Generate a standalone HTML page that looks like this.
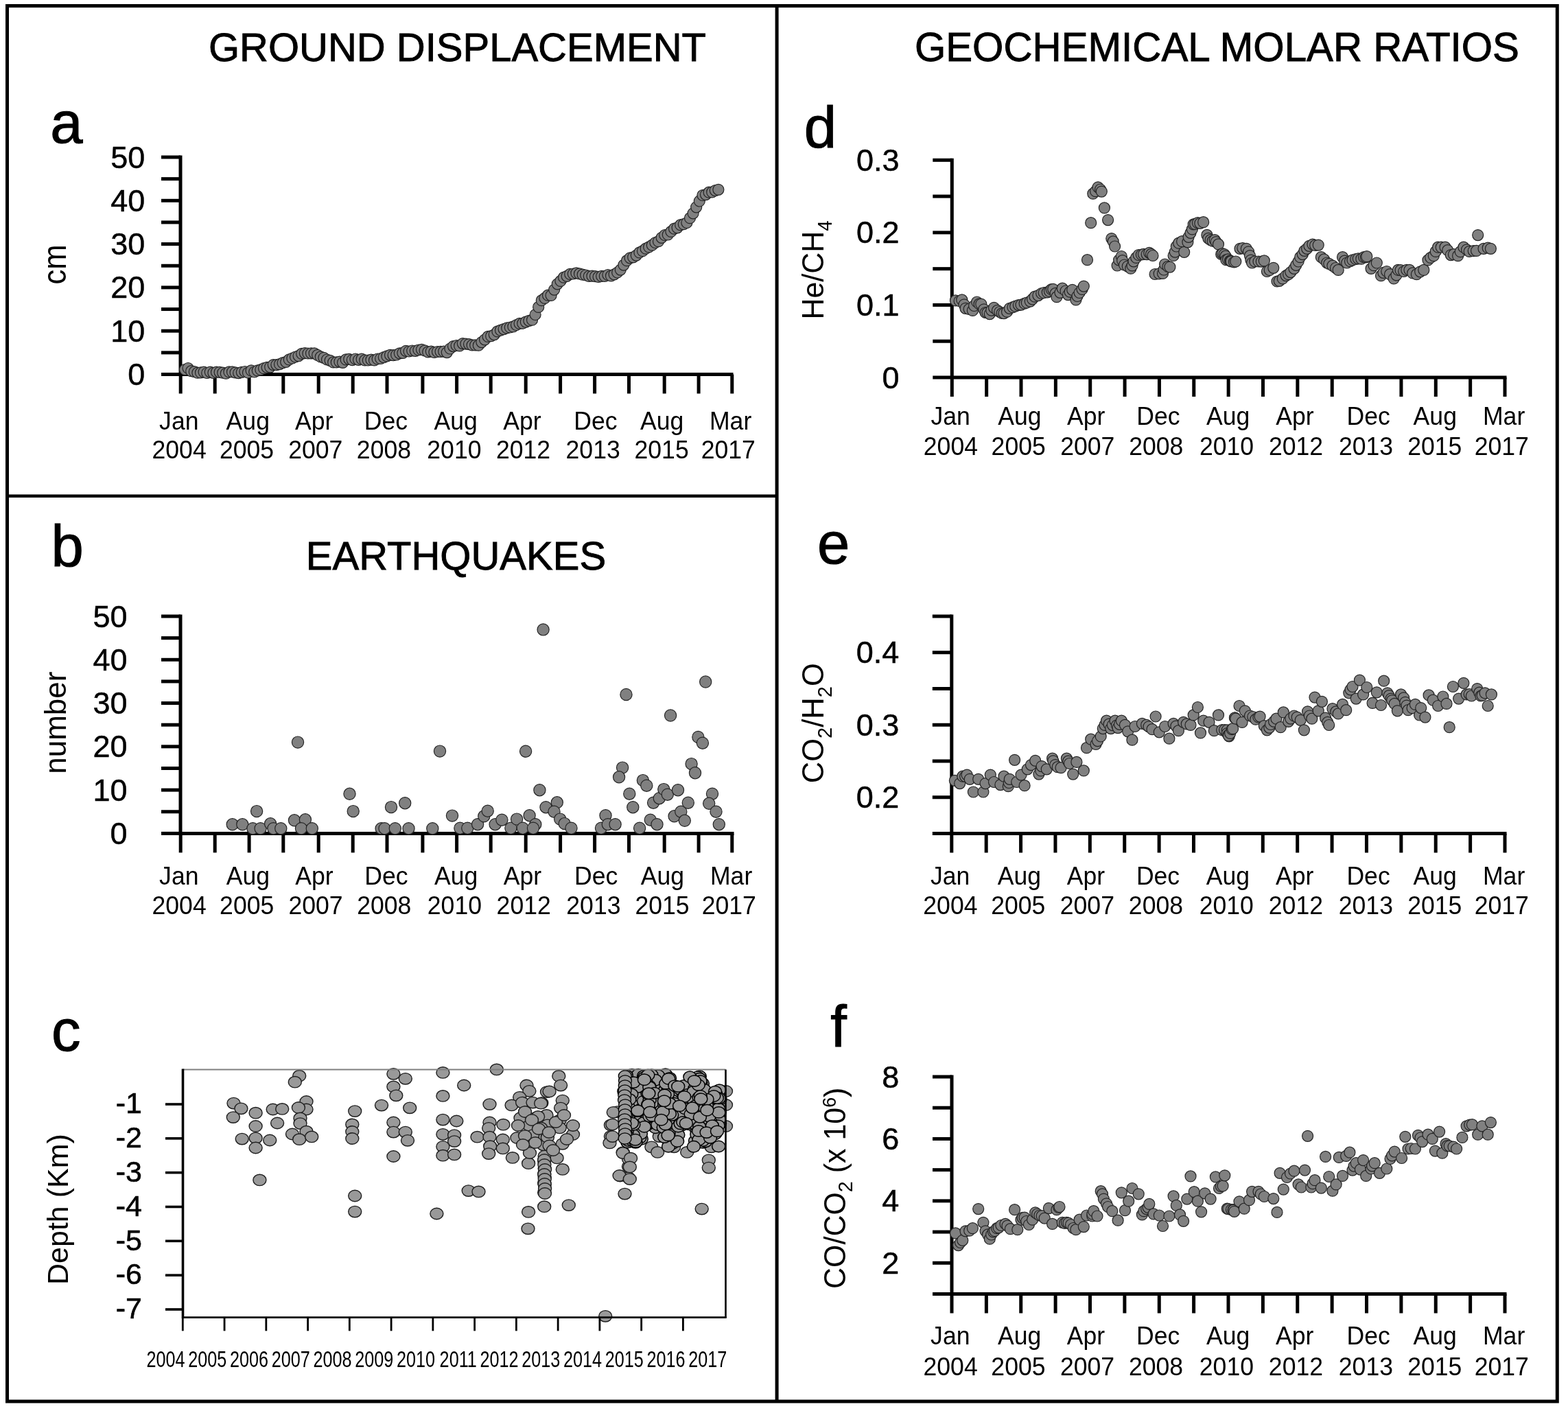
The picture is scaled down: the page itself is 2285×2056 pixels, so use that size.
<!DOCTYPE html>
<html><head><meta charset="utf-8"><title>Figure</title>
<style>html,body{margin:0;padding:0;background:#fff;}svg{display:block;}</style></head>
<body><svg width="2285" height="2056" viewBox="0 0 2285 2056" font-family="'Liberation Sans', sans-serif" fill="#000"><rect x="10.5" y="8.5" width="2258.8" height="2033.5" fill="none" stroke="#000" stroke-width="5"/>
<line x1="1132.10" y1="8.50" x2="1132.10" y2="2042.00" stroke="#000" stroke-width="5"/>
<line x1="10.50" y1="722.80" x2="1132.10" y2="722.80" stroke="#000" stroke-width="4.5"/>
<text x="303.90" y="89.00" font-size="58" text-anchor="start" stroke="#000" stroke-width="0.9">GROUND DISPLACEMENT</text>
<text x="1332.90" y="89.00" font-size="58.3" text-anchor="start" stroke="#000" stroke-width="0.9">GEOCHEMICAL MOLAR RATIOS</text>
<text x="445.80" y="830.00" font-size="58" text-anchor="start" stroke="#000" stroke-width="0.9">EARTHQUAKES</text>
<text x="73.20" y="207.80" font-size="85" text-anchor="start" stroke="#000" stroke-width="1.1">a</text>
<text x="74.60" y="825.00" font-size="85" text-anchor="start" stroke="#000" stroke-width="1.1">b</text>
<text x="74.90" y="1530.80" font-size="85" text-anchor="start" stroke="#000" stroke-width="1.1">c</text>
<text x="1171.80" y="215.30" font-size="85" text-anchor="start" stroke="#000" stroke-width="1.1">d</text>
<text x="1191.00" y="821.20" font-size="85" text-anchor="start" stroke="#000" stroke-width="1.1">e</text>
<text x="1210.20" y="1525.00" font-size="85" text-anchor="start" stroke="#000" stroke-width="1.1">f</text>
<line x1="263.00" y1="226.50" x2="263.00" y2="545.50" stroke="#000" stroke-width="5"/>
<line x1="235.00" y1="229.00" x2="263.00" y2="229.00" stroke="#000" stroke-width="5"/>
<line x1="235.00" y1="260.65" x2="263.00" y2="260.65" stroke="#000" stroke-width="5"/>
<line x1="235.00" y1="292.30" x2="263.00" y2="292.30" stroke="#000" stroke-width="5"/>
<line x1="235.00" y1="323.95" x2="263.00" y2="323.95" stroke="#000" stroke-width="5"/>
<line x1="235.00" y1="355.60" x2="263.00" y2="355.60" stroke="#000" stroke-width="5"/>
<line x1="235.00" y1="387.25" x2="263.00" y2="387.25" stroke="#000" stroke-width="5"/>
<line x1="235.00" y1="418.90" x2="263.00" y2="418.90" stroke="#000" stroke-width="5"/>
<line x1="235.00" y1="450.55" x2="263.00" y2="450.55" stroke="#000" stroke-width="5"/>
<line x1="235.00" y1="482.20" x2="263.00" y2="482.20" stroke="#000" stroke-width="5"/>
<line x1="235.00" y1="513.85" x2="263.00" y2="513.85" stroke="#000" stroke-width="5"/>
<line x1="235.00" y1="545.50" x2="263.00" y2="545.50" stroke="#000" stroke-width="5"/>
<line x1="263.00" y1="545.50" x2="1068.50" y2="545.50" stroke="#000" stroke-width="5"/>
<line x1="263.20" y1="545.50" x2="263.20" y2="573.50" stroke="#000" stroke-width="5"/>
<line x1="313.20" y1="545.50" x2="313.20" y2="573.50" stroke="#000" stroke-width="5"/>
<line x1="363.10" y1="545.50" x2="363.10" y2="573.50" stroke="#000" stroke-width="5"/>
<line x1="412.80" y1="545.50" x2="412.80" y2="573.50" stroke="#000" stroke-width="5"/>
<line x1="464.20" y1="545.50" x2="464.20" y2="573.50" stroke="#000" stroke-width="5"/>
<line x1="514.20" y1="545.50" x2="514.20" y2="573.50" stroke="#000" stroke-width="5"/>
<line x1="564.00" y1="545.50" x2="564.00" y2="573.50" stroke="#000" stroke-width="5"/>
<line x1="615.90" y1="545.50" x2="615.90" y2="573.50" stroke="#000" stroke-width="5"/>
<line x1="665.60" y1="545.50" x2="665.60" y2="573.50" stroke="#000" stroke-width="5"/>
<line x1="715.20" y1="545.50" x2="715.20" y2="573.50" stroke="#000" stroke-width="5"/>
<line x1="766.20" y1="545.50" x2="766.20" y2="573.50" stroke="#000" stroke-width="5"/>
<line x1="816.60" y1="545.50" x2="816.60" y2="573.50" stroke="#000" stroke-width="5"/>
<line x1="866.60" y1="545.50" x2="866.60" y2="573.50" stroke="#000" stroke-width="5"/>
<line x1="916.50" y1="545.50" x2="916.50" y2="573.50" stroke="#000" stroke-width="5"/>
<line x1="968.20" y1="545.50" x2="968.20" y2="573.50" stroke="#000" stroke-width="5"/>
<line x1="1018.10" y1="545.50" x2="1018.10" y2="573.50" stroke="#000" stroke-width="5"/>
<line x1="1066.80" y1="545.50" x2="1066.80" y2="573.50" stroke="#000" stroke-width="5"/>
<text x="211.20" y="244.50" font-size="45" text-anchor="end" stroke="#000" stroke-width="0.5">50</text>
<text x="211.20" y="307.80" font-size="45" text-anchor="end" stroke="#000" stroke-width="0.5">40</text>
<text x="211.20" y="371.10" font-size="45" text-anchor="end" stroke="#000" stroke-width="0.5">30</text>
<text x="211.20" y="434.40" font-size="45" text-anchor="end" stroke="#000" stroke-width="0.5">20</text>
<text x="211.20" y="497.70" font-size="45" text-anchor="end" stroke="#000" stroke-width="0.5">10</text>
<text x="211.20" y="561.00" font-size="45" text-anchor="end" stroke="#000" stroke-width="0.5">0</text>
<text transform="translate(260.80,625.70) scale(0.962,1)" font-size="37" text-anchor="middle">Jan</text>
<text transform="translate(261.10,668.00) scale(0.962,1)" font-size="37" text-anchor="middle">2004</text>
<text transform="translate(361.27,625.70) scale(0.962,1)" font-size="37" text-anchor="middle">Aug</text>
<text transform="translate(359.57,668.00) scale(0.962,1)" font-size="37" text-anchor="middle">2005</text>
<text transform="translate(457.75,625.70) scale(0.962,1)" font-size="37" text-anchor="middle">Apr</text>
<text transform="translate(459.75,668.00) scale(0.962,1)" font-size="37" text-anchor="middle">2007</text>
<text transform="translate(562.52,625.70) scale(0.962,1)" font-size="37" text-anchor="middle">Dec</text>
<text transform="translate(559.42,668.00) scale(0.962,1)" font-size="37" text-anchor="middle">2008</text>
<text transform="translate(664.10,625.70) scale(0.962,1)" font-size="37" text-anchor="middle">Aug</text>
<text transform="translate(661.90,668.00) scale(0.962,1)" font-size="37" text-anchor="middle">2010</text>
<text transform="translate(760.88,625.70) scale(0.962,1)" font-size="37" text-anchor="middle">Apr</text>
<text transform="translate(762.58,668.00) scale(0.962,1)" font-size="37" text-anchor="middle">2012</text>
<text transform="translate(867.85,625.70) scale(0.962,1)" font-size="37" text-anchor="middle">Dec</text>
<text transform="translate(864.15,668.00) scale(0.962,1)" font-size="37" text-anchor="middle">2013</text>
<text transform="translate(964.62,625.70) scale(0.962,1)" font-size="37" text-anchor="middle">Aug</text>
<text transform="translate(964.12,668.00) scale(0.962,1)" font-size="37" text-anchor="middle">2015</text>
<text transform="translate(1064.60,625.70) scale(0.962,1)" font-size="37" text-anchor="middle">Mar</text>
<text transform="translate(1061.30,668.00) scale(0.962,1)" font-size="37" text-anchor="middle">2017</text>
<line x1="263.00" y1="895.50" x2="263.00" y2="1214.40" stroke="#000" stroke-width="5"/>
<line x1="235.00" y1="898.00" x2="263.00" y2="898.00" stroke="#000" stroke-width="5"/>
<line x1="235.00" y1="929.64" x2="263.00" y2="929.64" stroke="#000" stroke-width="5"/>
<line x1="235.00" y1="961.28" x2="263.00" y2="961.28" stroke="#000" stroke-width="5"/>
<line x1="235.00" y1="992.92" x2="263.00" y2="992.92" stroke="#000" stroke-width="5"/>
<line x1="235.00" y1="1024.56" x2="263.00" y2="1024.56" stroke="#000" stroke-width="5"/>
<line x1="235.00" y1="1056.20" x2="263.00" y2="1056.20" stroke="#000" stroke-width="5"/>
<line x1="235.00" y1="1087.84" x2="263.00" y2="1087.84" stroke="#000" stroke-width="5"/>
<line x1="235.00" y1="1119.48" x2="263.00" y2="1119.48" stroke="#000" stroke-width="5"/>
<line x1="235.00" y1="1151.12" x2="263.00" y2="1151.12" stroke="#000" stroke-width="5"/>
<line x1="235.00" y1="1182.76" x2="263.00" y2="1182.76" stroke="#000" stroke-width="5"/>
<line x1="235.00" y1="1214.40" x2="263.00" y2="1214.40" stroke="#000" stroke-width="5"/>
<line x1="263.00" y1="1214.40" x2="1069.50" y2="1214.40" stroke="#000" stroke-width="5"/>
<line x1="263.20" y1="1214.40" x2="263.20" y2="1242.40" stroke="#000" stroke-width="5"/>
<line x1="313.20" y1="1214.40" x2="313.20" y2="1242.40" stroke="#000" stroke-width="5"/>
<line x1="363.10" y1="1214.40" x2="363.10" y2="1242.40" stroke="#000" stroke-width="5"/>
<line x1="412.80" y1="1214.40" x2="412.80" y2="1242.40" stroke="#000" stroke-width="5"/>
<line x1="464.20" y1="1214.40" x2="464.20" y2="1242.40" stroke="#000" stroke-width="5"/>
<line x1="514.20" y1="1214.40" x2="514.20" y2="1242.40" stroke="#000" stroke-width="5"/>
<line x1="564.00" y1="1214.40" x2="564.00" y2="1242.40" stroke="#000" stroke-width="5"/>
<line x1="615.90" y1="1214.40" x2="615.90" y2="1242.40" stroke="#000" stroke-width="5"/>
<line x1="665.60" y1="1214.40" x2="665.60" y2="1242.40" stroke="#000" stroke-width="5"/>
<line x1="715.20" y1="1214.40" x2="715.20" y2="1242.40" stroke="#000" stroke-width="5"/>
<line x1="766.20" y1="1214.40" x2="766.20" y2="1242.40" stroke="#000" stroke-width="5"/>
<line x1="816.60" y1="1214.40" x2="816.60" y2="1242.40" stroke="#000" stroke-width="5"/>
<line x1="866.60" y1="1214.40" x2="866.60" y2="1242.40" stroke="#000" stroke-width="5"/>
<line x1="916.50" y1="1214.40" x2="916.50" y2="1242.40" stroke="#000" stroke-width="5"/>
<line x1="968.20" y1="1214.40" x2="968.20" y2="1242.40" stroke="#000" stroke-width="5"/>
<line x1="1018.10" y1="1214.40" x2="1018.10" y2="1242.40" stroke="#000" stroke-width="5"/>
<line x1="1066.80" y1="1214.40" x2="1066.80" y2="1242.40" stroke="#000" stroke-width="5"/>
<text x="185.60" y="913.50" font-size="45" text-anchor="end" stroke="#000" stroke-width="0.5">50</text>
<text x="185.60" y="976.78" font-size="45" text-anchor="end" stroke="#000" stroke-width="0.5">40</text>
<text x="185.60" y="1040.06" font-size="45" text-anchor="end" stroke="#000" stroke-width="0.5">30</text>
<text x="185.60" y="1103.34" font-size="45" text-anchor="end" stroke="#000" stroke-width="0.5">20</text>
<text x="185.60" y="1166.62" font-size="45" text-anchor="end" stroke="#000" stroke-width="0.5">10</text>
<text x="185.60" y="1229.90" font-size="45" text-anchor="end" stroke="#000" stroke-width="0.5">0</text>
<text transform="translate(260.80,1289.30) scale(0.962,1)" font-size="37" text-anchor="middle">Jan</text>
<text transform="translate(261.10,1331.80) scale(0.962,1)" font-size="37" text-anchor="middle">2004</text>
<text transform="translate(361.40,1289.30) scale(0.962,1)" font-size="37" text-anchor="middle">Aug</text>
<text transform="translate(359.70,1331.80) scale(0.962,1)" font-size="37" text-anchor="middle">2005</text>
<text transform="translate(458.00,1289.30) scale(0.962,1)" font-size="37" text-anchor="middle">Apr</text>
<text transform="translate(460.00,1331.80) scale(0.962,1)" font-size="37" text-anchor="middle">2007</text>
<text transform="translate(562.90,1289.30) scale(0.962,1)" font-size="37" text-anchor="middle">Dec</text>
<text transform="translate(559.80,1331.80) scale(0.962,1)" font-size="37" text-anchor="middle">2008</text>
<text transform="translate(664.60,1289.30) scale(0.962,1)" font-size="37" text-anchor="middle">Aug</text>
<text transform="translate(662.40,1331.80) scale(0.962,1)" font-size="37" text-anchor="middle">2010</text>
<text transform="translate(761.50,1289.30) scale(0.962,1)" font-size="37" text-anchor="middle">Apr</text>
<text transform="translate(763.20,1331.80) scale(0.962,1)" font-size="37" text-anchor="middle">2012</text>
<text transform="translate(868.60,1289.30) scale(0.962,1)" font-size="37" text-anchor="middle">Dec</text>
<text transform="translate(864.90,1331.80) scale(0.962,1)" font-size="37" text-anchor="middle">2013</text>
<text transform="translate(965.50,1289.30) scale(0.962,1)" font-size="37" text-anchor="middle">Aug</text>
<text transform="translate(965.00,1331.80) scale(0.962,1)" font-size="37" text-anchor="middle">2015</text>
<text transform="translate(1065.60,1289.30) scale(0.962,1)" font-size="37" text-anchor="middle">Mar</text>
<text transform="translate(1062.30,1331.80) scale(0.962,1)" font-size="37" text-anchor="middle">2017</text>
<line x1="1387.30" y1="230.80" x2="1387.30" y2="550.00" stroke="#000" stroke-width="5"/>
<line x1="1359.30" y1="233.30" x2="1387.30" y2="233.30" stroke="#000" stroke-width="5"/>
<line x1="1359.30" y1="286.08" x2="1387.30" y2="286.08" stroke="#000" stroke-width="5"/>
<line x1="1359.30" y1="338.87" x2="1387.30" y2="338.87" stroke="#000" stroke-width="5"/>
<line x1="1359.30" y1="391.65" x2="1387.30" y2="391.65" stroke="#000" stroke-width="5"/>
<line x1="1359.30" y1="444.43" x2="1387.30" y2="444.43" stroke="#000" stroke-width="5"/>
<line x1="1359.30" y1="497.22" x2="1387.30" y2="497.22" stroke="#000" stroke-width="5"/>
<line x1="1359.30" y1="550.00" x2="1387.30" y2="550.00" stroke="#000" stroke-width="5"/>
<line x1="1387.30" y1="550.00" x2="2195.50" y2="550.00" stroke="#000" stroke-width="5"/>
<line x1="1387.30" y1="550.00" x2="1387.30" y2="578.00" stroke="#000" stroke-width="5"/>
<line x1="1437.66" y1="550.00" x2="1437.66" y2="578.00" stroke="#000" stroke-width="5"/>
<line x1="1488.01" y1="550.00" x2="1488.01" y2="578.00" stroke="#000" stroke-width="5"/>
<line x1="1538.37" y1="550.00" x2="1538.37" y2="578.00" stroke="#000" stroke-width="5"/>
<line x1="1588.72" y1="550.00" x2="1588.72" y2="578.00" stroke="#000" stroke-width="5"/>
<line x1="1639.08" y1="550.00" x2="1639.08" y2="578.00" stroke="#000" stroke-width="5"/>
<line x1="1689.44" y1="550.00" x2="1689.44" y2="578.00" stroke="#000" stroke-width="5"/>
<line x1="1739.79" y1="550.00" x2="1739.79" y2="578.00" stroke="#000" stroke-width="5"/>
<line x1="1790.15" y1="550.00" x2="1790.15" y2="578.00" stroke="#000" stroke-width="5"/>
<line x1="1840.51" y1="550.00" x2="1840.51" y2="578.00" stroke="#000" stroke-width="5"/>
<line x1="1890.86" y1="550.00" x2="1890.86" y2="578.00" stroke="#000" stroke-width="5"/>
<line x1="1941.22" y1="550.00" x2="1941.22" y2="578.00" stroke="#000" stroke-width="5"/>
<line x1="1991.58" y1="550.00" x2="1991.58" y2="578.00" stroke="#000" stroke-width="5"/>
<line x1="2041.93" y1="550.00" x2="2041.93" y2="578.00" stroke="#000" stroke-width="5"/>
<line x1="2092.29" y1="550.00" x2="2092.29" y2="578.00" stroke="#000" stroke-width="5"/>
<line x1="2142.64" y1="550.00" x2="2142.64" y2="578.00" stroke="#000" stroke-width="5"/>
<line x1="2193.00" y1="550.00" x2="2193.00" y2="578.00" stroke="#000" stroke-width="5"/>
<text x="1310.50" y="248.80" font-size="45" text-anchor="end" stroke="#000" stroke-width="0.5">0.3</text>
<text x="1310.50" y="354.37" font-size="45" text-anchor="end" stroke="#000" stroke-width="0.5">0.2</text>
<text x="1310.50" y="459.93" font-size="45" text-anchor="end" stroke="#000" stroke-width="0.5">0.1</text>
<text x="1310.50" y="565.50" font-size="45" text-anchor="end" stroke="#000" stroke-width="0.5">0</text>
<text transform="translate(1385.10,618.70) scale(0.962,1)" font-size="37" text-anchor="middle">Jan</text>
<text transform="translate(1385.40,663.10) scale(0.962,1)" font-size="37" text-anchor="middle">2004</text>
<text transform="translate(1485.91,618.70) scale(0.962,1)" font-size="37" text-anchor="middle">Aug</text>
<text transform="translate(1484.21,663.10) scale(0.962,1)" font-size="37" text-anchor="middle">2005</text>
<text transform="translate(1582.72,618.70) scale(0.962,1)" font-size="37" text-anchor="middle">Apr</text>
<text transform="translate(1584.72,663.10) scale(0.962,1)" font-size="37" text-anchor="middle">2007</text>
<text transform="translate(1687.84,618.70) scale(0.962,1)" font-size="37" text-anchor="middle">Dec</text>
<text transform="translate(1684.74,663.10) scale(0.962,1)" font-size="37" text-anchor="middle">2008</text>
<text transform="translate(1789.75,618.70) scale(0.962,1)" font-size="37" text-anchor="middle">Aug</text>
<text transform="translate(1787.55,663.10) scale(0.962,1)" font-size="37" text-anchor="middle">2010</text>
<text transform="translate(1886.86,618.70) scale(0.962,1)" font-size="37" text-anchor="middle">Apr</text>
<text transform="translate(1888.56,663.10) scale(0.962,1)" font-size="37" text-anchor="middle">2012</text>
<text transform="translate(1994.17,618.70) scale(0.962,1)" font-size="37" text-anchor="middle">Dec</text>
<text transform="translate(1990.48,663.10) scale(0.962,1)" font-size="37" text-anchor="middle">2013</text>
<text transform="translate(2091.29,618.70) scale(0.962,1)" font-size="37" text-anchor="middle">Aug</text>
<text transform="translate(2090.79,663.10) scale(0.962,1)" font-size="37" text-anchor="middle">2015</text>
<text transform="translate(2191.60,618.70) scale(0.962,1)" font-size="37" text-anchor="middle">Mar</text>
<text transform="translate(2188.30,663.10) scale(0.962,1)" font-size="37" text-anchor="middle">2017</text>
<line x1="1386.80" y1="895.50" x2="1386.80" y2="1214.50" stroke="#000" stroke-width="5"/>
<line x1="1358.80" y1="898.00" x2="1386.80" y2="898.00" stroke="#000" stroke-width="5"/>
<line x1="1358.80" y1="950.75" x2="1386.80" y2="950.75" stroke="#000" stroke-width="5"/>
<line x1="1358.80" y1="1003.50" x2="1386.80" y2="1003.50" stroke="#000" stroke-width="5"/>
<line x1="1358.80" y1="1056.25" x2="1386.80" y2="1056.25" stroke="#000" stroke-width="5"/>
<line x1="1358.80" y1="1109.00" x2="1386.80" y2="1109.00" stroke="#000" stroke-width="5"/>
<line x1="1358.80" y1="1161.75" x2="1386.80" y2="1161.75" stroke="#000" stroke-width="5"/>
<line x1="1358.80" y1="1214.50" x2="1386.80" y2="1214.50" stroke="#000" stroke-width="5"/>
<line x1="1386.80" y1="1214.50" x2="2195.50" y2="1214.50" stroke="#000" stroke-width="5"/>
<line x1="1386.80" y1="1214.50" x2="1386.80" y2="1242.50" stroke="#000" stroke-width="5"/>
<line x1="1437.19" y1="1214.50" x2="1437.19" y2="1242.50" stroke="#000" stroke-width="5"/>
<line x1="1487.58" y1="1214.50" x2="1487.58" y2="1242.50" stroke="#000" stroke-width="5"/>
<line x1="1537.96" y1="1214.50" x2="1537.96" y2="1242.50" stroke="#000" stroke-width="5"/>
<line x1="1588.35" y1="1214.50" x2="1588.35" y2="1242.50" stroke="#000" stroke-width="5"/>
<line x1="1638.74" y1="1214.50" x2="1638.74" y2="1242.50" stroke="#000" stroke-width="5"/>
<line x1="1689.12" y1="1214.50" x2="1689.12" y2="1242.50" stroke="#000" stroke-width="5"/>
<line x1="1739.51" y1="1214.50" x2="1739.51" y2="1242.50" stroke="#000" stroke-width="5"/>
<line x1="1789.90" y1="1214.50" x2="1789.90" y2="1242.50" stroke="#000" stroke-width="5"/>
<line x1="1840.29" y1="1214.50" x2="1840.29" y2="1242.50" stroke="#000" stroke-width="5"/>
<line x1="1890.67" y1="1214.50" x2="1890.67" y2="1242.50" stroke="#000" stroke-width="5"/>
<line x1="1941.06" y1="1214.50" x2="1941.06" y2="1242.50" stroke="#000" stroke-width="5"/>
<line x1="1991.45" y1="1214.50" x2="1991.45" y2="1242.50" stroke="#000" stroke-width="5"/>
<line x1="2041.84" y1="1214.50" x2="2041.84" y2="1242.50" stroke="#000" stroke-width="5"/>
<line x1="2092.22" y1="1214.50" x2="2092.22" y2="1242.50" stroke="#000" stroke-width="5"/>
<line x1="2142.61" y1="1214.50" x2="2142.61" y2="1242.50" stroke="#000" stroke-width="5"/>
<line x1="2193.00" y1="1214.50" x2="2193.00" y2="1242.50" stroke="#000" stroke-width="5"/>
<text x="1310.30" y="966.25" font-size="45" text-anchor="end" stroke="#000" stroke-width="0.5">0.4</text>
<text x="1310.30" y="1071.75" font-size="45" text-anchor="end" stroke="#000" stroke-width="0.5">0.3</text>
<text x="1310.30" y="1177.25" font-size="45" text-anchor="end" stroke="#000" stroke-width="0.5">0.2</text>
<text transform="translate(1384.60,1289.10) scale(0.962,1)" font-size="37" text-anchor="middle">Jan</text>
<text transform="translate(1384.90,1332.00) scale(0.962,1)" font-size="37" text-anchor="middle">2004</text>
<text transform="translate(1485.48,1289.10) scale(0.962,1)" font-size="37" text-anchor="middle">Aug</text>
<text transform="translate(1483.78,1332.00) scale(0.962,1)" font-size="37" text-anchor="middle">2005</text>
<text transform="translate(1582.35,1289.10) scale(0.962,1)" font-size="37" text-anchor="middle">Apr</text>
<text transform="translate(1584.35,1332.00) scale(0.962,1)" font-size="37" text-anchor="middle">2007</text>
<text transform="translate(1687.53,1289.10) scale(0.962,1)" font-size="37" text-anchor="middle">Dec</text>
<text transform="translate(1684.42,1332.00) scale(0.962,1)" font-size="37" text-anchor="middle">2008</text>
<text transform="translate(1789.50,1289.10) scale(0.962,1)" font-size="37" text-anchor="middle">Aug</text>
<text transform="translate(1787.30,1332.00) scale(0.962,1)" font-size="37" text-anchor="middle">2010</text>
<text transform="translate(1886.67,1289.10) scale(0.962,1)" font-size="37" text-anchor="middle">Apr</text>
<text transform="translate(1888.38,1332.00) scale(0.962,1)" font-size="37" text-anchor="middle">2012</text>
<text transform="translate(1994.05,1289.10) scale(0.962,1)" font-size="37" text-anchor="middle">Dec</text>
<text transform="translate(1990.35,1332.00) scale(0.962,1)" font-size="37" text-anchor="middle">2013</text>
<text transform="translate(2091.22,1289.10) scale(0.962,1)" font-size="37" text-anchor="middle">Aug</text>
<text transform="translate(2090.72,1332.00) scale(0.962,1)" font-size="37" text-anchor="middle">2015</text>
<text transform="translate(2191.60,1289.10) scale(0.962,1)" font-size="37" text-anchor="middle">Mar</text>
<text transform="translate(2188.30,1332.00) scale(0.962,1)" font-size="37" text-anchor="middle">2017</text>
<line x1="1387.00" y1="1566.50" x2="1387.00" y2="1885.50" stroke="#000" stroke-width="5"/>
<line x1="1359.00" y1="1569.00" x2="1387.00" y2="1569.00" stroke="#000" stroke-width="5"/>
<line x1="1359.00" y1="1614.21" x2="1387.00" y2="1614.21" stroke="#000" stroke-width="5"/>
<line x1="1359.00" y1="1659.43" x2="1387.00" y2="1659.43" stroke="#000" stroke-width="5"/>
<line x1="1359.00" y1="1704.64" x2="1387.00" y2="1704.64" stroke="#000" stroke-width="5"/>
<line x1="1359.00" y1="1749.86" x2="1387.00" y2="1749.86" stroke="#000" stroke-width="5"/>
<line x1="1359.00" y1="1795.07" x2="1387.00" y2="1795.07" stroke="#000" stroke-width="5"/>
<line x1="1359.00" y1="1840.29" x2="1387.00" y2="1840.29" stroke="#000" stroke-width="5"/>
<line x1="1359.00" y1="1885.50" x2="1387.00" y2="1885.50" stroke="#000" stroke-width="5"/>
<line x1="1387.00" y1="1885.50" x2="2195.50" y2="1885.50" stroke="#000" stroke-width="5"/>
<line x1="1387.00" y1="1885.50" x2="1387.00" y2="1913.50" stroke="#000" stroke-width="5"/>
<line x1="1437.38" y1="1885.50" x2="1437.38" y2="1913.50" stroke="#000" stroke-width="5"/>
<line x1="1487.75" y1="1885.50" x2="1487.75" y2="1913.50" stroke="#000" stroke-width="5"/>
<line x1="1538.12" y1="1885.50" x2="1538.12" y2="1913.50" stroke="#000" stroke-width="5"/>
<line x1="1588.50" y1="1885.50" x2="1588.50" y2="1913.50" stroke="#000" stroke-width="5"/>
<line x1="1638.88" y1="1885.50" x2="1638.88" y2="1913.50" stroke="#000" stroke-width="5"/>
<line x1="1689.25" y1="1885.50" x2="1689.25" y2="1913.50" stroke="#000" stroke-width="5"/>
<line x1="1739.62" y1="1885.50" x2="1739.62" y2="1913.50" stroke="#000" stroke-width="5"/>
<line x1="1790.00" y1="1885.50" x2="1790.00" y2="1913.50" stroke="#000" stroke-width="5"/>
<line x1="1840.38" y1="1885.50" x2="1840.38" y2="1913.50" stroke="#000" stroke-width="5"/>
<line x1="1890.75" y1="1885.50" x2="1890.75" y2="1913.50" stroke="#000" stroke-width="5"/>
<line x1="1941.12" y1="1885.50" x2="1941.12" y2="1913.50" stroke="#000" stroke-width="5"/>
<line x1="1991.50" y1="1885.50" x2="1991.50" y2="1913.50" stroke="#000" stroke-width="5"/>
<line x1="2041.88" y1="1885.50" x2="2041.88" y2="1913.50" stroke="#000" stroke-width="5"/>
<line x1="2092.25" y1="1885.50" x2="2092.25" y2="1913.50" stroke="#000" stroke-width="5"/>
<line x1="2142.62" y1="1885.50" x2="2142.62" y2="1913.50" stroke="#000" stroke-width="5"/>
<line x1="2193.00" y1="1885.50" x2="2193.00" y2="1913.50" stroke="#000" stroke-width="5"/>
<text x="1310.30" y="1584.50" font-size="45" text-anchor="end" stroke="#000" stroke-width="0.5">8</text>
<text x="1310.30" y="1674.93" font-size="45" text-anchor="end" stroke="#000" stroke-width="0.5">6</text>
<text x="1310.30" y="1765.36" font-size="45" text-anchor="end" stroke="#000" stroke-width="0.5">4</text>
<text x="1310.30" y="1855.79" font-size="45" text-anchor="end" stroke="#000" stroke-width="0.5">2</text>
<text transform="translate(1384.80,1959.20) scale(0.962,1)" font-size="37" text-anchor="middle">Jan</text>
<text transform="translate(1385.10,2003.70) scale(0.962,1)" font-size="37" text-anchor="middle">2004</text>
<text transform="translate(1485.65,1959.20) scale(0.962,1)" font-size="37" text-anchor="middle">Aug</text>
<text transform="translate(1483.95,2003.70) scale(0.962,1)" font-size="37" text-anchor="middle">2005</text>
<text transform="translate(1582.50,1959.20) scale(0.962,1)" font-size="37" text-anchor="middle">Apr</text>
<text transform="translate(1584.50,2003.70) scale(0.962,1)" font-size="37" text-anchor="middle">2007</text>
<text transform="translate(1687.65,1959.20) scale(0.962,1)" font-size="37" text-anchor="middle">Dec</text>
<text transform="translate(1684.55,2003.70) scale(0.962,1)" font-size="37" text-anchor="middle">2008</text>
<text transform="translate(1789.60,1959.20) scale(0.962,1)" font-size="37" text-anchor="middle">Aug</text>
<text transform="translate(1787.40,2003.70) scale(0.962,1)" font-size="37" text-anchor="middle">2010</text>
<text transform="translate(1886.75,1959.20) scale(0.962,1)" font-size="37" text-anchor="middle">Apr</text>
<text transform="translate(1888.45,2003.70) scale(0.962,1)" font-size="37" text-anchor="middle">2012</text>
<text transform="translate(1994.10,1959.20) scale(0.962,1)" font-size="37" text-anchor="middle">Dec</text>
<text transform="translate(1990.40,2003.70) scale(0.962,1)" font-size="37" text-anchor="middle">2013</text>
<text transform="translate(2091.25,1959.20) scale(0.962,1)" font-size="37" text-anchor="middle">Aug</text>
<text transform="translate(2090.75,2003.70) scale(0.962,1)" font-size="37" text-anchor="middle">2015</text>
<text transform="translate(2191.60,1959.20) scale(0.962,1)" font-size="37" text-anchor="middle">Mar</text>
<text transform="translate(2188.30,2003.70) scale(0.962,1)" font-size="37" text-anchor="middle">2017</text>
<text transform="translate(95.80,414.50) rotate(-90) scale(0.92,1)" font-size="47.5">cm</text>
<text transform="translate(96.20,1127.80) rotate(-90)" font-size="44">number</text>
<text transform="translate(98.50,1872.00) rotate(-90)" font-size="43">Depth (Km)</text>
<text transform="translate(1199.50,465.60) rotate(-90) scale(0.955,1)" font-size="45">He/CH<tspan font-size="29" dy="12.3">4</tspan></text>
<text transform="translate(1199.50,1141.30) rotate(-90) scale(0.968,1)" font-size="45">CO<tspan font-size="30" dy="12.8">2</tspan><tspan dy="-12.8">/H</tspan><tspan font-size="30" dy="12.8">2</tspan><tspan dy="-12.8">O</tspan></text>
<text transform="translate(1231.60,1878.00) rotate(-90) scale(0.955,1)" font-size="45">CO/CO<tspan font-size="30" dy="10.7">2</tspan><tspan dy="-10.7"> (x 10</tspan><tspan font-size="28" dy="-13.2">6</tspan><tspan dy="13.2">)</tspan></text>
<circle cx="269.5" cy="538.5" r="8.0" fill="#808080" stroke="#252525" stroke-width="1.2"/>
<circle cx="274.1" cy="536.5" r="8.0" fill="#808080" stroke="#252525" stroke-width="1.2"/>
<circle cx="278.7" cy="540.7" r="8.0" fill="#808080" stroke="#252525" stroke-width="1.2"/>
<circle cx="283.3" cy="541.7" r="8.0" fill="#808080" stroke="#252525" stroke-width="1.2"/>
<circle cx="287.9" cy="543.2" r="8.0" fill="#808080" stroke="#252525" stroke-width="1.2"/>
<circle cx="292.5" cy="542.9" r="8.0" fill="#808080" stroke="#252525" stroke-width="1.2"/>
<circle cx="297.1" cy="542.1" r="8.0" fill="#808080" stroke="#252525" stroke-width="1.2"/>
<circle cx="301.7" cy="543.5" r="8.0" fill="#808080" stroke="#252525" stroke-width="1.2"/>
<circle cx="306.3" cy="542.1" r="8.0" fill="#808080" stroke="#252525" stroke-width="1.2"/>
<circle cx="310.9" cy="543.3" r="8.0" fill="#808080" stroke="#252525" stroke-width="1.2"/>
<circle cx="315.5" cy="542.2" r="8.0" fill="#808080" stroke="#252525" stroke-width="1.2"/>
<circle cx="320.1" cy="542.3" r="8.0" fill="#808080" stroke="#252525" stroke-width="1.2"/>
<circle cx="324.7" cy="543.2" r="8.0" fill="#808080" stroke="#252525" stroke-width="1.2"/>
<circle cx="329.3" cy="544.2" r="8.0" fill="#808080" stroke="#252525" stroke-width="1.2"/>
<circle cx="333.9" cy="541.9" r="8.0" fill="#808080" stroke="#252525" stroke-width="1.2"/>
<circle cx="338.5" cy="541.9" r="8.0" fill="#808080" stroke="#252525" stroke-width="1.2"/>
<circle cx="343.1" cy="542.9" r="8.0" fill="#808080" stroke="#252525" stroke-width="1.2"/>
<circle cx="347.7" cy="543.6" r="8.0" fill="#808080" stroke="#252525" stroke-width="1.2"/>
<circle cx="352.3" cy="542.3" r="8.0" fill="#808080" stroke="#252525" stroke-width="1.2"/>
<circle cx="356.9" cy="541.5" r="8.0" fill="#808080" stroke="#252525" stroke-width="1.2"/>
<circle cx="361.5" cy="543.0" r="8.0" fill="#808080" stroke="#252525" stroke-width="1.2"/>
<circle cx="366.1" cy="539.9" r="8.0" fill="#808080" stroke="#252525" stroke-width="1.2"/>
<circle cx="370.7" cy="542.0" r="8.0" fill="#808080" stroke="#252525" stroke-width="1.2"/>
<circle cx="375.3" cy="539.9" r="8.0" fill="#808080" stroke="#252525" stroke-width="1.2"/>
<circle cx="379.9" cy="538.7" r="8.0" fill="#808080" stroke="#252525" stroke-width="1.2"/>
<circle cx="384.5" cy="536.7" r="8.0" fill="#808080" stroke="#252525" stroke-width="1.2"/>
<circle cx="389.1" cy="535.3" r="8.0" fill="#808080" stroke="#252525" stroke-width="1.2"/>
<circle cx="393.7" cy="534.8" r="8.0" fill="#808080" stroke="#252525" stroke-width="1.2"/>
<circle cx="398.3" cy="531.6" r="8.0" fill="#808080" stroke="#252525" stroke-width="1.2"/>
<circle cx="402.9" cy="531.6" r="8.0" fill="#808080" stroke="#252525" stroke-width="1.2"/>
<circle cx="407.5" cy="530.7" r="8.0" fill="#808080" stroke="#252525" stroke-width="1.2"/>
<circle cx="412.1" cy="528.7" r="8.0" fill="#808080" stroke="#252525" stroke-width="1.2"/>
<circle cx="416.7" cy="527.3" r="8.0" fill="#808080" stroke="#252525" stroke-width="1.2"/>
<circle cx="421.3" cy="523.9" r="8.0" fill="#808080" stroke="#252525" stroke-width="1.2"/>
<circle cx="425.9" cy="522.0" r="8.0" fill="#808080" stroke="#252525" stroke-width="1.2"/>
<circle cx="430.5" cy="520.0" r="8.0" fill="#808080" stroke="#252525" stroke-width="1.2"/>
<circle cx="435.1" cy="518.6" r="8.0" fill="#808080" stroke="#252525" stroke-width="1.2"/>
<circle cx="439.7" cy="515.4" r="8.0" fill="#808080" stroke="#252525" stroke-width="1.2"/>
<circle cx="444.3" cy="514.6" r="8.0" fill="#808080" stroke="#252525" stroke-width="1.2"/>
<circle cx="448.9" cy="515.0" r="8.0" fill="#808080" stroke="#252525" stroke-width="1.2"/>
<circle cx="453.5" cy="514.8" r="8.0" fill="#808080" stroke="#252525" stroke-width="1.2"/>
<circle cx="458.1" cy="514.8" r="8.0" fill="#808080" stroke="#252525" stroke-width="1.2"/>
<circle cx="462.7" cy="517.4" r="8.0" fill="#808080" stroke="#252525" stroke-width="1.2"/>
<circle cx="467.3" cy="519.9" r="8.0" fill="#808080" stroke="#252525" stroke-width="1.2"/>
<circle cx="471.9" cy="521.3" r="8.0" fill="#808080" stroke="#252525" stroke-width="1.2"/>
<circle cx="476.5" cy="524.0" r="8.0" fill="#808080" stroke="#252525" stroke-width="1.2"/>
<circle cx="481.1" cy="525.3" r="8.0" fill="#808080" stroke="#252525" stroke-width="1.2"/>
<circle cx="485.7" cy="527.9" r="8.0" fill="#808080" stroke="#252525" stroke-width="1.2"/>
<circle cx="490.3" cy="527.9" r="8.0" fill="#808080" stroke="#252525" stroke-width="1.2"/>
<circle cx="494.9" cy="527.1" r="8.0" fill="#808080" stroke="#252525" stroke-width="1.2"/>
<circle cx="499.5" cy="528.3" r="8.0" fill="#808080" stroke="#252525" stroke-width="1.2"/>
<circle cx="504.1" cy="523.9" r="8.0" fill="#808080" stroke="#252525" stroke-width="1.2"/>
<circle cx="508.7" cy="523.3" r="8.0" fill="#808080" stroke="#252525" stroke-width="1.2"/>
<circle cx="513.3" cy="524.6" r="8.0" fill="#808080" stroke="#252525" stroke-width="1.2"/>
<circle cx="517.9" cy="523.0" r="8.0" fill="#808080" stroke="#252525" stroke-width="1.2"/>
<circle cx="522.5" cy="524.3" r="8.0" fill="#808080" stroke="#252525" stroke-width="1.2"/>
<circle cx="527.1" cy="523.2" r="8.0" fill="#808080" stroke="#252525" stroke-width="1.2"/>
<circle cx="531.7" cy="524.9" r="8.0" fill="#808080" stroke="#252525" stroke-width="1.2"/>
<circle cx="536.3" cy="525.0" r="8.0" fill="#808080" stroke="#252525" stroke-width="1.2"/>
<circle cx="540.9" cy="524.2" r="8.0" fill="#808080" stroke="#252525" stroke-width="1.2"/>
<circle cx="545.5" cy="524.9" r="8.0" fill="#808080" stroke="#252525" stroke-width="1.2"/>
<circle cx="550.1" cy="523.0" r="8.0" fill="#808080" stroke="#252525" stroke-width="1.2"/>
<circle cx="554.7" cy="522.5" r="8.0" fill="#808080" stroke="#252525" stroke-width="1.2"/>
<circle cx="559.3" cy="520.6" r="8.0" fill="#808080" stroke="#252525" stroke-width="1.2"/>
<circle cx="563.9" cy="518.9" r="8.0" fill="#808080" stroke="#252525" stroke-width="1.2"/>
<circle cx="568.5" cy="517.3" r="8.0" fill="#808080" stroke="#252525" stroke-width="1.2"/>
<circle cx="573.1" cy="517.6" r="8.0" fill="#808080" stroke="#252525" stroke-width="1.2"/>
<circle cx="577.7" cy="517.0" r="8.0" fill="#808080" stroke="#252525" stroke-width="1.2"/>
<circle cx="582.3" cy="514.8" r="8.0" fill="#808080" stroke="#252525" stroke-width="1.2"/>
<circle cx="586.9" cy="514.3" r="8.0" fill="#808080" stroke="#252525" stroke-width="1.2"/>
<circle cx="591.5" cy="511.3" r="8.0" fill="#808080" stroke="#252525" stroke-width="1.2"/>
<circle cx="596.1" cy="512.0" r="8.0" fill="#808080" stroke="#252525" stroke-width="1.2"/>
<circle cx="600.7" cy="511.0" r="8.0" fill="#808080" stroke="#252525" stroke-width="1.2"/>
<circle cx="605.3" cy="511.3" r="8.0" fill="#808080" stroke="#252525" stroke-width="1.2"/>
<circle cx="609.9" cy="510.0" r="8.0" fill="#808080" stroke="#252525" stroke-width="1.2"/>
<circle cx="614.5" cy="509.4" r="8.0" fill="#808080" stroke="#252525" stroke-width="1.2"/>
<circle cx="619.1" cy="510.9" r="8.0" fill="#808080" stroke="#252525" stroke-width="1.2"/>
<circle cx="623.7" cy="512.9" r="8.0" fill="#808080" stroke="#252525" stroke-width="1.2"/>
<circle cx="628.3" cy="512.1" r="8.0" fill="#808080" stroke="#252525" stroke-width="1.2"/>
<circle cx="632.9" cy="513.4" r="8.0" fill="#808080" stroke="#252525" stroke-width="1.2"/>
<circle cx="637.5" cy="512.5" r="8.0" fill="#808080" stroke="#252525" stroke-width="1.2"/>
<circle cx="642.1" cy="512.4" r="8.0" fill="#808080" stroke="#252525" stroke-width="1.2"/>
<circle cx="646.7" cy="512.2" r="8.0" fill="#808080" stroke="#252525" stroke-width="1.2"/>
<circle cx="651.3" cy="513.6" r="8.0" fill="#808080" stroke="#252525" stroke-width="1.2"/>
<circle cx="655.9" cy="508.0" r="8.0" fill="#808080" stroke="#252525" stroke-width="1.2"/>
<circle cx="660.5" cy="504.6" r="8.0" fill="#808080" stroke="#252525" stroke-width="1.2"/>
<circle cx="665.1" cy="503.5" r="8.0" fill="#808080" stroke="#252525" stroke-width="1.2"/>
<circle cx="669.7" cy="503.9" r="8.0" fill="#808080" stroke="#252525" stroke-width="1.2"/>
<circle cx="674.3" cy="500.6" r="8.0" fill="#808080" stroke="#252525" stroke-width="1.2"/>
<circle cx="678.9" cy="501.1" r="8.0" fill="#808080" stroke="#252525" stroke-width="1.2"/>
<circle cx="683.5" cy="501.6" r="8.0" fill="#808080" stroke="#252525" stroke-width="1.2"/>
<circle cx="688.1" cy="502.9" r="8.0" fill="#808080" stroke="#252525" stroke-width="1.2"/>
<circle cx="692.7" cy="502.9" r="8.0" fill="#808080" stroke="#252525" stroke-width="1.2"/>
<circle cx="697.3" cy="503.2" r="8.0" fill="#808080" stroke="#252525" stroke-width="1.2"/>
<circle cx="701.9" cy="498.6" r="8.0" fill="#808080" stroke="#252525" stroke-width="1.2"/>
<circle cx="706.5" cy="494.8" r="8.0" fill="#808080" stroke="#252525" stroke-width="1.2"/>
<circle cx="711.1" cy="490.4" r="8.0" fill="#808080" stroke="#252525" stroke-width="1.2"/>
<circle cx="715.7" cy="489.7" r="8.0" fill="#808080" stroke="#252525" stroke-width="1.2"/>
<circle cx="720.3" cy="487.6" r="8.0" fill="#808080" stroke="#252525" stroke-width="1.2"/>
<circle cx="724.9" cy="482.9" r="8.0" fill="#808080" stroke="#252525" stroke-width="1.2"/>
<circle cx="729.5" cy="481.2" r="8.0" fill="#808080" stroke="#252525" stroke-width="1.2"/>
<circle cx="734.1" cy="479.6" r="8.0" fill="#808080" stroke="#252525" stroke-width="1.2"/>
<circle cx="738.7" cy="477.9" r="8.0" fill="#808080" stroke="#252525" stroke-width="1.2"/>
<circle cx="743.3" cy="477.0" r="8.0" fill="#808080" stroke="#252525" stroke-width="1.2"/>
<circle cx="747.9" cy="475.9" r="8.0" fill="#808080" stroke="#252525" stroke-width="1.2"/>
<circle cx="752.5" cy="473.5" r="8.0" fill="#808080" stroke="#252525" stroke-width="1.2"/>
<circle cx="757.1" cy="471.4" r="8.0" fill="#808080" stroke="#252525" stroke-width="1.2"/>
<circle cx="761.7" cy="471.2" r="8.0" fill="#808080" stroke="#252525" stroke-width="1.2"/>
<circle cx="766.3" cy="469.1" r="8.0" fill="#808080" stroke="#252525" stroke-width="1.2"/>
<circle cx="770.9" cy="467.3" r="8.0" fill="#808080" stroke="#252525" stroke-width="1.2"/>
<circle cx="775.5" cy="466.2" r="8.0" fill="#808080" stroke="#252525" stroke-width="1.2"/>
<circle cx="780.1" cy="458.5" r="8.0" fill="#808080" stroke="#252525" stroke-width="1.2"/>
<circle cx="784.7" cy="447.4" r="8.0" fill="#808080" stroke="#252525" stroke-width="1.2"/>
<circle cx="789.3" cy="437.7" r="8.0" fill="#808080" stroke="#252525" stroke-width="1.2"/>
<circle cx="793.9" cy="434.4" r="8.0" fill="#808080" stroke="#252525" stroke-width="1.2"/>
<circle cx="798.5" cy="430.2" r="8.0" fill="#808080" stroke="#252525" stroke-width="1.2"/>
<circle cx="803.1" cy="430.4" r="8.0" fill="#808080" stroke="#252525" stroke-width="1.2"/>
<circle cx="807.7" cy="422.1" r="8.0" fill="#808080" stroke="#252525" stroke-width="1.2"/>
<circle cx="812.3" cy="413.8" r="8.0" fill="#808080" stroke="#252525" stroke-width="1.2"/>
<circle cx="816.9" cy="409.4" r="8.0" fill="#808080" stroke="#252525" stroke-width="1.2"/>
<circle cx="821.5" cy="404.2" r="8.0" fill="#808080" stroke="#252525" stroke-width="1.2"/>
<circle cx="826.1" cy="402.3" r="8.0" fill="#808080" stroke="#252525" stroke-width="1.2"/>
<circle cx="830.7" cy="399.4" r="8.0" fill="#808080" stroke="#252525" stroke-width="1.2"/>
<circle cx="835.3" cy="399.0" r="8.0" fill="#808080" stroke="#252525" stroke-width="1.2"/>
<circle cx="839.9" cy="397.9" r="8.0" fill="#808080" stroke="#252525" stroke-width="1.2"/>
<circle cx="844.5" cy="398.9" r="8.0" fill="#808080" stroke="#252525" stroke-width="1.2"/>
<circle cx="849.1" cy="400.2" r="8.0" fill="#808080" stroke="#252525" stroke-width="1.2"/>
<circle cx="853.7" cy="401.0" r="8.0" fill="#808080" stroke="#252525" stroke-width="1.2"/>
<circle cx="858.3" cy="402.4" r="8.0" fill="#808080" stroke="#252525" stroke-width="1.2"/>
<circle cx="862.9" cy="402.2" r="8.0" fill="#808080" stroke="#252525" stroke-width="1.2"/>
<circle cx="867.5" cy="402.7" r="8.0" fill="#808080" stroke="#252525" stroke-width="1.2"/>
<circle cx="872.1" cy="403.4" r="8.0" fill="#808080" stroke="#252525" stroke-width="1.2"/>
<circle cx="876.7" cy="402.4" r="8.0" fill="#808080" stroke="#252525" stroke-width="1.2"/>
<circle cx="881.3" cy="402.4" r="8.0" fill="#808080" stroke="#252525" stroke-width="1.2"/>
<circle cx="885.9" cy="400.5" r="8.0" fill="#808080" stroke="#252525" stroke-width="1.2"/>
<circle cx="890.5" cy="401.9" r="8.0" fill="#808080" stroke="#252525" stroke-width="1.2"/>
<circle cx="895.1" cy="399.8" r="8.0" fill="#808080" stroke="#252525" stroke-width="1.2"/>
<circle cx="899.7" cy="397.0" r="8.0" fill="#808080" stroke="#252525" stroke-width="1.2"/>
<circle cx="904.3" cy="393.1" r="8.0" fill="#808080" stroke="#252525" stroke-width="1.2"/>
<circle cx="908.9" cy="386.1" r="8.0" fill="#808080" stroke="#252525" stroke-width="1.2"/>
<circle cx="913.5" cy="379.7" r="8.0" fill="#808080" stroke="#252525" stroke-width="1.2"/>
<circle cx="918.1" cy="375.8" r="8.0" fill="#808080" stroke="#252525" stroke-width="1.2"/>
<circle cx="922.7" cy="374.8" r="8.0" fill="#808080" stroke="#252525" stroke-width="1.2"/>
<circle cx="927.3" cy="372.1" r="8.0" fill="#808080" stroke="#252525" stroke-width="1.2"/>
<circle cx="931.9" cy="367.9" r="8.0" fill="#808080" stroke="#252525" stroke-width="1.2"/>
<circle cx="936.5" cy="365.7" r="8.0" fill="#808080" stroke="#252525" stroke-width="1.2"/>
<circle cx="941.1" cy="362.2" r="8.0" fill="#808080" stroke="#252525" stroke-width="1.2"/>
<circle cx="945.7" cy="359.9" r="8.0" fill="#808080" stroke="#252525" stroke-width="1.2"/>
<circle cx="950.3" cy="357.2" r="8.0" fill="#808080" stroke="#252525" stroke-width="1.2"/>
<circle cx="954.9" cy="353.5" r="8.0" fill="#808080" stroke="#252525" stroke-width="1.2"/>
<circle cx="959.5" cy="351.7" r="8.0" fill="#808080" stroke="#252525" stroke-width="1.2"/>
<circle cx="964.1" cy="346.3" r="8.0" fill="#808080" stroke="#252525" stroke-width="1.2"/>
<circle cx="968.7" cy="342.5" r="8.0" fill="#808080" stroke="#252525" stroke-width="1.2"/>
<circle cx="973.3" cy="342.0" r="8.0" fill="#808080" stroke="#252525" stroke-width="1.2"/>
<circle cx="977.9" cy="337.4" r="8.0" fill="#808080" stroke="#252525" stroke-width="1.2"/>
<circle cx="982.5" cy="333.2" r="8.0" fill="#808080" stroke="#252525" stroke-width="1.2"/>
<circle cx="987.1" cy="331.8" r="8.0" fill="#808080" stroke="#252525" stroke-width="1.2"/>
<circle cx="991.7" cy="327.7" r="8.0" fill="#808080" stroke="#252525" stroke-width="1.2"/>
<circle cx="996.3" cy="326.7" r="8.0" fill="#808080" stroke="#252525" stroke-width="1.2"/>
<circle cx="1000.9" cy="324.5" r="8.0" fill="#808080" stroke="#252525" stroke-width="1.2"/>
<circle cx="1005.5" cy="317.7" r="8.0" fill="#808080" stroke="#252525" stroke-width="1.2"/>
<circle cx="1010.1" cy="310.8" r="8.0" fill="#808080" stroke="#252525" stroke-width="1.2"/>
<circle cx="1014.7" cy="301.8" r="8.0" fill="#808080" stroke="#252525" stroke-width="1.2"/>
<circle cx="1019.3" cy="293.0" r="8.0" fill="#808080" stroke="#252525" stroke-width="1.2"/>
<circle cx="1023.9" cy="284.5" r="8.0" fill="#808080" stroke="#252525" stroke-width="1.2"/>
<circle cx="1028.5" cy="283.6" r="8.0" fill="#808080" stroke="#252525" stroke-width="1.2"/>
<circle cx="1033.1" cy="280.2" r="8.0" fill="#808080" stroke="#252525" stroke-width="1.2"/>
<circle cx="1037.7" cy="279.9" r="8.0" fill="#808080" stroke="#252525" stroke-width="1.2"/>
<circle cx="1042.3" cy="277.6" r="8.0" fill="#808080" stroke="#252525" stroke-width="1.2"/>
<circle cx="1046.9" cy="276.3" r="8.0" fill="#808080" stroke="#252525" stroke-width="1.2"/>
<circle cx="338.7" cy="1201.3" r="8.6" fill="#808080" stroke="#252525" stroke-width="1.2"/>
<circle cx="353.3" cy="1201.3" r="8.6" fill="#808080" stroke="#252525" stroke-width="1.2"/>
<circle cx="368.4" cy="1207.2" r="8.6" fill="#808080" stroke="#252525" stroke-width="1.2"/>
<circle cx="379.6" cy="1207.2" r="8.6" fill="#808080" stroke="#252525" stroke-width="1.2"/>
<circle cx="374.1" cy="1182.1" r="8.6" fill="#808080" stroke="#252525" stroke-width="1.2"/>
<circle cx="394.1" cy="1200.3" r="8.6" fill="#808080" stroke="#252525" stroke-width="1.2"/>
<circle cx="398.4" cy="1207.2" r="8.6" fill="#808080" stroke="#252525" stroke-width="1.2"/>
<circle cx="409.3" cy="1207.2" r="8.6" fill="#808080" stroke="#252525" stroke-width="1.2"/>
<circle cx="434.0" cy="1081.6" r="8.6" fill="#808080" stroke="#252525" stroke-width="1.2"/>
<circle cx="429.0" cy="1195.3" r="8.6" fill="#808080" stroke="#252525" stroke-width="1.2"/>
<circle cx="444.9" cy="1194.3" r="8.6" fill="#808080" stroke="#252525" stroke-width="1.2"/>
<circle cx="439.0" cy="1207.2" r="8.6" fill="#808080" stroke="#252525" stroke-width="1.2"/>
<circle cx="454.8" cy="1207.2" r="8.6" fill="#808080" stroke="#252525" stroke-width="1.2"/>
<circle cx="509.5" cy="1156.8" r="8.6" fill="#808080" stroke="#252525" stroke-width="1.2"/>
<circle cx="514.7" cy="1182.1" r="8.6" fill="#808080" stroke="#252525" stroke-width="1.2"/>
<circle cx="555.6" cy="1207.2" r="8.6" fill="#808080" stroke="#252525" stroke-width="1.2"/>
<circle cx="560.5" cy="1207.2" r="8.6" fill="#808080" stroke="#252525" stroke-width="1.2"/>
<circle cx="575.8" cy="1207.2" r="8.6" fill="#808080" stroke="#252525" stroke-width="1.2"/>
<circle cx="570.0" cy="1176.1" r="8.6" fill="#808080" stroke="#252525" stroke-width="1.2"/>
<circle cx="590.2" cy="1170.2" r="8.6" fill="#808080" stroke="#252525" stroke-width="1.2"/>
<circle cx="595.5" cy="1207.2" r="8.6" fill="#808080" stroke="#252525" stroke-width="1.2"/>
<circle cx="630.3" cy="1207.2" r="8.6" fill="#808080" stroke="#252525" stroke-width="1.2"/>
<circle cx="641.0" cy="1094.6" r="8.6" fill="#808080" stroke="#252525" stroke-width="1.2"/>
<circle cx="659.0" cy="1188.6" r="8.6" fill="#808080" stroke="#252525" stroke-width="1.2"/>
<circle cx="791.6" cy="917.4" r="8.6" fill="#808080" stroke="#252525" stroke-width="1.2"/>
<circle cx="766.1" cy="1094.7" r="8.6" fill="#808080" stroke="#252525" stroke-width="1.2"/>
<circle cx="670.4" cy="1206.7" r="8.6" fill="#808080" stroke="#252525" stroke-width="1.2"/>
<circle cx="681.3" cy="1206.7" r="8.6" fill="#808080" stroke="#252525" stroke-width="1.2"/>
<circle cx="696.1" cy="1201.2" r="8.6" fill="#808080" stroke="#252525" stroke-width="1.2"/>
<circle cx="705.3" cy="1189.3" r="8.6" fill="#808080" stroke="#252525" stroke-width="1.2"/>
<circle cx="710.7" cy="1181.7" r="8.6" fill="#808080" stroke="#252525" stroke-width="1.2"/>
<circle cx="721.6" cy="1201.2" r="8.6" fill="#808080" stroke="#252525" stroke-width="1.2"/>
<circle cx="731.4" cy="1194.7" r="8.6" fill="#808080" stroke="#252525" stroke-width="1.2"/>
<circle cx="744.4" cy="1206.7" r="8.6" fill="#808080" stroke="#252525" stroke-width="1.2"/>
<circle cx="753.1" cy="1193.6" r="8.6" fill="#808080" stroke="#252525" stroke-width="1.2"/>
<circle cx="761.8" cy="1206.7" r="8.6" fill="#808080" stroke="#252525" stroke-width="1.2"/>
<circle cx="771.6" cy="1188.2" r="8.6" fill="#808080" stroke="#252525" stroke-width="1.2"/>
<circle cx="780.3" cy="1201.2" r="8.6" fill="#808080" stroke="#252525" stroke-width="1.2"/>
<circle cx="777.0" cy="1206.7" r="8.6" fill="#808080" stroke="#252525" stroke-width="1.2"/>
<circle cx="786.4" cy="1151.2" r="8.6" fill="#808080" stroke="#252525" stroke-width="1.2"/>
<circle cx="795.5" cy="1176.2" r="8.6" fill="#808080" stroke="#252525" stroke-width="1.2"/>
<circle cx="811.8" cy="1169.3" r="8.6" fill="#808080" stroke="#252525" stroke-width="1.2"/>
<circle cx="807.5" cy="1182.7" r="8.6" fill="#808080" stroke="#252525" stroke-width="1.2"/>
<circle cx="816.2" cy="1193.6" r="8.6" fill="#808080" stroke="#252525" stroke-width="1.2"/>
<circle cx="822.7" cy="1200.1" r="8.6" fill="#808080" stroke="#252525" stroke-width="1.2"/>
<circle cx="832.5" cy="1206.7" r="8.6" fill="#808080" stroke="#252525" stroke-width="1.2"/>
<circle cx="876.0" cy="1206.7" r="8.6" fill="#808080" stroke="#252525" stroke-width="1.2"/>
<circle cx="882.5" cy="1188.2" r="8.6" fill="#808080" stroke="#252525" stroke-width="1.2"/>
<circle cx="885.8" cy="1201.2" r="8.6" fill="#808080" stroke="#252525" stroke-width="1.2"/>
<circle cx="896.6" cy="1201.2" r="8.6" fill="#808080" stroke="#252525" stroke-width="1.2"/>
<circle cx="912.5" cy="1012.0" r="8.6" fill="#808080" stroke="#252525" stroke-width="1.2"/>
<circle cx="907.1" cy="1118.6" r="8.6" fill="#808080" stroke="#252525" stroke-width="1.2"/>
<circle cx="902.1" cy="1132.3" r="8.6" fill="#808080" stroke="#252525" stroke-width="1.2"/>
<circle cx="917.3" cy="1156.7" r="8.6" fill="#808080" stroke="#252525" stroke-width="1.2"/>
<circle cx="922.3" cy="1176.2" r="8.6" fill="#808080" stroke="#252525" stroke-width="1.2"/>
<circle cx="932.1" cy="1206.7" r="8.6" fill="#808080" stroke="#252525" stroke-width="1.2"/>
<circle cx="936.9" cy="1137.1" r="8.6" fill="#808080" stroke="#252525" stroke-width="1.2"/>
<circle cx="942.3" cy="1144.7" r="8.6" fill="#808080" stroke="#252525" stroke-width="1.2"/>
<circle cx="947.8" cy="1194.7" r="8.6" fill="#808080" stroke="#252525" stroke-width="1.2"/>
<circle cx="957.5" cy="1201.2" r="8.6" fill="#808080" stroke="#252525" stroke-width="1.2"/>
<circle cx="952.1" cy="1169.7" r="8.6" fill="#808080" stroke="#252525" stroke-width="1.2"/>
<circle cx="960.8" cy="1163.2" r="8.6" fill="#808080" stroke="#252525" stroke-width="1.2"/>
<circle cx="967.3" cy="1150.1" r="8.6" fill="#808080" stroke="#252525" stroke-width="1.2"/>
<circle cx="972.8" cy="1157.7" r="8.6" fill="#808080" stroke="#252525" stroke-width="1.2"/>
<circle cx="988.0" cy="1151.2" r="8.6" fill="#808080" stroke="#252525" stroke-width="1.2"/>
<circle cx="977.1" cy="1042.5" r="8.6" fill="#808080" stroke="#252525" stroke-width="1.2"/>
<circle cx="982.6" cy="1189.3" r="8.6" fill="#808080" stroke="#252525" stroke-width="1.2"/>
<circle cx="992.3" cy="1182.7" r="8.6" fill="#808080" stroke="#252525" stroke-width="1.2"/>
<circle cx="1002.8" cy="1169.7" r="8.6" fill="#808080" stroke="#252525" stroke-width="1.2"/>
<circle cx="997.8" cy="1195.8" r="8.6" fill="#808080" stroke="#252525" stroke-width="1.2"/>
<circle cx="1007.6" cy="1113.1" r="8.6" fill="#808080" stroke="#252525" stroke-width="1.2"/>
<circle cx="1013.0" cy="1126.2" r="8.6" fill="#808080" stroke="#252525" stroke-width="1.2"/>
<circle cx="1017.4" cy="1074.0" r="8.6" fill="#808080" stroke="#252525" stroke-width="1.2"/>
<circle cx="1023.9" cy="1082.7" r="8.6" fill="#808080" stroke="#252525" stroke-width="1.2"/>
<circle cx="1028.2" cy="993.5" r="8.6" fill="#808080" stroke="#252525" stroke-width="1.2"/>
<circle cx="1038.0" cy="1156.7" r="8.6" fill="#808080" stroke="#252525" stroke-width="1.2"/>
<circle cx="1033.2" cy="1170.8" r="8.6" fill="#808080" stroke="#252525" stroke-width="1.2"/>
<circle cx="1043.5" cy="1182.7" r="8.6" fill="#808080" stroke="#252525" stroke-width="1.2"/>
<circle cx="1047.8" cy="1201.2" r="8.6" fill="#808080" stroke="#252525" stroke-width="1.2"/>
<circle cx="1392.5" cy="437.9" r="8.0" fill="#808080" stroke="#252525" stroke-width="1.2"/>
<circle cx="1398.1" cy="438.5" r="8.0" fill="#808080" stroke="#252525" stroke-width="1.2"/>
<circle cx="1401.8" cy="436.9" r="8.0" fill="#808080" stroke="#252525" stroke-width="1.2"/>
<circle cx="1405.0" cy="443.8" r="8.0" fill="#808080" stroke="#252525" stroke-width="1.2"/>
<circle cx="1407.0" cy="449.3" r="8.0" fill="#808080" stroke="#252525" stroke-width="1.2"/>
<circle cx="1412.2" cy="450.4" r="8.0" fill="#808080" stroke="#252525" stroke-width="1.2"/>
<circle cx="1417.4" cy="452.4" r="8.0" fill="#808080" stroke="#252525" stroke-width="1.2"/>
<circle cx="1419.6" cy="445.5" r="8.0" fill="#808080" stroke="#252525" stroke-width="1.2"/>
<circle cx="1423.6" cy="440.0" r="8.0" fill="#808080" stroke="#252525" stroke-width="1.2"/>
<circle cx="1427.1" cy="442.9" r="8.0" fill="#808080" stroke="#252525" stroke-width="1.2"/>
<circle cx="1429.8" cy="443.1" r="8.0" fill="#808080" stroke="#252525" stroke-width="1.2"/>
<circle cx="1433.8" cy="450.8" r="8.0" fill="#808080" stroke="#252525" stroke-width="1.2"/>
<circle cx="1436.1" cy="455.5" r="8.0" fill="#808080" stroke="#252525" stroke-width="1.2"/>
<circle cx="1438.9" cy="455.7" r="8.0" fill="#808080" stroke="#252525" stroke-width="1.2"/>
<circle cx="1442.3" cy="457.6" r="8.0" fill="#808080" stroke="#252525" stroke-width="1.2"/>
<circle cx="1444.8" cy="452.1" r="8.0" fill="#808080" stroke="#252525" stroke-width="1.2"/>
<circle cx="1448.5" cy="448.3" r="8.0" fill="#808080" stroke="#252525" stroke-width="1.2"/>
<circle cx="1453.5" cy="452.4" r="8.0" fill="#808080" stroke="#252525" stroke-width="1.2"/>
<circle cx="1456.8" cy="454.5" r="8.0" fill="#808080" stroke="#252525" stroke-width="1.2"/>
<circle cx="1460.2" cy="456.4" r="8.0" fill="#808080" stroke="#252525" stroke-width="1.2"/>
<circle cx="1463.0" cy="456.6" r="8.0" fill="#808080" stroke="#252525" stroke-width="1.2"/>
<circle cx="1467.5" cy="454.2" r="8.0" fill="#808080" stroke="#252525" stroke-width="1.2"/>
<circle cx="1471.3" cy="449.3" r="8.0" fill="#808080" stroke="#252525" stroke-width="1.2"/>
<circle cx="1476.0" cy="447.7" r="8.0" fill="#808080" stroke="#252525" stroke-width="1.2"/>
<circle cx="1479.7" cy="446.2" r="8.0" fill="#808080" stroke="#252525" stroke-width="1.2"/>
<circle cx="1484.4" cy="444.6" r="8.0" fill="#808080" stroke="#252525" stroke-width="1.2"/>
<circle cx="1488.0" cy="444.1" r="8.0" fill="#808080" stroke="#252525" stroke-width="1.2"/>
<circle cx="1493.1" cy="442.2" r="8.0" fill="#808080" stroke="#252525" stroke-width="1.2"/>
<circle cx="1496.3" cy="441.0" r="8.0" fill="#808080" stroke="#252525" stroke-width="1.2"/>
<circle cx="1501.3" cy="439.1" r="8.0" fill="#808080" stroke="#252525" stroke-width="1.2"/>
<circle cx="1504.6" cy="435.8" r="8.0" fill="#808080" stroke="#252525" stroke-width="1.2"/>
<circle cx="1508.0" cy="432.2" r="8.0" fill="#808080" stroke="#252525" stroke-width="1.2"/>
<circle cx="1512.9" cy="430.6" r="8.0" fill="#808080" stroke="#252525" stroke-width="1.2"/>
<circle cx="1517.7" cy="427.5" r="8.0" fill="#808080" stroke="#252525" stroke-width="1.2"/>
<circle cx="1521.2" cy="426.5" r="8.0" fill="#808080" stroke="#252525" stroke-width="1.2"/>
<circle cx="1526.3" cy="425.9" r="8.0" fill="#808080" stroke="#252525" stroke-width="1.2"/>
<circle cx="1529.5" cy="424.4" r="8.0" fill="#808080" stroke="#252525" stroke-width="1.2"/>
<circle cx="1532.2" cy="421.7" r="8.0" fill="#808080" stroke="#252525" stroke-width="1.2"/>
<circle cx="1534.7" cy="421.3" r="8.0" fill="#808080" stroke="#252525" stroke-width="1.2"/>
<circle cx="1538.2" cy="427.4" r="8.0" fill="#808080" stroke="#252525" stroke-width="1.2"/>
<circle cx="1539.9" cy="432.7" r="8.0" fill="#808080" stroke="#252525" stroke-width="1.2"/>
<circle cx="1544.9" cy="426.3" r="8.0" fill="#808080" stroke="#252525" stroke-width="1.2"/>
<circle cx="1548.2" cy="420.2" r="8.0" fill="#808080" stroke="#252525" stroke-width="1.2"/>
<circle cx="1553.0" cy="424.0" r="8.0" fill="#808080" stroke="#252525" stroke-width="1.2"/>
<circle cx="1556.5" cy="429.6" r="8.0" fill="#808080" stroke="#252525" stroke-width="1.2"/>
<circle cx="1559.2" cy="425.2" r="8.0" fill="#808080" stroke="#252525" stroke-width="1.2"/>
<circle cx="1562.7" cy="422.3" r="8.0" fill="#808080" stroke="#252525" stroke-width="1.2"/>
<circle cx="1567.9" cy="436.9" r="8.0" fill="#808080" stroke="#252525" stroke-width="1.2"/>
<circle cx="1570.0" cy="431.5" r="8.0" fill="#808080" stroke="#252525" stroke-width="1.2"/>
<circle cx="1573.1" cy="426.5" r="8.0" fill="#808080" stroke="#252525" stroke-width="1.2"/>
<circle cx="1577.0" cy="421.4" r="8.0" fill="#808080" stroke="#252525" stroke-width="1.2"/>
<circle cx="1579.3" cy="417.1" r="8.0" fill="#808080" stroke="#252525" stroke-width="1.2"/>
<circle cx="1584.5" cy="378.7" r="8.0" fill="#808080" stroke="#252525" stroke-width="1.2"/>
<circle cx="1589.7" cy="324.7" r="8.0" fill="#808080" stroke="#252525" stroke-width="1.2"/>
<circle cx="1592.8" cy="282.2" r="8.0" fill="#808080" stroke="#252525" stroke-width="1.2"/>
<circle cx="1596.6" cy="278.7" r="8.0" fill="#808080" stroke="#252525" stroke-width="1.2"/>
<circle cx="1600.1" cy="272.8" r="8.0" fill="#808080" stroke="#252525" stroke-width="1.2"/>
<circle cx="1603.5" cy="276.0" r="8.0" fill="#808080" stroke="#252525" stroke-width="1.2"/>
<circle cx="1605.3" cy="279.1" r="8.0" fill="#808080" stroke="#252525" stroke-width="1.2"/>
<circle cx="1609.4" cy="302.9" r="8.0" fill="#808080" stroke="#252525" stroke-width="1.2"/>
<circle cx="1614.6" cy="320.6" r="8.0" fill="#808080" stroke="#252525" stroke-width="1.2"/>
<circle cx="1619.8" cy="347.6" r="8.0" fill="#808080" stroke="#252525" stroke-width="1.2"/>
<circle cx="1622.2" cy="351.9" r="8.0" fill="#808080" stroke="#252525" stroke-width="1.2"/>
<circle cx="1624.6" cy="359.0" r="8.0" fill="#808080" stroke="#252525" stroke-width="1.2"/>
<circle cx="1628.1" cy="387.0" r="8.0" fill="#808080" stroke="#252525" stroke-width="1.2"/>
<circle cx="1630.6" cy="378.8" r="8.0" fill="#808080" stroke="#252525" stroke-width="1.2"/>
<circle cx="1634.3" cy="373.5" r="8.0" fill="#808080" stroke="#252525" stroke-width="1.2"/>
<circle cx="1635.7" cy="379.7" r="8.0" fill="#808080" stroke="#252525" stroke-width="1.2"/>
<circle cx="1638.5" cy="386.0" r="8.0" fill="#808080" stroke="#252525" stroke-width="1.2"/>
<circle cx="1643.3" cy="388.1" r="8.0" fill="#808080" stroke="#252525" stroke-width="1.2"/>
<circle cx="1647.8" cy="391.2" r="8.0" fill="#808080" stroke="#252525" stroke-width="1.2"/>
<circle cx="1650.0" cy="386.9" r="8.0" fill="#808080" stroke="#252525" stroke-width="1.2"/>
<circle cx="1652.0" cy="380.8" r="8.0" fill="#808080" stroke="#252525" stroke-width="1.2"/>
<circle cx="1655.7" cy="375.4" r="8.0" fill="#808080" stroke="#252525" stroke-width="1.2"/>
<circle cx="1659.2" cy="371.5" r="8.0" fill="#808080" stroke="#252525" stroke-width="1.2"/>
<circle cx="1663.4" cy="371.0" r="8.0" fill="#808080" stroke="#252525" stroke-width="1.2"/>
<circle cx="1666.5" cy="370.4" r="8.0" fill="#808080" stroke="#252525" stroke-width="1.2"/>
<circle cx="1671.2" cy="370.6" r="8.0" fill="#808080" stroke="#252525" stroke-width="1.2"/>
<circle cx="1674.8" cy="368.3" r="8.0" fill="#808080" stroke="#252525" stroke-width="1.2"/>
<circle cx="1677.6" cy="370.4" r="8.0" fill="#808080" stroke="#252525" stroke-width="1.2"/>
<circle cx="1680.0" cy="372.5" r="8.0" fill="#808080" stroke="#252525" stroke-width="1.2"/>
<circle cx="1683.1" cy="399.5" r="8.0" fill="#808080" stroke="#252525" stroke-width="1.2"/>
<circle cx="1689.2" cy="398.8" r="8.0" fill="#808080" stroke="#252525" stroke-width="1.2"/>
<circle cx="1694.5" cy="398.4" r="8.0" fill="#808080" stroke="#252525" stroke-width="1.2"/>
<circle cx="1696.0" cy="393.0" r="8.0" fill="#808080" stroke="#252525" stroke-width="1.2"/>
<circle cx="1697.6" cy="385.0" r="8.0" fill="#808080" stroke="#252525" stroke-width="1.2"/>
<circle cx="1702.0" cy="388.4" r="8.0" fill="#808080" stroke="#252525" stroke-width="1.2"/>
<circle cx="1704.9" cy="389.1" r="8.0" fill="#808080" stroke="#252525" stroke-width="1.2"/>
<circle cx="1710.1" cy="372.5" r="8.0" fill="#808080" stroke="#252525" stroke-width="1.2"/>
<circle cx="1712.3" cy="367.1" r="8.0" fill="#808080" stroke="#252525" stroke-width="1.2"/>
<circle cx="1714.3" cy="359.0" r="8.0" fill="#808080" stroke="#252525" stroke-width="1.2"/>
<circle cx="1717.7" cy="354.2" r="8.0" fill="#808080" stroke="#252525" stroke-width="1.2"/>
<circle cx="1722.6" cy="351.7" r="8.0" fill="#808080" stroke="#252525" stroke-width="1.2"/>
<circle cx="1725.7" cy="367.3" r="8.0" fill="#808080" stroke="#252525" stroke-width="1.2"/>
<circle cx="1730.9" cy="352.8" r="8.0" fill="#808080" stroke="#252525" stroke-width="1.2"/>
<circle cx="1732.1" cy="345.3" r="8.0" fill="#808080" stroke="#252525" stroke-width="1.2"/>
<circle cx="1735.0" cy="339.3" r="8.0" fill="#808080" stroke="#252525" stroke-width="1.2"/>
<circle cx="1737.4" cy="333.9" r="8.0" fill="#808080" stroke="#252525" stroke-width="1.2"/>
<circle cx="1739.2" cy="326.8" r="8.0" fill="#808080" stroke="#252525" stroke-width="1.2"/>
<circle cx="1741.6" cy="326.4" r="8.0" fill="#808080" stroke="#252525" stroke-width="1.2"/>
<circle cx="1745.4" cy="324.7" r="8.0" fill="#808080" stroke="#252525" stroke-width="1.2"/>
<circle cx="1748.8" cy="325.3" r="8.0" fill="#808080" stroke="#252525" stroke-width="1.2"/>
<circle cx="1753.7" cy="323.7" r="8.0" fill="#808080" stroke="#252525" stroke-width="1.2"/>
<circle cx="1758.9" cy="342.4" r="8.0" fill="#808080" stroke="#252525" stroke-width="1.2"/>
<circle cx="1760.9" cy="347.4" r="8.0" fill="#808080" stroke="#252525" stroke-width="1.2"/>
<circle cx="1764.1" cy="349.7" r="8.0" fill="#808080" stroke="#252525" stroke-width="1.2"/>
<circle cx="1767.2" cy="351.2" r="8.0" fill="#808080" stroke="#252525" stroke-width="1.2"/>
<circle cx="1770.3" cy="349.7" r="8.0" fill="#808080" stroke="#252525" stroke-width="1.2"/>
<circle cx="1772.2" cy="352.6" r="8.0" fill="#808080" stroke="#252525" stroke-width="1.2"/>
<circle cx="1775.5" cy="355.9" r="8.0" fill="#808080" stroke="#252525" stroke-width="1.2"/>
<circle cx="1779.7" cy="370.4" r="8.0" fill="#808080" stroke="#252525" stroke-width="1.2"/>
<circle cx="1781.6" cy="369.6" r="8.0" fill="#808080" stroke="#252525" stroke-width="1.2"/>
<circle cx="1784.2" cy="370.6" r="8.0" fill="#808080" stroke="#252525" stroke-width="1.2"/>
<circle cx="1786.0" cy="373.2" r="8.0" fill="#808080" stroke="#252525" stroke-width="1.2"/>
<circle cx="1786.9" cy="378.7" r="8.0" fill="#808080" stroke="#252525" stroke-width="1.2"/>
<circle cx="1789.6" cy="377.9" r="8.0" fill="#808080" stroke="#252525" stroke-width="1.2"/>
<circle cx="1792.5" cy="379.9" r="8.0" fill="#808080" stroke="#252525" stroke-width="1.2"/>
<circle cx="1793.6" cy="380.4" r="8.0" fill="#808080" stroke="#252525" stroke-width="1.2"/>
<circle cx="1794.2" cy="380.8" r="8.0" fill="#808080" stroke="#252525" stroke-width="1.2"/>
<circle cx="1798.5" cy="381.8" r="8.0" fill="#808080" stroke="#252525" stroke-width="1.2"/>
<circle cx="1800.8" cy="381.0" r="8.0" fill="#808080" stroke="#252525" stroke-width="1.2"/>
<circle cx="1807.0" cy="362.3" r="8.0" fill="#808080" stroke="#252525" stroke-width="1.2"/>
<circle cx="1810.9" cy="361.6" r="8.0" fill="#808080" stroke="#252525" stroke-width="1.2"/>
<circle cx="1816.3" cy="362.3" r="8.0" fill="#808080" stroke="#252525" stroke-width="1.2"/>
<circle cx="1819.5" cy="366.8" r="8.0" fill="#808080" stroke="#252525" stroke-width="1.2"/>
<circle cx="1821.5" cy="372.7" r="8.0" fill="#808080" stroke="#252525" stroke-width="1.2"/>
<circle cx="1822.9" cy="379.1" r="8.0" fill="#808080" stroke="#252525" stroke-width="1.2"/>
<circle cx="1824.6" cy="383.0" r="8.0" fill="#808080" stroke="#252525" stroke-width="1.2"/>
<circle cx="1828.8" cy="380.9" r="8.0" fill="#808080" stroke="#252525" stroke-width="1.2"/>
<circle cx="1834.0" cy="381.0" r="8.0" fill="#808080" stroke="#252525" stroke-width="1.2"/>
<circle cx="1838.3" cy="381.1" r="8.0" fill="#808080" stroke="#252525" stroke-width="1.2"/>
<circle cx="1842.3" cy="379.9" r="8.0" fill="#808080" stroke="#252525" stroke-width="1.2"/>
<circle cx="1846.4" cy="395.5" r="8.0" fill="#808080" stroke="#252525" stroke-width="1.2"/>
<circle cx="1850.2" cy="393.5" r="8.0" fill="#808080" stroke="#252525" stroke-width="1.2"/>
<circle cx="1855.8" cy="390.3" r="8.0" fill="#808080" stroke="#252525" stroke-width="1.2"/>
<circle cx="1861.0" cy="410.0" r="8.0" fill="#808080" stroke="#252525" stroke-width="1.2"/>
<circle cx="1864.3" cy="409.3" r="8.0" fill="#808080" stroke="#252525" stroke-width="1.2"/>
<circle cx="1869.3" cy="405.9" r="8.0" fill="#808080" stroke="#252525" stroke-width="1.2"/>
<circle cx="1874.1" cy="401.6" r="8.0" fill="#808080" stroke="#252525" stroke-width="1.2"/>
<circle cx="1877.6" cy="399.7" r="8.0" fill="#808080" stroke="#252525" stroke-width="1.2"/>
<circle cx="1880.9" cy="396.6" r="8.0" fill="#808080" stroke="#252525" stroke-width="1.2"/>
<circle cx="1885.9" cy="391.3" r="8.0" fill="#808080" stroke="#252525" stroke-width="1.2"/>
<circle cx="1888.7" cy="386.3" r="8.0" fill="#808080" stroke="#252525" stroke-width="1.2"/>
<circle cx="1892.1" cy="381.0" r="8.0" fill="#808080" stroke="#252525" stroke-width="1.2"/>
<circle cx="1894.7" cy="374.7" r="8.0" fill="#808080" stroke="#252525" stroke-width="1.2"/>
<circle cx="1898.3" cy="370.6" r="8.0" fill="#808080" stroke="#252525" stroke-width="1.2"/>
<circle cx="1900.9" cy="365.3" r="8.0" fill="#808080" stroke="#252525" stroke-width="1.2"/>
<circle cx="1904.6" cy="362.3" r="8.0" fill="#808080" stroke="#252525" stroke-width="1.2"/>
<circle cx="1907.9" cy="358.3" r="8.0" fill="#808080" stroke="#252525" stroke-width="1.2"/>
<circle cx="1912.9" cy="356.1" r="8.0" fill="#808080" stroke="#252525" stroke-width="1.2"/>
<circle cx="1916.7" cy="357.4" r="8.0" fill="#808080" stroke="#252525" stroke-width="1.2"/>
<circle cx="1921.2" cy="357.1" r="8.0" fill="#808080" stroke="#252525" stroke-width="1.2"/>
<circle cx="1925.3" cy="374.7" r="8.0" fill="#808080" stroke="#252525" stroke-width="1.2"/>
<circle cx="1929.5" cy="377.9" r="8.0" fill="#808080" stroke="#252525" stroke-width="1.2"/>
<circle cx="1933.6" cy="383.0" r="8.0" fill="#808080" stroke="#252525" stroke-width="1.2"/>
<circle cx="1936.8" cy="384.4" r="8.0" fill="#808080" stroke="#252525" stroke-width="1.2"/>
<circle cx="1941.9" cy="387.2" r="8.0" fill="#808080" stroke="#252525" stroke-width="1.2"/>
<circle cx="1946.5" cy="390.5" r="8.0" fill="#808080" stroke="#252525" stroke-width="1.2"/>
<circle cx="1950.2" cy="393.4" r="8.0" fill="#808080" stroke="#252525" stroke-width="1.2"/>
<circle cx="1956.5" cy="374.7" r="8.0" fill="#808080" stroke="#252525" stroke-width="1.2"/>
<circle cx="1959.5" cy="380.2" r="8.0" fill="#808080" stroke="#252525" stroke-width="1.2"/>
<circle cx="1962.7" cy="383.0" r="8.0" fill="#808080" stroke="#252525" stroke-width="1.2"/>
<circle cx="1967.5" cy="380.7" r="8.0" fill="#808080" stroke="#252525" stroke-width="1.2"/>
<circle cx="1971.0" cy="378.9" r="8.0" fill="#808080" stroke="#252525" stroke-width="1.2"/>
<circle cx="1975.8" cy="377.5" r="8.0" fill="#808080" stroke="#252525" stroke-width="1.2"/>
<circle cx="1979.3" cy="376.8" r="8.0" fill="#808080" stroke="#252525" stroke-width="1.2"/>
<circle cx="1983.8" cy="377.2" r="8.0" fill="#808080" stroke="#252525" stroke-width="1.2"/>
<circle cx="1987.6" cy="374.7" r="8.0" fill="#808080" stroke="#252525" stroke-width="1.2"/>
<circle cx="1990.4" cy="374.8" r="8.0" fill="#808080" stroke="#252525" stroke-width="1.2"/>
<circle cx="1991.8" cy="373.7" r="8.0" fill="#808080" stroke="#252525" stroke-width="1.2"/>
<circle cx="1998.0" cy="391.3" r="8.0" fill="#808080" stroke="#252525" stroke-width="1.2"/>
<circle cx="2002.0" cy="386.7" r="8.0" fill="#808080" stroke="#252525" stroke-width="1.2"/>
<circle cx="2006.3" cy="383.0" r="8.0" fill="#808080" stroke="#252525" stroke-width="1.2"/>
<circle cx="2012.5" cy="401.7" r="8.0" fill="#808080" stroke="#252525" stroke-width="1.2"/>
<circle cx="2015.9" cy="397.3" r="8.0" fill="#808080" stroke="#252525" stroke-width="1.2"/>
<circle cx="2020.8" cy="395.5" r="8.0" fill="#808080" stroke="#252525" stroke-width="1.2"/>
<circle cx="2025.5" cy="399.7" r="8.0" fill="#808080" stroke="#252525" stroke-width="1.2"/>
<circle cx="2031.2" cy="405.9" r="8.0" fill="#808080" stroke="#252525" stroke-width="1.2"/>
<circle cx="2035.0" cy="400.8" r="8.0" fill="#808080" stroke="#252525" stroke-width="1.2"/>
<circle cx="2037.4" cy="393.4" r="8.0" fill="#808080" stroke="#252525" stroke-width="1.2"/>
<circle cx="2041.1" cy="393.7" r="8.0" fill="#808080" stroke="#252525" stroke-width="1.2"/>
<circle cx="2045.7" cy="395.5" r="8.0" fill="#808080" stroke="#252525" stroke-width="1.2"/>
<circle cx="2049.8" cy="393.4" r="8.0" fill="#808080" stroke="#252525" stroke-width="1.2"/>
<circle cx="2054.0" cy="393.4" r="8.0" fill="#808080" stroke="#252525" stroke-width="1.2"/>
<circle cx="2058.7" cy="397.9" r="8.0" fill="#808080" stroke="#252525" stroke-width="1.2"/>
<circle cx="2064.4" cy="399.7" r="8.0" fill="#808080" stroke="#252525" stroke-width="1.2"/>
<circle cx="2069.7" cy="395.8" r="8.0" fill="#808080" stroke="#252525" stroke-width="1.2"/>
<circle cx="2074.8" cy="393.4" r="8.0" fill="#808080" stroke="#252525" stroke-width="1.2"/>
<circle cx="2081.0" cy="378.9" r="8.0" fill="#808080" stroke="#252525" stroke-width="1.2"/>
<circle cx="2084.8" cy="375.4" r="8.0" fill="#808080" stroke="#252525" stroke-width="1.2"/>
<circle cx="2089.3" cy="372.7" r="8.0" fill="#808080" stroke="#252525" stroke-width="1.2"/>
<circle cx="2092.2" cy="366.4" r="8.0" fill="#808080" stroke="#252525" stroke-width="1.2"/>
<circle cx="2095.6" cy="360.2" r="8.0" fill="#808080" stroke="#252525" stroke-width="1.2"/>
<circle cx="2100.2" cy="360.2" r="8.0" fill="#808080" stroke="#252525" stroke-width="1.2"/>
<circle cx="2106.0" cy="360.2" r="8.0" fill="#808080" stroke="#252525" stroke-width="1.2"/>
<circle cx="2109.7" cy="364.7" r="8.0" fill="#808080" stroke="#252525" stroke-width="1.2"/>
<circle cx="2114.3" cy="371.6" r="8.0" fill="#808080" stroke="#252525" stroke-width="1.2"/>
<circle cx="2118.5" cy="370.7" r="8.0" fill="#808080" stroke="#252525" stroke-width="1.2"/>
<circle cx="2124.6" cy="372.7" r="8.0" fill="#808080" stroke="#252525" stroke-width="1.2"/>
<circle cx="2128.2" cy="366.7" r="8.0" fill="#808080" stroke="#252525" stroke-width="1.2"/>
<circle cx="2132.9" cy="360.2" r="8.0" fill="#808080" stroke="#252525" stroke-width="1.2"/>
<circle cx="2137.6" cy="363.8" r="8.0" fill="#808080" stroke="#252525" stroke-width="1.2"/>
<circle cx="2141.2" cy="366.4" r="8.0" fill="#808080" stroke="#252525" stroke-width="1.2"/>
<circle cx="2147.2" cy="365.6" r="8.0" fill="#808080" stroke="#252525" stroke-width="1.2"/>
<circle cx="2151.6" cy="365.4" r="8.0" fill="#808080" stroke="#252525" stroke-width="1.2"/>
<circle cx="2153.7" cy="342.6" r="8.0" fill="#808080" stroke="#252525" stroke-width="1.2"/>
<circle cx="2162.0" cy="362.3" r="8.0" fill="#808080" stroke="#252525" stroke-width="1.2"/>
<circle cx="2168.2" cy="361.2" r="8.0" fill="#808080" stroke="#252525" stroke-width="1.2"/>
<circle cx="2172.4" cy="362.3" r="8.0" fill="#808080" stroke="#252525" stroke-width="1.2"/>
<circle cx="1391.4" cy="1137.4" r="8.0" fill="#808080" stroke="#252525" stroke-width="1.2"/>
<circle cx="1398.7" cy="1141.6" r="8.0" fill="#808080" stroke="#252525" stroke-width="1.2"/>
<circle cx="1402.8" cy="1131.2" r="8.0" fill="#808080" stroke="#252525" stroke-width="1.2"/>
<circle cx="1406.6" cy="1131.3" r="8.0" fill="#808080" stroke="#252525" stroke-width="1.2"/>
<circle cx="1409.1" cy="1129.1" r="8.0" fill="#808080" stroke="#252525" stroke-width="1.2"/>
<circle cx="1413.2" cy="1135.3" r="8.0" fill="#808080" stroke="#252525" stroke-width="1.2"/>
<circle cx="1418.4" cy="1154.0" r="8.0" fill="#808080" stroke="#252525" stroke-width="1.2"/>
<circle cx="1425.7" cy="1135.3" r="8.0" fill="#808080" stroke="#252525" stroke-width="1.2"/>
<circle cx="1432.9" cy="1154.0" r="8.0" fill="#808080" stroke="#252525" stroke-width="1.2"/>
<circle cx="1436.1" cy="1141.6" r="8.0" fill="#808080" stroke="#252525" stroke-width="1.2"/>
<circle cx="1443.3" cy="1129.1" r="8.0" fill="#808080" stroke="#252525" stroke-width="1.2"/>
<circle cx="1448.5" cy="1139.5" r="8.0" fill="#808080" stroke="#252525" stroke-width="1.2"/>
<circle cx="1457.9" cy="1143.6" r="8.0" fill="#808080" stroke="#252525" stroke-width="1.2"/>
<circle cx="1463.0" cy="1131.2" r="8.0" fill="#808080" stroke="#252525" stroke-width="1.2"/>
<circle cx="1469.3" cy="1145.7" r="8.0" fill="#808080" stroke="#252525" stroke-width="1.2"/>
<circle cx="1470.3" cy="1140.5" r="8.0" fill="#808080" stroke="#252525" stroke-width="1.2"/>
<circle cx="1471.3" cy="1135.3" r="8.0" fill="#808080" stroke="#252525" stroke-width="1.2"/>
<circle cx="1478.6" cy="1107.3" r="8.0" fill="#808080" stroke="#252525" stroke-width="1.2"/>
<circle cx="1481.7" cy="1139.5" r="8.0" fill="#808080" stroke="#252525" stroke-width="1.2"/>
<circle cx="1488.0" cy="1129.1" r="8.0" fill="#808080" stroke="#252525" stroke-width="1.2"/>
<circle cx="1493.1" cy="1144.7" r="8.0" fill="#808080" stroke="#252525" stroke-width="1.2"/>
<circle cx="1497.3" cy="1120.8" r="8.0" fill="#808080" stroke="#252525" stroke-width="1.2"/>
<circle cx="1502.5" cy="1114.6" r="8.0" fill="#808080" stroke="#252525" stroke-width="1.2"/>
<circle cx="1508.7" cy="1108.3" r="8.0" fill="#808080" stroke="#252525" stroke-width="1.2"/>
<circle cx="1513.9" cy="1128.1" r="8.0" fill="#808080" stroke="#252525" stroke-width="1.2"/>
<circle cx="1516.8" cy="1122.9" r="8.0" fill="#808080" stroke="#252525" stroke-width="1.2"/>
<circle cx="1518.1" cy="1116.6" r="8.0" fill="#808080" stroke="#252525" stroke-width="1.2"/>
<circle cx="1525.3" cy="1120.8" r="8.0" fill="#808080" stroke="#252525" stroke-width="1.2"/>
<circle cx="1533.6" cy="1105.2" r="8.0" fill="#808080" stroke="#252525" stroke-width="1.2"/>
<circle cx="1534.8" cy="1108.8" r="8.0" fill="#808080" stroke="#252525" stroke-width="1.2"/>
<circle cx="1537.8" cy="1114.6" r="8.0" fill="#808080" stroke="#252525" stroke-width="1.2"/>
<circle cx="1541.2" cy="1117.7" r="8.0" fill="#808080" stroke="#252525" stroke-width="1.2"/>
<circle cx="1546.1" cy="1118.7" r="8.0" fill="#808080" stroke="#252525" stroke-width="1.2"/>
<circle cx="1554.4" cy="1105.2" r="8.0" fill="#808080" stroke="#252525" stroke-width="1.2"/>
<circle cx="1556.7" cy="1109.2" r="8.0" fill="#808080" stroke="#252525" stroke-width="1.2"/>
<circle cx="1558.5" cy="1112.5" r="8.0" fill="#808080" stroke="#252525" stroke-width="1.2"/>
<circle cx="1563.7" cy="1128.1" r="8.0" fill="#808080" stroke="#252525" stroke-width="1.2"/>
<circle cx="1568.9" cy="1110.4" r="8.0" fill="#808080" stroke="#252525" stroke-width="1.2"/>
<circle cx="1579.3" cy="1122.9" r="8.0" fill="#808080" stroke="#252525" stroke-width="1.2"/>
<circle cx="1583.5" cy="1089.7" r="8.0" fill="#808080" stroke="#252525" stroke-width="1.2"/>
<circle cx="1589.7" cy="1077.2" r="8.0" fill="#808080" stroke="#252525" stroke-width="1.2"/>
<circle cx="1597.0" cy="1084.5" r="8.0" fill="#808080" stroke="#252525" stroke-width="1.2"/>
<circle cx="1599.6" cy="1079.6" r="8.0" fill="#808080" stroke="#252525" stroke-width="1.2"/>
<circle cx="1604.2" cy="1073.0" r="8.0" fill="#808080" stroke="#252525" stroke-width="1.2"/>
<circle cx="1607.3" cy="1061.6" r="8.0" fill="#808080" stroke="#252525" stroke-width="1.2"/>
<circle cx="1610.0" cy="1056.4" r="8.0" fill="#808080" stroke="#252525" stroke-width="1.2"/>
<circle cx="1612.5" cy="1050.2" r="8.0" fill="#808080" stroke="#252525" stroke-width="1.2"/>
<circle cx="1616.1" cy="1055.2" r="8.0" fill="#808080" stroke="#252525" stroke-width="1.2"/>
<circle cx="1618.8" cy="1061.6" r="8.0" fill="#808080" stroke="#252525" stroke-width="1.2"/>
<circle cx="1621.4" cy="1056.6" r="8.0" fill="#808080" stroke="#252525" stroke-width="1.2"/>
<circle cx="1625.0" cy="1050.2" r="8.0" fill="#808080" stroke="#252525" stroke-width="1.2"/>
<circle cx="1627.5" cy="1056.8" r="8.0" fill="#808080" stroke="#252525" stroke-width="1.2"/>
<circle cx="1629.1" cy="1060.6" r="8.0" fill="#808080" stroke="#252525" stroke-width="1.2"/>
<circle cx="1631.5" cy="1055.3" r="8.0" fill="#808080" stroke="#252525" stroke-width="1.2"/>
<circle cx="1634.3" cy="1050.2" r="8.0" fill="#808080" stroke="#252525" stroke-width="1.2"/>
<circle cx="1639.5" cy="1056.4" r="8.0" fill="#808080" stroke="#252525" stroke-width="1.2"/>
<circle cx="1643.7" cy="1065.8" r="8.0" fill="#808080" stroke="#252525" stroke-width="1.2"/>
<circle cx="1649.9" cy="1078.2" r="8.0" fill="#808080" stroke="#252525" stroke-width="1.2"/>
<circle cx="1654.0" cy="1058.5" r="8.0" fill="#808080" stroke="#252525" stroke-width="1.2"/>
<circle cx="1664.4" cy="1054.4" r="8.0" fill="#808080" stroke="#252525" stroke-width="1.2"/>
<circle cx="1670.7" cy="1056.4" r="8.0" fill="#808080" stroke="#252525" stroke-width="1.2"/>
<circle cx="1674.1" cy="1058.8" r="8.0" fill="#808080" stroke="#252525" stroke-width="1.2"/>
<circle cx="1679.0" cy="1062.7" r="8.0" fill="#808080" stroke="#252525" stroke-width="1.2"/>
<circle cx="1684.1" cy="1044.0" r="8.0" fill="#808080" stroke="#252525" stroke-width="1.2"/>
<circle cx="1689.3" cy="1066.8" r="8.0" fill="#808080" stroke="#252525" stroke-width="1.2"/>
<circle cx="1697.6" cy="1058.5" r="8.0" fill="#808080" stroke="#252525" stroke-width="1.2"/>
<circle cx="1703.9" cy="1076.2" r="8.0" fill="#808080" stroke="#252525" stroke-width="1.2"/>
<circle cx="1710.1" cy="1054.4" r="8.0" fill="#808080" stroke="#252525" stroke-width="1.2"/>
<circle cx="1713.9" cy="1058.1" r="8.0" fill="#808080" stroke="#252525" stroke-width="1.2"/>
<circle cx="1717.4" cy="1064.7" r="8.0" fill="#808080" stroke="#252525" stroke-width="1.2"/>
<circle cx="1724.6" cy="1052.3" r="8.0" fill="#808080" stroke="#252525" stroke-width="1.2"/>
<circle cx="1729.3" cy="1054.9" r="8.0" fill="#808080" stroke="#252525" stroke-width="1.2"/>
<circle cx="1735.0" cy="1056.4" r="8.0" fill="#808080" stroke="#252525" stroke-width="1.2"/>
<circle cx="1739.2" cy="1041.9" r="8.0" fill="#808080" stroke="#252525" stroke-width="1.2"/>
<circle cx="1745.4" cy="1030.5" r="8.0" fill="#808080" stroke="#252525" stroke-width="1.2"/>
<circle cx="1749.5" cy="1067.9" r="8.0" fill="#808080" stroke="#252525" stroke-width="1.2"/>
<circle cx="1753.7" cy="1050.2" r="8.0" fill="#808080" stroke="#252525" stroke-width="1.2"/>
<circle cx="1762.0" cy="1052.3" r="8.0" fill="#808080" stroke="#252525" stroke-width="1.2"/>
<circle cx="1769.3" cy="1064.7" r="8.0" fill="#808080" stroke="#252525" stroke-width="1.2"/>
<circle cx="1775.5" cy="1041.9" r="8.0" fill="#808080" stroke="#252525" stroke-width="1.2"/>
<circle cx="1780.7" cy="1063.7" r="8.0" fill="#808080" stroke="#252525" stroke-width="1.2"/>
<circle cx="1784.5" cy="1063.6" r="8.0" fill="#808080" stroke="#252525" stroke-width="1.2"/>
<circle cx="1788.3" cy="1063.8" r="8.0" fill="#808080" stroke="#252525" stroke-width="1.2"/>
<circle cx="1788.4" cy="1068.6" r="8.0" fill="#808080" stroke="#252525" stroke-width="1.2"/>
<circle cx="1790.0" cy="1071.0" r="8.0" fill="#808080" stroke="#252525" stroke-width="1.2"/>
<circle cx="1791.2" cy="1072.9" r="8.0" fill="#808080" stroke="#252525" stroke-width="1.2"/>
<circle cx="1790.4" cy="1072.1" r="8.0" fill="#808080" stroke="#252525" stroke-width="1.2"/>
<circle cx="1792.7" cy="1068.4" r="8.0" fill="#808080" stroke="#252525" stroke-width="1.2"/>
<circle cx="1795.2" cy="1062.7" r="8.0" fill="#808080" stroke="#252525" stroke-width="1.2"/>
<circle cx="1796.6" cy="1061.7" r="8.0" fill="#808080" stroke="#252525" stroke-width="1.2"/>
<circle cx="1799.4" cy="1046.1" r="8.0" fill="#808080" stroke="#252525" stroke-width="1.2"/>
<circle cx="1799.6" cy="1045.8" r="8.0" fill="#808080" stroke="#252525" stroke-width="1.2"/>
<circle cx="1800.8" cy="1047.2" r="8.0" fill="#808080" stroke="#252525" stroke-width="1.2"/>
<circle cx="1806.0" cy="1028.5" r="8.0" fill="#808080" stroke="#252525" stroke-width="1.2"/>
<circle cx="1810.1" cy="1052.4" r="8.0" fill="#808080" stroke="#252525" stroke-width="1.2"/>
<circle cx="1814.3" cy="1035.8" r="8.0" fill="#808080" stroke="#252525" stroke-width="1.2"/>
<circle cx="1821.5" cy="1043.0" r="8.0" fill="#808080" stroke="#252525" stroke-width="1.2"/>
<circle cx="1825.8" cy="1044.5" r="8.0" fill="#808080" stroke="#252525" stroke-width="1.2"/>
<circle cx="1829.8" cy="1048.2" r="8.0" fill="#808080" stroke="#252525" stroke-width="1.2"/>
<circle cx="1833.9" cy="1045.0" r="8.0" fill="#808080" stroke="#252525" stroke-width="1.2"/>
<circle cx="1836.1" cy="1044.1" r="8.0" fill="#808080" stroke="#252525" stroke-width="1.2"/>
<circle cx="1842.3" cy="1057.6" r="8.0" fill="#808080" stroke="#252525" stroke-width="1.2"/>
<circle cx="1846.4" cy="1063.8" r="8.0" fill="#808080" stroke="#252525" stroke-width="1.2"/>
<circle cx="1849.8" cy="1060.3" r="8.0" fill="#808080" stroke="#252525" stroke-width="1.2"/>
<circle cx="1851.6" cy="1055.5" r="8.0" fill="#808080" stroke="#252525" stroke-width="1.2"/>
<circle cx="1856.5" cy="1051.3" r="8.0" fill="#808080" stroke="#252525" stroke-width="1.2"/>
<circle cx="1859.9" cy="1047.2" r="8.0" fill="#808080" stroke="#252525" stroke-width="1.2"/>
<circle cx="1866.2" cy="1059.7" r="8.0" fill="#808080" stroke="#252525" stroke-width="1.2"/>
<circle cx="1870.3" cy="1037.9" r="8.0" fill="#808080" stroke="#252525" stroke-width="1.2"/>
<circle cx="1877.6" cy="1051.3" r="8.0" fill="#808080" stroke="#252525" stroke-width="1.2"/>
<circle cx="1880.8" cy="1047.1" r="8.0" fill="#808080" stroke="#252525" stroke-width="1.2"/>
<circle cx="1885.9" cy="1043.0" r="8.0" fill="#808080" stroke="#252525" stroke-width="1.2"/>
<circle cx="1890.2" cy="1045.1" r="8.0" fill="#808080" stroke="#252525" stroke-width="1.2"/>
<circle cx="1895.2" cy="1049.3" r="8.0" fill="#808080" stroke="#252525" stroke-width="1.2"/>
<circle cx="1900.4" cy="1063.8" r="8.0" fill="#808080" stroke="#252525" stroke-width="1.2"/>
<circle cx="1905.6" cy="1036.8" r="8.0" fill="#808080" stroke="#252525" stroke-width="1.2"/>
<circle cx="1908.3" cy="1043.0" r="8.0" fill="#808080" stroke="#252525" stroke-width="1.2"/>
<circle cx="1911.8" cy="1047.2" r="8.0" fill="#808080" stroke="#252525" stroke-width="1.2"/>
<circle cx="1916.0" cy="1016.1" r="8.0" fill="#808080" stroke="#252525" stroke-width="1.2"/>
<circle cx="1921.2" cy="1035.8" r="8.0" fill="#808080" stroke="#252525" stroke-width="1.2"/>
<circle cx="1926.4" cy="1022.3" r="8.0" fill="#808080" stroke="#252525" stroke-width="1.2"/>
<circle cx="1931.6" cy="1046.2" r="8.0" fill="#808080" stroke="#252525" stroke-width="1.2"/>
<circle cx="1934.7" cy="1052.4" r="8.0" fill="#808080" stroke="#252525" stroke-width="1.2"/>
<circle cx="1936.7" cy="1056.5" r="8.0" fill="#808080" stroke="#252525" stroke-width="1.2"/>
<circle cx="1941.9" cy="1032.7" r="8.0" fill="#808080" stroke="#252525" stroke-width="1.2"/>
<circle cx="1946.9" cy="1036.9" r="8.0" fill="#808080" stroke="#252525" stroke-width="1.2"/>
<circle cx="1950.2" cy="1039.9" r="8.0" fill="#808080" stroke="#252525" stroke-width="1.2"/>
<circle cx="1956.5" cy="1026.4" r="8.0" fill="#808080" stroke="#252525" stroke-width="1.2"/>
<circle cx="1961.7" cy="1034.7" r="8.0" fill="#808080" stroke="#252525" stroke-width="1.2"/>
<circle cx="1965.8" cy="1009.8" r="8.0" fill="#808080" stroke="#252525" stroke-width="1.2"/>
<circle cx="1968.1" cy="1004.8" r="8.0" fill="#808080" stroke="#252525" stroke-width="1.2"/>
<circle cx="1971.0" cy="1000.5" r="8.0" fill="#808080" stroke="#252525" stroke-width="1.2"/>
<circle cx="1976.2" cy="1018.1" r="8.0" fill="#808080" stroke="#252525" stroke-width="1.2"/>
<circle cx="1981.4" cy="991.1" r="8.0" fill="#808080" stroke="#252525" stroke-width="1.2"/>
<circle cx="1986.6" cy="1011.9" r="8.0" fill="#808080" stroke="#252525" stroke-width="1.2"/>
<circle cx="1991.8" cy="1001.5" r="8.0" fill="#808080" stroke="#252525" stroke-width="1.2"/>
<circle cx="2000.1" cy="1024.4" r="8.0" fill="#808080" stroke="#252525" stroke-width="1.2"/>
<circle cx="2006.3" cy="1008.8" r="8.0" fill="#808080" stroke="#252525" stroke-width="1.2"/>
<circle cx="2012.5" cy="1027.5" r="8.0" fill="#808080" stroke="#252525" stroke-width="1.2"/>
<circle cx="2016.7" cy="992.2" r="8.0" fill="#808080" stroke="#252525" stroke-width="1.2"/>
<circle cx="2021.9" cy="1009.8" r="8.0" fill="#808080" stroke="#252525" stroke-width="1.2"/>
<circle cx="2024.2" cy="1013.7" r="8.0" fill="#808080" stroke="#252525" stroke-width="1.2"/>
<circle cx="2027.1" cy="1018.1" r="8.0" fill="#808080" stroke="#252525" stroke-width="1.2"/>
<circle cx="2028.7" cy="1020.6" r="8.0" fill="#808080" stroke="#252525" stroke-width="1.2"/>
<circle cx="2032.2" cy="1025.4" r="8.0" fill="#808080" stroke="#252525" stroke-width="1.2"/>
<circle cx="2036.4" cy="1035.8" r="8.0" fill="#808080" stroke="#252525" stroke-width="1.2"/>
<circle cx="2041.6" cy="1011.9" r="8.0" fill="#808080" stroke="#252525" stroke-width="1.2"/>
<circle cx="2045.6" cy="1016.8" r="8.0" fill="#808080" stroke="#252525" stroke-width="1.2"/>
<circle cx="2047.8" cy="1023.3" r="8.0" fill="#808080" stroke="#252525" stroke-width="1.2"/>
<circle cx="2049.9" cy="1028.1" r="8.0" fill="#808080" stroke="#252525" stroke-width="1.2"/>
<circle cx="2052.0" cy="1034.7" r="8.0" fill="#808080" stroke="#252525" stroke-width="1.2"/>
<circle cx="2058.1" cy="1031.7" r="8.0" fill="#808080" stroke="#252525" stroke-width="1.2"/>
<circle cx="2062.4" cy="1026.4" r="8.0" fill="#808080" stroke="#252525" stroke-width="1.2"/>
<circle cx="2068.6" cy="1042.0" r="8.0" fill="#808080" stroke="#252525" stroke-width="1.2"/>
<circle cx="2070.7" cy="1031.6" r="8.0" fill="#808080" stroke="#252525" stroke-width="1.2"/>
<circle cx="2076.9" cy="1045.1" r="8.0" fill="#808080" stroke="#252525" stroke-width="1.2"/>
<circle cx="2082.1" cy="1012.9" r="8.0" fill="#808080" stroke="#252525" stroke-width="1.2"/>
<circle cx="2088.3" cy="1020.2" r="8.0" fill="#808080" stroke="#252525" stroke-width="1.2"/>
<circle cx="2095.6" cy="1028.5" r="8.0" fill="#808080" stroke="#252525" stroke-width="1.2"/>
<circle cx="2102.8" cy="1015.0" r="8.0" fill="#808080" stroke="#252525" stroke-width="1.2"/>
<circle cx="2108.0" cy="1025.4" r="8.0" fill="#808080" stroke="#252525" stroke-width="1.2"/>
<circle cx="2112.2" cy="1059.7" r="8.0" fill="#808080" stroke="#252525" stroke-width="1.2"/>
<circle cx="2117.4" cy="1000.5" r="8.0" fill="#808080" stroke="#252525" stroke-width="1.2"/>
<circle cx="2125.7" cy="1018.1" r="8.0" fill="#808080" stroke="#252525" stroke-width="1.2"/>
<circle cx="2132.9" cy="995.3" r="8.0" fill="#808080" stroke="#252525" stroke-width="1.2"/>
<circle cx="2137.1" cy="1011.9" r="8.0" fill="#808080" stroke="#252525" stroke-width="1.2"/>
<circle cx="2141.2" cy="1011.6" r="8.0" fill="#808080" stroke="#252525" stroke-width="1.2"/>
<circle cx="2144.4" cy="1014.0" r="8.0" fill="#808080" stroke="#252525" stroke-width="1.2"/>
<circle cx="2152.7" cy="1003.6" r="8.0" fill="#808080" stroke="#252525" stroke-width="1.2"/>
<circle cx="2155.8" cy="1009.2" r="8.0" fill="#808080" stroke="#252525" stroke-width="1.2"/>
<circle cx="2157.9" cy="1014.0" r="8.0" fill="#808080" stroke="#252525" stroke-width="1.2"/>
<circle cx="2160.1" cy="1013.2" r="8.0" fill="#808080" stroke="#252525" stroke-width="1.2"/>
<circle cx="2164.1" cy="1009.8" r="8.0" fill="#808080" stroke="#252525" stroke-width="1.2"/>
<circle cx="2168.2" cy="1028.5" r="8.0" fill="#808080" stroke="#252525" stroke-width="1.2"/>
<circle cx="2173.4" cy="1011.9" r="8.0" fill="#808080" stroke="#252525" stroke-width="1.2"/>
<circle cx="1392.5" cy="1796.9" r="8.0" fill="#808080" stroke="#252525" stroke-width="1.2"/>
<circle cx="1396.6" cy="1814.6" r="8.0" fill="#808080" stroke="#252525" stroke-width="1.2"/>
<circle cx="1399.6" cy="1810.5" r="8.0" fill="#808080" stroke="#252525" stroke-width="1.2"/>
<circle cx="1402.8" cy="1807.3" r="8.0" fill="#808080" stroke="#252525" stroke-width="1.2"/>
<circle cx="1407.0" cy="1793.8" r="8.0" fill="#808080" stroke="#252525" stroke-width="1.2"/>
<circle cx="1412.7" cy="1793.2" r="8.0" fill="#808080" stroke="#252525" stroke-width="1.2"/>
<circle cx="1417.4" cy="1789.7" r="8.0" fill="#808080" stroke="#252525" stroke-width="1.2"/>
<circle cx="1425.7" cy="1761.6" r="8.0" fill="#808080" stroke="#252525" stroke-width="1.2"/>
<circle cx="1432.9" cy="1781.3" r="8.0" fill="#808080" stroke="#252525" stroke-width="1.2"/>
<circle cx="1436.1" cy="1793.8" r="8.0" fill="#808080" stroke="#252525" stroke-width="1.2"/>
<circle cx="1439.5" cy="1798.9" r="8.0" fill="#808080" stroke="#252525" stroke-width="1.2"/>
<circle cx="1442.3" cy="1805.2" r="8.0" fill="#808080" stroke="#252525" stroke-width="1.2"/>
<circle cx="1444.7" cy="1799.0" r="8.0" fill="#808080" stroke="#252525" stroke-width="1.2"/>
<circle cx="1447.5" cy="1794.8" r="8.0" fill="#808080" stroke="#252525" stroke-width="1.2"/>
<circle cx="1449.5" cy="1793.5" r="8.0" fill="#808080" stroke="#252525" stroke-width="1.2"/>
<circle cx="1452.7" cy="1789.7" r="8.0" fill="#808080" stroke="#252525" stroke-width="1.2"/>
<circle cx="1455.2" cy="1788.8" r="8.0" fill="#808080" stroke="#252525" stroke-width="1.2"/>
<circle cx="1458.9" cy="1785.5" r="8.0" fill="#808080" stroke="#252525" stroke-width="1.2"/>
<circle cx="1465.1" cy="1783.4" r="8.0" fill="#808080" stroke="#252525" stroke-width="1.2"/>
<circle cx="1468.0" cy="1786.1" r="8.0" fill="#808080" stroke="#252525" stroke-width="1.2"/>
<circle cx="1472.4" cy="1790.7" r="8.0" fill="#808080" stroke="#252525" stroke-width="1.2"/>
<circle cx="1478.6" cy="1762.7" r="8.0" fill="#808080" stroke="#252525" stroke-width="1.2"/>
<circle cx="1482.8" cy="1791.7" r="8.0" fill="#808080" stroke="#252525" stroke-width="1.2"/>
<circle cx="1488.0" cy="1777.2" r="8.0" fill="#808080" stroke="#252525" stroke-width="1.2"/>
<circle cx="1490.2" cy="1774.4" r="8.0" fill="#808080" stroke="#252525" stroke-width="1.2"/>
<circle cx="1493.1" cy="1774.1" r="8.0" fill="#808080" stroke="#252525" stroke-width="1.2"/>
<circle cx="1495.8" cy="1779.5" r="8.0" fill="#808080" stroke="#252525" stroke-width="1.2"/>
<circle cx="1499.4" cy="1784.5" r="8.0" fill="#808080" stroke="#252525" stroke-width="1.2"/>
<circle cx="1504.6" cy="1777.2" r="8.0" fill="#808080" stroke="#252525" stroke-width="1.2"/>
<circle cx="1508.7" cy="1766.8" r="8.0" fill="#808080" stroke="#252525" stroke-width="1.2"/>
<circle cx="1511.6" cy="1769.0" r="8.0" fill="#808080" stroke="#252525" stroke-width="1.2"/>
<circle cx="1514.9" cy="1771.0" r="8.0" fill="#808080" stroke="#252525" stroke-width="1.2"/>
<circle cx="1518.2" cy="1771.7" r="8.0" fill="#808080" stroke="#252525" stroke-width="1.2"/>
<circle cx="1522.2" cy="1775.1" r="8.0" fill="#808080" stroke="#252525" stroke-width="1.2"/>
<circle cx="1528.4" cy="1760.6" r="8.0" fill="#808080" stroke="#252525" stroke-width="1.2"/>
<circle cx="1533.6" cy="1783.4" r="8.0" fill="#808080" stroke="#252525" stroke-width="1.2"/>
<circle cx="1539.9" cy="1762.7" r="8.0" fill="#808080" stroke="#252525" stroke-width="1.2"/>
<circle cx="1542.9" cy="1759.5" r="8.0" fill="#808080" stroke="#252525" stroke-width="1.2"/>
<circle cx="1544.0" cy="1758.5" r="8.0" fill="#808080" stroke="#252525" stroke-width="1.2"/>
<circle cx="1548.2" cy="1781.3" r="8.0" fill="#808080" stroke="#252525" stroke-width="1.2"/>
<circle cx="1551.6" cy="1782.4" r="8.0" fill="#808080" stroke="#252525" stroke-width="1.2"/>
<circle cx="1554.4" cy="1781.3" r="8.0" fill="#808080" stroke="#252525" stroke-width="1.2"/>
<circle cx="1557.0" cy="1782.1" r="8.0" fill="#808080" stroke="#252525" stroke-width="1.2"/>
<circle cx="1560.6" cy="1784.5" r="8.0" fill="#808080" stroke="#252525" stroke-width="1.2"/>
<circle cx="1564.1" cy="1789.5" r="8.0" fill="#808080" stroke="#252525" stroke-width="1.2"/>
<circle cx="1567.9" cy="1791.7" r="8.0" fill="#808080" stroke="#252525" stroke-width="1.2"/>
<circle cx="1573.1" cy="1777.2" r="8.0" fill="#808080" stroke="#252525" stroke-width="1.2"/>
<circle cx="1579.3" cy="1787.6" r="8.0" fill="#808080" stroke="#252525" stroke-width="1.2"/>
<circle cx="1583.5" cy="1771.0" r="8.0" fill="#808080" stroke="#252525" stroke-width="1.2"/>
<circle cx="1591.8" cy="1772.0" r="8.0" fill="#808080" stroke="#252525" stroke-width="1.2"/>
<circle cx="1591.9" cy="1769.0" r="8.0" fill="#808080" stroke="#252525" stroke-width="1.2"/>
<circle cx="1593.8" cy="1764.7" r="8.0" fill="#808080" stroke="#252525" stroke-width="1.2"/>
<circle cx="1599.0" cy="1772.0" r="8.0" fill="#808080" stroke="#252525" stroke-width="1.2"/>
<circle cx="1604.2" cy="1735.7" r="8.0" fill="#808080" stroke="#252525" stroke-width="1.2"/>
<circle cx="1606.5" cy="1739.9" r="8.0" fill="#808080" stroke="#252525" stroke-width="1.2"/>
<circle cx="1608.4" cy="1747.1" r="8.0" fill="#808080" stroke="#252525" stroke-width="1.2"/>
<circle cx="1612.4" cy="1753.8" r="8.0" fill="#808080" stroke="#252525" stroke-width="1.2"/>
<circle cx="1614.6" cy="1758.5" r="8.0" fill="#808080" stroke="#252525" stroke-width="1.2"/>
<circle cx="1620.8" cy="1764.7" r="8.0" fill="#808080" stroke="#252525" stroke-width="1.2"/>
<circle cx="1629.1" cy="1778.2" r="8.0" fill="#808080" stroke="#252525" stroke-width="1.2"/>
<circle cx="1634.3" cy="1737.8" r="8.0" fill="#808080" stroke="#252525" stroke-width="1.2"/>
<circle cx="1639.5" cy="1763.7" r="8.0" fill="#808080" stroke="#252525" stroke-width="1.2"/>
<circle cx="1644.7" cy="1750.2" r="8.0" fill="#808080" stroke="#252525" stroke-width="1.2"/>
<circle cx="1649.9" cy="1731.5" r="8.0" fill="#808080" stroke="#252525" stroke-width="1.2"/>
<circle cx="1659.2" cy="1739.8" r="8.0" fill="#808080" stroke="#252525" stroke-width="1.2"/>
<circle cx="1664.4" cy="1769.9" r="8.0" fill="#808080" stroke="#252525" stroke-width="1.2"/>
<circle cx="1666.8" cy="1764.7" r="8.0" fill="#808080" stroke="#252525" stroke-width="1.2"/>
<circle cx="1670.7" cy="1761.6" r="8.0" fill="#808080" stroke="#252525" stroke-width="1.2"/>
<circle cx="1673.1" cy="1759.3" r="8.0" fill="#808080" stroke="#252525" stroke-width="1.2"/>
<circle cx="1674.8" cy="1754.4" r="8.0" fill="#808080" stroke="#252525" stroke-width="1.2"/>
<circle cx="1681.0" cy="1768.9" r="8.0" fill="#808080" stroke="#252525" stroke-width="1.2"/>
<circle cx="1689.3" cy="1771.0" r="8.0" fill="#808080" stroke="#252525" stroke-width="1.2"/>
<circle cx="1694.5" cy="1786.5" r="8.0" fill="#808080" stroke="#252525" stroke-width="1.2"/>
<circle cx="1703.9" cy="1772.0" r="8.0" fill="#808080" stroke="#252525" stroke-width="1.2"/>
<circle cx="1710.1" cy="1742.9" r="8.0" fill="#808080" stroke="#252525" stroke-width="1.2"/>
<circle cx="1714.3" cy="1756.4" r="8.0" fill="#808080" stroke="#252525" stroke-width="1.2"/>
<circle cx="1719.5" cy="1769.9" r="8.0" fill="#808080" stroke="#252525" stroke-width="1.2"/>
<circle cx="1724.6" cy="1779.3" r="8.0" fill="#808080" stroke="#252525" stroke-width="1.2"/>
<circle cx="1729.8" cy="1747.1" r="8.0" fill="#808080" stroke="#252525" stroke-width="1.2"/>
<circle cx="1735.0" cy="1713.9" r="8.0" fill="#808080" stroke="#252525" stroke-width="1.2"/>
<circle cx="1740.2" cy="1736.7" r="8.0" fill="#808080" stroke="#252525" stroke-width="1.2"/>
<circle cx="1745.4" cy="1750.2" r="8.0" fill="#808080" stroke="#252525" stroke-width="1.2"/>
<circle cx="1750.6" cy="1765.8" r="8.0" fill="#808080" stroke="#252525" stroke-width="1.2"/>
<circle cx="1755.8" cy="1738.8" r="8.0" fill="#808080" stroke="#252525" stroke-width="1.2"/>
<circle cx="1764.1" cy="1747.1" r="8.0" fill="#808080" stroke="#252525" stroke-width="1.2"/>
<circle cx="1771.4" cy="1714.9" r="8.0" fill="#808080" stroke="#252525" stroke-width="1.2"/>
<circle cx="1776.5" cy="1731.5" r="8.0" fill="#808080" stroke="#252525" stroke-width="1.2"/>
<circle cx="1779.4" cy="1728.4" r="8.0" fill="#808080" stroke="#252525" stroke-width="1.2"/>
<circle cx="1782.1" cy="1728.0" r="8.0" fill="#808080" stroke="#252525" stroke-width="1.2"/>
<circle cx="1784.8" cy="1712.8" r="8.0" fill="#808080" stroke="#252525" stroke-width="1.2"/>
<circle cx="1788.3" cy="1761.2" r="8.0" fill="#808080" stroke="#252525" stroke-width="1.2"/>
<circle cx="1790.0" cy="1761.6" r="8.0" fill="#808080" stroke="#252525" stroke-width="1.2"/>
<circle cx="1794.5" cy="1762.6" r="8.0" fill="#808080" stroke="#252525" stroke-width="1.2"/>
<circle cx="1797.3" cy="1762.7" r="8.0" fill="#808080" stroke="#252525" stroke-width="1.2"/>
<circle cx="1797.3" cy="1763.3" r="8.0" fill="#808080" stroke="#252525" stroke-width="1.2"/>
<circle cx="1798.7" cy="1765.3" r="8.0" fill="#808080" stroke="#252525" stroke-width="1.2"/>
<circle cx="1806.0" cy="1750.8" r="8.0" fill="#808080" stroke="#252525" stroke-width="1.2"/>
<circle cx="1813.2" cy="1761.2" r="8.0" fill="#808080" stroke="#252525" stroke-width="1.2"/>
<circle cx="1820.5" cy="1748.7" r="8.0" fill="#808080" stroke="#252525" stroke-width="1.2"/>
<circle cx="1824.6" cy="1736.3" r="8.0" fill="#808080" stroke="#252525" stroke-width="1.2"/>
<circle cx="1834.0" cy="1736.3" r="8.0" fill="#808080" stroke="#252525" stroke-width="1.2"/>
<circle cx="1837.3" cy="1740.0" r="8.0" fill="#808080" stroke="#252525" stroke-width="1.2"/>
<circle cx="1842.3" cy="1743.5" r="8.0" fill="#808080" stroke="#252525" stroke-width="1.2"/>
<circle cx="1855.8" cy="1746.6" r="8.0" fill="#808080" stroke="#252525" stroke-width="1.2"/>
<circle cx="1861.0" cy="1766.4" r="8.0" fill="#808080" stroke="#252525" stroke-width="1.2"/>
<circle cx="1865.1" cy="1709.3" r="8.0" fill="#808080" stroke="#252525" stroke-width="1.2"/>
<circle cx="1870.3" cy="1733.1" r="8.0" fill="#808080" stroke="#252525" stroke-width="1.2"/>
<circle cx="1875.5" cy="1715.5" r="8.0" fill="#808080" stroke="#252525" stroke-width="1.2"/>
<circle cx="1880.5" cy="1710.0" r="8.0" fill="#808080" stroke="#252525" stroke-width="1.2"/>
<circle cx="1885.9" cy="1706.2" r="8.0" fill="#808080" stroke="#252525" stroke-width="1.2"/>
<circle cx="1892.1" cy="1725.9" r="8.0" fill="#808080" stroke="#252525" stroke-width="1.2"/>
<circle cx="1896.3" cy="1730.0" r="8.0" fill="#808080" stroke="#252525" stroke-width="1.2"/>
<circle cx="1901.5" cy="1705.1" r="8.0" fill="#808080" stroke="#252525" stroke-width="1.2"/>
<circle cx="1905.6" cy="1655.3" r="8.0" fill="#808080" stroke="#252525" stroke-width="1.2"/>
<circle cx="1910.8" cy="1730.0" r="8.0" fill="#808080" stroke="#252525" stroke-width="1.2"/>
<circle cx="1913.0" cy="1724.7" r="8.0" fill="#808080" stroke="#252525" stroke-width="1.2"/>
<circle cx="1916.0" cy="1719.7" r="8.0" fill="#808080" stroke="#252525" stroke-width="1.2"/>
<circle cx="1925.3" cy="1731.1" r="8.0" fill="#808080" stroke="#252525" stroke-width="1.2"/>
<circle cx="1931.6" cy="1685.4" r="8.0" fill="#808080" stroke="#252525" stroke-width="1.2"/>
<circle cx="1936.7" cy="1714.5" r="8.0" fill="#808080" stroke="#252525" stroke-width="1.2"/>
<circle cx="1941.9" cy="1735.2" r="8.0" fill="#808080" stroke="#252525" stroke-width="1.2"/>
<circle cx="1947.1" cy="1725.9" r="8.0" fill="#808080" stroke="#252525" stroke-width="1.2"/>
<circle cx="1951.3" cy="1686.4" r="8.0" fill="#808080" stroke="#252525" stroke-width="1.2"/>
<circle cx="1956.5" cy="1713.4" r="8.0" fill="#808080" stroke="#252525" stroke-width="1.2"/>
<circle cx="1961.7" cy="1684.4" r="8.0" fill="#808080" stroke="#252525" stroke-width="1.2"/>
<circle cx="1966.9" cy="1679.2" r="8.0" fill="#808080" stroke="#252525" stroke-width="1.2"/>
<circle cx="1971.0" cy="1705.1" r="8.0" fill="#808080" stroke="#252525" stroke-width="1.2"/>
<circle cx="1973.1" cy="1699.1" r="8.0" fill="#808080" stroke="#252525" stroke-width="1.2"/>
<circle cx="1976.2" cy="1694.7" r="8.0" fill="#808080" stroke="#252525" stroke-width="1.2"/>
<circle cx="1982.4" cy="1704.1" r="8.0" fill="#808080" stroke="#252525" stroke-width="1.2"/>
<circle cx="1986.6" cy="1690.6" r="8.0" fill="#808080" stroke="#252525" stroke-width="1.2"/>
<circle cx="1990.7" cy="1713.4" r="8.0" fill="#808080" stroke="#252525" stroke-width="1.2"/>
<circle cx="1998.0" cy="1703.0" r="8.0" fill="#808080" stroke="#252525" stroke-width="1.2"/>
<circle cx="1999.6" cy="1698.8" r="8.0" fill="#808080" stroke="#252525" stroke-width="1.2"/>
<circle cx="2003.2" cy="1694.7" r="8.0" fill="#808080" stroke="#252525" stroke-width="1.2"/>
<circle cx="2010.5" cy="1709.3" r="8.0" fill="#808080" stroke="#252525" stroke-width="1.2"/>
<circle cx="2020.8" cy="1703.0" r="8.0" fill="#808080" stroke="#252525" stroke-width="1.2"/>
<circle cx="2026.0" cy="1688.5" r="8.0" fill="#808080" stroke="#252525" stroke-width="1.2"/>
<circle cx="2028.6" cy="1683.8" r="8.0" fill="#808080" stroke="#252525" stroke-width="1.2"/>
<circle cx="2032.2" cy="1678.1" r="8.0" fill="#808080" stroke="#252525" stroke-width="1.2"/>
<circle cx="2042.6" cy="1687.5" r="8.0" fill="#808080" stroke="#252525" stroke-width="1.2"/>
<circle cx="2047.8" cy="1656.3" r="8.0" fill="#808080" stroke="#252525" stroke-width="1.2"/>
<circle cx="2052.0" cy="1674.0" r="8.0" fill="#808080" stroke="#252525" stroke-width="1.2"/>
<circle cx="2056.3" cy="1673.5" r="8.0" fill="#808080" stroke="#252525" stroke-width="1.2"/>
<circle cx="2062.4" cy="1674.0" r="8.0" fill="#808080" stroke="#252525" stroke-width="1.2"/>
<circle cx="2066.5" cy="1654.3" r="8.0" fill="#808080" stroke="#252525" stroke-width="1.2"/>
<circle cx="2070.0" cy="1658.0" r="8.0" fill="#808080" stroke="#252525" stroke-width="1.2"/>
<circle cx="2072.7" cy="1663.6" r="8.0" fill="#808080" stroke="#252525" stroke-width="1.2"/>
<circle cx="2081.0" cy="1653.2" r="8.0" fill="#808080" stroke="#252525" stroke-width="1.2"/>
<circle cx="2087.3" cy="1659.4" r="8.0" fill="#808080" stroke="#252525" stroke-width="1.2"/>
<circle cx="2091.4" cy="1677.1" r="8.0" fill="#808080" stroke="#252525" stroke-width="1.2"/>
<circle cx="2097.6" cy="1649.1" r="8.0" fill="#808080" stroke="#252525" stroke-width="1.2"/>
<circle cx="2101.8" cy="1680.2" r="8.0" fill="#808080" stroke="#252525" stroke-width="1.2"/>
<circle cx="2107.0" cy="1666.7" r="8.0" fill="#808080" stroke="#252525" stroke-width="1.2"/>
<circle cx="2109.0" cy="1669.7" r="8.0" fill="#808080" stroke="#252525" stroke-width="1.2"/>
<circle cx="2112.2" cy="1669.8" r="8.0" fill="#808080" stroke="#252525" stroke-width="1.2"/>
<circle cx="2118.0" cy="1671.1" r="8.0" fill="#808080" stroke="#252525" stroke-width="1.2"/>
<circle cx="2122.6" cy="1674.0" r="8.0" fill="#808080" stroke="#252525" stroke-width="1.2"/>
<circle cx="2130.9" cy="1657.4" r="8.0" fill="#808080" stroke="#252525" stroke-width="1.2"/>
<circle cx="2137.1" cy="1640.8" r="8.0" fill="#808080" stroke="#252525" stroke-width="1.2"/>
<circle cx="2141.8" cy="1639.1" r="8.0" fill="#808080" stroke="#252525" stroke-width="1.2"/>
<circle cx="2145.4" cy="1638.7" r="8.0" fill="#808080" stroke="#252525" stroke-width="1.2"/>
<circle cx="2153.7" cy="1653.2" r="8.0" fill="#808080" stroke="#252525" stroke-width="1.2"/>
<circle cx="2159.9" cy="1640.8" r="8.0" fill="#808080" stroke="#252525" stroke-width="1.2"/>
<circle cx="2168.2" cy="1653.2" r="8.0" fill="#808080" stroke="#252525" stroke-width="1.2"/>
<circle cx="2172.4" cy="1635.6" r="8.0" fill="#808080" stroke="#252525" stroke-width="1.2"/>
<ellipse cx="436.2" cy="1567.7" rx="9.5" ry="8.2" fill="#999999" stroke="#1e1e1e" stroke-width="1.4"/>
<ellipse cx="429.8" cy="1576.7" rx="9.5" ry="8.2" fill="#999999" stroke="#1e1e1e" stroke-width="1.4"/>
<ellipse cx="340.5" cy="1607.6" rx="9.5" ry="8.2" fill="#999999" stroke="#1e1e1e" stroke-width="1.4"/>
<ellipse cx="351.4" cy="1615.3" rx="9.5" ry="8.2" fill="#999999" stroke="#1e1e1e" stroke-width="1.4"/>
<ellipse cx="339.8" cy="1628.1" rx="9.5" ry="8.2" fill="#999999" stroke="#1e1e1e" stroke-width="1.4"/>
<ellipse cx="372.6" cy="1621.7" rx="9.5" ry="8.2" fill="#999999" stroke="#1e1e1e" stroke-width="1.4"/>
<ellipse cx="372.6" cy="1641.0" rx="9.5" ry="8.2" fill="#999999" stroke="#1e1e1e" stroke-width="1.4"/>
<ellipse cx="397.7" cy="1616.5" rx="9.5" ry="8.2" fill="#999999" stroke="#1e1e1e" stroke-width="1.4"/>
<ellipse cx="411.2" cy="1615.9" rx="9.5" ry="8.2" fill="#999999" stroke="#1e1e1e" stroke-width="1.4"/>
<ellipse cx="404.1" cy="1636.5" rx="9.5" ry="8.2" fill="#999999" stroke="#1e1e1e" stroke-width="1.4"/>
<ellipse cx="352.7" cy="1659.6" rx="9.5" ry="8.2" fill="#999999" stroke="#1e1e1e" stroke-width="1.4"/>
<ellipse cx="372.6" cy="1658.3" rx="9.5" ry="8.2" fill="#999999" stroke="#1e1e1e" stroke-width="1.4"/>
<ellipse cx="393.2" cy="1661.5" rx="9.5" ry="8.2" fill="#999999" stroke="#1e1e1e" stroke-width="1.4"/>
<ellipse cx="372.6" cy="1672.5" rx="9.5" ry="8.2" fill="#999999" stroke="#1e1e1e" stroke-width="1.4"/>
<ellipse cx="446.5" cy="1605.0" rx="9.5" ry="8.2" fill="#999999" stroke="#1e1e1e" stroke-width="1.4"/>
<ellipse cx="446.5" cy="1616.5" rx="9.5" ry="8.2" fill="#999999" stroke="#1e1e1e" stroke-width="1.4"/>
<ellipse cx="434.9" cy="1614.0" rx="9.5" ry="8.2" fill="#999999" stroke="#1e1e1e" stroke-width="1.4"/>
<ellipse cx="437.5" cy="1629.4" rx="9.5" ry="8.2" fill="#999999" stroke="#1e1e1e" stroke-width="1.4"/>
<ellipse cx="437.5" cy="1637.1" rx="9.5" ry="8.2" fill="#999999" stroke="#1e1e1e" stroke-width="1.4"/>
<ellipse cx="446.5" cy="1648.7" rx="9.5" ry="8.2" fill="#999999" stroke="#1e1e1e" stroke-width="1.4"/>
<ellipse cx="426.0" cy="1652.5" rx="9.5" ry="8.2" fill="#999999" stroke="#1e1e1e" stroke-width="1.4"/>
<ellipse cx="436.2" cy="1660.2" rx="9.5" ry="8.2" fill="#999999" stroke="#1e1e1e" stroke-width="1.4"/>
<ellipse cx="454.2" cy="1656.4" rx="9.5" ry="8.2" fill="#999999" stroke="#1e1e1e" stroke-width="1.4"/>
<ellipse cx="378.4" cy="1719.4" rx="9.5" ry="8.2" fill="#999999" stroke="#1e1e1e" stroke-width="1.4"/>
<ellipse cx="517.2" cy="1619.1" rx="9.5" ry="8.2" fill="#999999" stroke="#1e1e1e" stroke-width="1.4"/>
<ellipse cx="513.3" cy="1638.4" rx="9.5" ry="8.2" fill="#999999" stroke="#1e1e1e" stroke-width="1.4"/>
<ellipse cx="513.3" cy="1649.0" rx="9.5" ry="8.2" fill="#999999" stroke="#1e1e1e" stroke-width="1.4"/>
<ellipse cx="513.3" cy="1659.0" rx="9.5" ry="8.2" fill="#999999" stroke="#1e1e1e" stroke-width="1.4"/>
<ellipse cx="517.2" cy="1742.5" rx="9.5" ry="8.2" fill="#999999" stroke="#1e1e1e" stroke-width="1.4"/>
<ellipse cx="517.2" cy="1765.6" rx="9.5" ry="8.2" fill="#999999" stroke="#1e1e1e" stroke-width="1.4"/>
<ellipse cx="556.0" cy="1610.6" rx="9.5" ry="8.2" fill="#999999" stroke="#1e1e1e" stroke-width="1.4"/>
<ellipse cx="573.4" cy="1564.8" rx="9.5" ry="8.2" fill="#999999" stroke="#1e1e1e" stroke-width="1.4"/>
<ellipse cx="590.8" cy="1571.8" rx="9.5" ry="8.2" fill="#999999" stroke="#1e1e1e" stroke-width="1.4"/>
<ellipse cx="573.4" cy="1583.4" rx="9.5" ry="8.2" fill="#999999" stroke="#1e1e1e" stroke-width="1.4"/>
<ellipse cx="577.3" cy="1596.3" rx="9.5" ry="8.2" fill="#999999" stroke="#1e1e1e" stroke-width="1.4"/>
<ellipse cx="597.2" cy="1614.3" rx="9.5" ry="8.2" fill="#999999" stroke="#1e1e1e" stroke-width="1.4"/>
<ellipse cx="573.4" cy="1635.5" rx="9.5" ry="8.2" fill="#999999" stroke="#1e1e1e" stroke-width="1.4"/>
<ellipse cx="573.4" cy="1649.6" rx="9.5" ry="8.2" fill="#999999" stroke="#1e1e1e" stroke-width="1.4"/>
<ellipse cx="590.8" cy="1649.6" rx="9.5" ry="8.2" fill="#999999" stroke="#1e1e1e" stroke-width="1.4"/>
<ellipse cx="594.0" cy="1661.8" rx="9.5" ry="8.2" fill="#999999" stroke="#1e1e1e" stroke-width="1.4"/>
<ellipse cx="573.4" cy="1685.0" rx="9.5" ry="8.2" fill="#999999" stroke="#1e1e1e" stroke-width="1.4"/>
<ellipse cx="645.4" cy="1562.9" rx="9.5" ry="8.2" fill="#999999" stroke="#1e1e1e" stroke-width="1.4"/>
<ellipse cx="645.4" cy="1596.9" rx="9.5" ry="8.2" fill="#999999" stroke="#1e1e1e" stroke-width="1.4"/>
<ellipse cx="676.2" cy="1581.5" rx="9.5" ry="8.2" fill="#999999" stroke="#1e1e1e" stroke-width="1.4"/>
<ellipse cx="645.4" cy="1631.6" rx="9.5" ry="8.2" fill="#999999" stroke="#1e1e1e" stroke-width="1.4"/>
<ellipse cx="665.3" cy="1633.5" rx="9.5" ry="8.2" fill="#999999" stroke="#1e1e1e" stroke-width="1.4"/>
<ellipse cx="645.4" cy="1652.8" rx="9.5" ry="8.2" fill="#999999" stroke="#1e1e1e" stroke-width="1.4"/>
<ellipse cx="662.1" cy="1654.1" rx="9.5" ry="8.2" fill="#999999" stroke="#1e1e1e" stroke-width="1.4"/>
<ellipse cx="662.1" cy="1663.1" rx="9.5" ry="8.2" fill="#999999" stroke="#1e1e1e" stroke-width="1.4"/>
<ellipse cx="645.4" cy="1670.8" rx="9.5" ry="8.2" fill="#999999" stroke="#1e1e1e" stroke-width="1.4"/>
<ellipse cx="645.4" cy="1683.7" rx="9.5" ry="8.2" fill="#999999" stroke="#1e1e1e" stroke-width="1.4"/>
<ellipse cx="662.1" cy="1682.4" rx="9.5" ry="8.2" fill="#999999" stroke="#1e1e1e" stroke-width="1.4"/>
<ellipse cx="723.8" cy="1558.4" rx="9.5" ry="8.2" fill="#999999" stroke="#1e1e1e" stroke-width="1.4"/>
<ellipse cx="713.5" cy="1609.1" rx="9.5" ry="8.2" fill="#999999" stroke="#1e1e1e" stroke-width="1.4"/>
<ellipse cx="713.5" cy="1635.5" rx="9.5" ry="8.2" fill="#999999" stroke="#1e1e1e" stroke-width="1.4"/>
<ellipse cx="712.2" cy="1643.8" rx="9.5" ry="8.2" fill="#999999" stroke="#1e1e1e" stroke-width="1.4"/>
<ellipse cx="733.4" cy="1638.7" rx="9.5" ry="8.2" fill="#999999" stroke="#1e1e1e" stroke-width="1.4"/>
<ellipse cx="695.5" cy="1656.7" rx="9.5" ry="8.2" fill="#999999" stroke="#1e1e1e" stroke-width="1.4"/>
<ellipse cx="713.5" cy="1656.7" rx="9.5" ry="8.2" fill="#999999" stroke="#1e1e1e" stroke-width="1.4"/>
<ellipse cx="732.8" cy="1660.5" rx="9.5" ry="8.2" fill="#999999" stroke="#1e1e1e" stroke-width="1.4"/>
<ellipse cx="714.2" cy="1670.2" rx="9.5" ry="8.2" fill="#999999" stroke="#1e1e1e" stroke-width="1.4"/>
<ellipse cx="712.2" cy="1681.1" rx="9.5" ry="8.2" fill="#999999" stroke="#1e1e1e" stroke-width="1.4"/>
<ellipse cx="732.8" cy="1673.4" rx="9.5" ry="8.2" fill="#999999" stroke="#1e1e1e" stroke-width="1.4"/>
<ellipse cx="746.9" cy="1686.9" rx="9.5" ry="8.2" fill="#999999" stroke="#1e1e1e" stroke-width="1.4"/>
<ellipse cx="682.7" cy="1735.1" rx="9.5" ry="8.2" fill="#999999" stroke="#1e1e1e" stroke-width="1.4"/>
<ellipse cx="697.5" cy="1736.4" rx="9.5" ry="8.2" fill="#999999" stroke="#1e1e1e" stroke-width="1.4"/>
<ellipse cx="767.5" cy="1581.5" rx="9.5" ry="8.2" fill="#999999" stroke="#1e1e1e" stroke-width="1.4"/>
<ellipse cx="771.4" cy="1589.8" rx="9.5" ry="8.2" fill="#999999" stroke="#1e1e1e" stroke-width="1.4"/>
<ellipse cx="757.2" cy="1598.8" rx="9.5" ry="8.2" fill="#999999" stroke="#1e1e1e" stroke-width="1.4"/>
<ellipse cx="745.6" cy="1610.4" rx="9.5" ry="8.2" fill="#999999" stroke="#1e1e1e" stroke-width="1.4"/>
<ellipse cx="761.1" cy="1606.6" rx="9.5" ry="8.2" fill="#999999" stroke="#1e1e1e" stroke-width="1.4"/>
<ellipse cx="776.5" cy="1606.6" rx="9.5" ry="8.2" fill="#999999" stroke="#1e1e1e" stroke-width="1.4"/>
<ellipse cx="789.3" cy="1607.2" rx="9.5" ry="8.2" fill="#999999" stroke="#1e1e1e" stroke-width="1.4"/>
<ellipse cx="797.0" cy="1591.1" rx="9.5" ry="8.2" fill="#999999" stroke="#1e1e1e" stroke-width="1.4"/>
<ellipse cx="758.5" cy="1629.0" rx="9.5" ry="8.2" fill="#999999" stroke="#1e1e1e" stroke-width="1.4"/>
<ellipse cx="777.8" cy="1629.7" rx="9.5" ry="8.2" fill="#999999" stroke="#1e1e1e" stroke-width="1.4"/>
<ellipse cx="795.8" cy="1627.1" rx="9.5" ry="8.2" fill="#999999" stroke="#1e1e1e" stroke-width="1.4"/>
<ellipse cx="771.4" cy="1640.0" rx="9.5" ry="8.2" fill="#999999" stroke="#1e1e1e" stroke-width="1.4"/>
<ellipse cx="789.3" cy="1640.0" rx="9.5" ry="8.2" fill="#999999" stroke="#1e1e1e" stroke-width="1.4"/>
<ellipse cx="753.4" cy="1658.0" rx="9.5" ry="8.2" fill="#999999" stroke="#1e1e1e" stroke-width="1.4"/>
<ellipse cx="771.4" cy="1661.8" rx="9.5" ry="8.2" fill="#999999" stroke="#1e1e1e" stroke-width="1.4"/>
<ellipse cx="776.5" cy="1654.1" rx="9.5" ry="8.2" fill="#999999" stroke="#1e1e1e" stroke-width="1.4"/>
<ellipse cx="794.5" cy="1656.7" rx="9.5" ry="8.2" fill="#999999" stroke="#1e1e1e" stroke-width="1.4"/>
<ellipse cx="791.9" cy="1668.3" rx="9.5" ry="8.2" fill="#999999" stroke="#1e1e1e" stroke-width="1.4"/>
<ellipse cx="770.1" cy="1695.2" rx="9.5" ry="8.2" fill="#999999" stroke="#1e1e1e" stroke-width="1.4"/>
<ellipse cx="793.2" cy="1691.4" rx="9.5" ry="8.2" fill="#999999" stroke="#1e1e1e" stroke-width="1.4"/>
<ellipse cx="793.2" cy="1710.7" rx="9.5" ry="8.2" fill="#999999" stroke="#1e1e1e" stroke-width="1.4"/>
<ellipse cx="793.2" cy="1723.5" rx="9.5" ry="8.2" fill="#999999" stroke="#1e1e1e" stroke-width="1.4"/>
<ellipse cx="793.2" cy="1737.7" rx="9.5" ry="8.2" fill="#999999" stroke="#1e1e1e" stroke-width="1.4"/>
<ellipse cx="793.2" cy="1758.2" rx="9.5" ry="8.2" fill="#999999" stroke="#1e1e1e" stroke-width="1.4"/>
<ellipse cx="770.1" cy="1765.9" rx="9.5" ry="8.2" fill="#999999" stroke="#1e1e1e" stroke-width="1.4"/>
<ellipse cx="636.4" cy="1768.5" rx="9.5" ry="8.2" fill="#999999" stroke="#1e1e1e" stroke-width="1.4"/>
<ellipse cx="769.5" cy="1790.3" rx="9.5" ry="8.2" fill="#999999" stroke="#1e1e1e" stroke-width="1.4"/>
<ellipse cx="882.2" cy="1917.8" rx="9.5" ry="8.2" fill="#999999" stroke="#1e1e1e" stroke-width="1.4"/>
<ellipse cx="814.3" cy="1567.9" rx="9.5" ry="8.2" fill="#999999" stroke="#1e1e1e" stroke-width="1.4"/>
<ellipse cx="817.1" cy="1581.6" rx="9.5" ry="8.2" fill="#999999" stroke="#1e1e1e" stroke-width="1.4"/>
<ellipse cx="800.6" cy="1590.5" rx="9.5" ry="8.2" fill="#999999" stroke="#1e1e1e" stroke-width="1.4"/>
<ellipse cx="788.2" cy="1607.7" rx="9.5" ry="8.2" fill="#999999" stroke="#1e1e1e" stroke-width="1.4"/>
<ellipse cx="819.8" cy="1603.6" rx="9.5" ry="8.2" fill="#999999" stroke="#1e1e1e" stroke-width="1.4"/>
<ellipse cx="817.1" cy="1614.6" rx="9.5" ry="8.2" fill="#999999" stroke="#1e1e1e" stroke-width="1.4"/>
<ellipse cx="796.5" cy="1624.9" rx="9.5" ry="8.2" fill="#999999" stroke="#1e1e1e" stroke-width="1.4"/>
<ellipse cx="784.1" cy="1626.9" rx="9.5" ry="8.2" fill="#999999" stroke="#1e1e1e" stroke-width="1.4"/>
<ellipse cx="815.7" cy="1632.4" rx="9.5" ry="8.2" fill="#999999" stroke="#1e1e1e" stroke-width="1.4"/>
<ellipse cx="797.9" cy="1639.3" rx="9.5" ry="8.2" fill="#999999" stroke="#1e1e1e" stroke-width="1.4"/>
<ellipse cx="788.2" cy="1643.4" rx="9.5" ry="8.2" fill="#999999" stroke="#1e1e1e" stroke-width="1.4"/>
<ellipse cx="815.7" cy="1643.4" rx="9.5" ry="8.2" fill="#999999" stroke="#1e1e1e" stroke-width="1.4"/>
<ellipse cx="835.0" cy="1653.0" rx="9.5" ry="8.2" fill="#999999" stroke="#1e1e1e" stroke-width="1.4"/>
<ellipse cx="797.9" cy="1657.2" rx="9.5" ry="8.2" fill="#999999" stroke="#1e1e1e" stroke-width="1.4"/>
<ellipse cx="819.8" cy="1666.8" rx="9.5" ry="8.2" fill="#999999" stroke="#1e1e1e" stroke-width="1.4"/>
<ellipse cx="800.6" cy="1669.5" rx="9.5" ry="8.2" fill="#999999" stroke="#1e1e1e" stroke-width="1.4"/>
<ellipse cx="793.7" cy="1684.6" rx="9.5" ry="8.2" fill="#999999" stroke="#1e1e1e" stroke-width="1.4"/>
<ellipse cx="811.6" cy="1687.4" rx="9.5" ry="8.2" fill="#999999" stroke="#1e1e1e" stroke-width="1.4"/>
<ellipse cx="819.8" cy="1703.9" rx="9.5" ry="8.2" fill="#999999" stroke="#1e1e1e" stroke-width="1.4"/>
<ellipse cx="793.7" cy="1702.5" rx="9.5" ry="8.2" fill="#999999" stroke="#1e1e1e" stroke-width="1.4"/>
<ellipse cx="793.7" cy="1714.9" rx="9.5" ry="8.2" fill="#999999" stroke="#1e1e1e" stroke-width="1.4"/>
<ellipse cx="793.7" cy="1725.9" rx="9.5" ry="8.2" fill="#999999" stroke="#1e1e1e" stroke-width="1.4"/>
<ellipse cx="828.8" cy="1756.1" rx="9.5" ry="8.2" fill="#999999" stroke="#1e1e1e" stroke-width="1.4"/>
<ellipse cx="889.9" cy="1639.3" rx="9.5" ry="8.2" fill="#999999" stroke="#1e1e1e" stroke-width="1.4"/>
<ellipse cx="889.9" cy="1655.8" rx="9.5" ry="8.2" fill="#999999" stroke="#1e1e1e" stroke-width="1.4"/>
<ellipse cx="888.5" cy="1665.4" rx="9.5" ry="8.2" fill="#999999" stroke="#1e1e1e" stroke-width="1.4"/>
<ellipse cx="899.5" cy="1620.1" rx="9.5" ry="8.2" fill="#999999" stroke="#1e1e1e" stroke-width="1.4"/>
<ellipse cx="907.8" cy="1679.1" rx="9.5" ry="8.2" fill="#999999" stroke="#1e1e1e" stroke-width="1.4"/>
<ellipse cx="903.6" cy="1713.5" rx="9.5" ry="8.2" fill="#999999" stroke="#1e1e1e" stroke-width="1.4"/>
<ellipse cx="910.5" cy="1739.6" rx="9.5" ry="8.2" fill="#999999" stroke="#1e1e1e" stroke-width="1.4"/>
<ellipse cx="916.0" cy="1716.2" rx="9.5" ry="8.2" fill="#999999" stroke="#1e1e1e" stroke-width="1.4"/>
<ellipse cx="916.0" cy="1699.8" rx="9.5" ry="8.2" fill="#999999" stroke="#1e1e1e" stroke-width="1.4"/>
<ellipse cx="916.0" cy="1688.8" rx="9.5" ry="8.2" fill="#999999" stroke="#1e1e1e" stroke-width="1.4"/>
<ellipse cx="907.7" cy="1680.1" rx="9.5" ry="8.2" fill="#999999" stroke="#1e1e1e" stroke-width="1.4"/>
<ellipse cx="919.1" cy="1687.7" rx="9.5" ry="8.2" fill="#999999" stroke="#1e1e1e" stroke-width="1.4"/>
<ellipse cx="917.8" cy="1700.4" rx="9.5" ry="8.2" fill="#999999" stroke="#1e1e1e" stroke-width="1.4"/>
<ellipse cx="902.6" cy="1713.0" rx="9.5" ry="8.2" fill="#999999" stroke="#1e1e1e" stroke-width="1.4"/>
<ellipse cx="917.8" cy="1718.1" rx="9.5" ry="8.2" fill="#999999" stroke="#1e1e1e" stroke-width="1.4"/>
<ellipse cx="1022.7" cy="1761.6" rx="9.5" ry="8.2" fill="#999999" stroke="#1e1e1e" stroke-width="1.4"/>
<ellipse cx="949.4" cy="1671.3" rx="9.5" ry="8.2" fill="#999999" stroke="#1e1e1e" stroke-width="1.4"/>
<ellipse cx="958.2" cy="1678.9" rx="9.5" ry="8.2" fill="#999999" stroke="#1e1e1e" stroke-width="1.4"/>
<ellipse cx="982.2" cy="1671.3" rx="9.5" ry="8.2" fill="#999999" stroke="#1e1e1e" stroke-width="1.4"/>
<ellipse cx="1001.2" cy="1678.9" rx="9.5" ry="8.2" fill="#999999" stroke="#1e1e1e" stroke-width="1.4"/>
<ellipse cx="1036.6" cy="1671.3" rx="9.5" ry="8.2" fill="#999999" stroke="#1e1e1e" stroke-width="1.4"/>
<ellipse cx="1032.8" cy="1690.3" rx="9.5" ry="8.2" fill="#999999" stroke="#1e1e1e" stroke-width="1.4"/>
<ellipse cx="1032.8" cy="1701.6" rx="9.5" ry="8.2" fill="#999999" stroke="#1e1e1e" stroke-width="1.4"/>
<ellipse cx="919.1" cy="1663.7" rx="9.5" ry="8.2" fill="#999999" stroke="#1e1e1e" stroke-width="1.4"/>
<ellipse cx="919.1" cy="1654.9" rx="9.5" ry="8.2" fill="#999999" stroke="#1e1e1e" stroke-width="1.4"/>
<ellipse cx="960.8" cy="1656.1" rx="9.5" ry="8.2" fill="#999999" stroke="#1e1e1e" stroke-width="1.4"/>
<ellipse cx="982.2" cy="1658.7" rx="9.5" ry="8.2" fill="#999999" stroke="#1e1e1e" stroke-width="1.4"/>
<ellipse cx="893.8" cy="1620.8" rx="9.5" ry="8.2" fill="#999999" stroke="#1e1e1e" stroke-width="1.4"/>
<ellipse cx="892.5" cy="1638.5" rx="9.5" ry="8.2" fill="#999999" stroke="#1e1e1e" stroke-width="1.4"/>
<ellipse cx="892.5" cy="1656.1" rx="9.5" ry="8.2" fill="#999999" stroke="#1e1e1e" stroke-width="1.4"/>
<ellipse cx="1058.0" cy="1590.0" rx="9.5" ry="8.2" fill="#999999" stroke="#1e1e1e" stroke-width="1.4"/>
<ellipse cx="1058.0" cy="1610.0" rx="9.5" ry="8.2" fill="#999999" stroke="#1e1e1e" stroke-width="1.4"/>
<ellipse cx="1058.0" cy="1641.0" rx="9.5" ry="8.2" fill="#999999" stroke="#1e1e1e" stroke-width="1.4"/>
<ellipse cx="765.0" cy="1620.0" rx="9.5" ry="8.2" fill="#999999" stroke="#1e1e1e" stroke-width="1.4"/>
<ellipse cx="775.0" cy="1632.0" rx="9.5" ry="8.2" fill="#999999" stroke="#1e1e1e" stroke-width="1.4"/>
<ellipse cx="785.0" cy="1645.0" rx="9.5" ry="8.2" fill="#999999" stroke="#1e1e1e" stroke-width="1.4"/>
<ellipse cx="765.0" cy="1655.0" rx="9.5" ry="8.2" fill="#999999" stroke="#1e1e1e" stroke-width="1.4"/>
<ellipse cx="780.0" cy="1665.0" rx="9.5" ry="8.2" fill="#999999" stroke="#1e1e1e" stroke-width="1.4"/>
<ellipse cx="800.0" cy="1650.0" rx="9.5" ry="8.2" fill="#999999" stroke="#1e1e1e" stroke-width="1.4"/>
<ellipse cx="810.0" cy="1635.0" rx="9.5" ry="8.2" fill="#999999" stroke="#1e1e1e" stroke-width="1.4"/>
<ellipse cx="822.0" cy="1625.0" rx="9.5" ry="8.2" fill="#999999" stroke="#1e1e1e" stroke-width="1.4"/>
<ellipse cx="835.0" cy="1640.0" rx="9.5" ry="8.2" fill="#999999" stroke="#1e1e1e" stroke-width="1.4"/>
<ellipse cx="826.0" cy="1660.0" rx="9.5" ry="8.2" fill="#999999" stroke="#1e1e1e" stroke-width="1.4"/>
<ellipse cx="806.0" cy="1676.0" rx="9.5" ry="8.2" fill="#999999" stroke="#1e1e1e" stroke-width="1.4"/>
<ellipse cx="772.0" cy="1680.0" rx="9.5" ry="8.2" fill="#999999" stroke="#1e1e1e" stroke-width="1.4"/>
<ellipse cx="755.0" cy="1640.0" rx="9.5" ry="8.2" fill="#999999" stroke="#1e1e1e" stroke-width="1.4"/>
<ellipse cx="762.0" cy="1668.0" rx="9.5" ry="8.2" fill="#999999" stroke="#1e1e1e" stroke-width="1.4"/>
<ellipse cx="1043.2" cy="1618.9" rx="9.5" ry="8.2" fill="#999999" stroke="#000" stroke-width="1.5"/>
<ellipse cx="935.4" cy="1582.7" rx="9.5" ry="8.2" fill="#999999" stroke="#000" stroke-width="1.5"/>
<ellipse cx="967.8" cy="1641.5" rx="9.5" ry="8.2" fill="#999999" stroke="#000" stroke-width="1.5"/>
<ellipse cx="964.5" cy="1581.3" rx="9.5" ry="8.2" fill="#999999" stroke="#000" stroke-width="1.5"/>
<ellipse cx="1033.6" cy="1650.5" rx="9.5" ry="8.2" fill="#999999" stroke="#000" stroke-width="1.5"/>
<ellipse cx="955.4" cy="1577.7" rx="9.5" ry="8.2" fill="#999999" stroke="#000" stroke-width="1.5"/>
<ellipse cx="1041.0" cy="1652.3" rx="9.5" ry="8.2" fill="#999999" stroke="#000" stroke-width="1.5"/>
<ellipse cx="913.5" cy="1641.4" rx="9.5" ry="8.2" fill="#999999" stroke="#000" stroke-width="1.5"/>
<ellipse cx="962.4" cy="1602.7" rx="9.5" ry="8.2" fill="#999999" stroke="#000" stroke-width="1.5"/>
<ellipse cx="955.8" cy="1575.5" rx="9.5" ry="8.2" fill="#999999" stroke="#000" stroke-width="1.5"/>
<ellipse cx="909.4" cy="1590.2" rx="9.5" ry="8.2" fill="#999999" stroke="#000" stroke-width="1.5"/>
<ellipse cx="938.2" cy="1600.4" rx="9.5" ry="8.2" fill="#999999" stroke="#000" stroke-width="1.5"/>
<ellipse cx="1024.8" cy="1662.3" rx="9.5" ry="8.2" fill="#999999" stroke="#000" stroke-width="1.5"/>
<ellipse cx="975.8" cy="1602.6" rx="9.5" ry="8.2" fill="#999999" stroke="#000" stroke-width="1.5"/>
<ellipse cx="913.3" cy="1607.6" rx="9.5" ry="8.2" fill="#999999" stroke="#000" stroke-width="1.5"/>
<ellipse cx="1023.5" cy="1655.0" rx="9.5" ry="8.2" fill="#999999" stroke="#000" stroke-width="1.5"/>
<ellipse cx="1035.7" cy="1598.1" rx="9.5" ry="8.2" fill="#999999" stroke="#000" stroke-width="1.5"/>
<ellipse cx="996.0" cy="1587.9" rx="9.5" ry="8.2" fill="#999999" stroke="#000" stroke-width="1.5"/>
<ellipse cx="1010.0" cy="1595.1" rx="9.5" ry="8.2" fill="#999999" stroke="#000" stroke-width="1.5"/>
<ellipse cx="912.4" cy="1584.1" rx="9.5" ry="8.2" fill="#999999" stroke="#000" stroke-width="1.5"/>
<ellipse cx="1043.5" cy="1604.4" rx="9.5" ry="8.2" fill="#999999" stroke="#000" stroke-width="1.5"/>
<ellipse cx="944.4" cy="1610.2" rx="9.5" ry="8.2" fill="#999999" stroke="#000" stroke-width="1.5"/>
<ellipse cx="934.8" cy="1659.7" rx="9.5" ry="8.2" fill="#999999" stroke="#000" stroke-width="1.5"/>
<ellipse cx="1013.1" cy="1662.4" rx="9.5" ry="8.2" fill="#999999" stroke="#000" stroke-width="1.5"/>
<ellipse cx="1018.0" cy="1633.8" rx="9.5" ry="8.2" fill="#999999" stroke="#000" stroke-width="1.5"/>
<ellipse cx="955.2" cy="1595.5" rx="9.5" ry="8.2" fill="#999999" stroke="#000" stroke-width="1.5"/>
<ellipse cx="920.1" cy="1579.2" rx="9.5" ry="8.2" fill="#999999" stroke="#000" stroke-width="1.5"/>
<ellipse cx="1015.2" cy="1585.9" rx="9.5" ry="8.2" fill="#999999" stroke="#000" stroke-width="1.5"/>
<ellipse cx="986.9" cy="1596.3" rx="9.5" ry="8.2" fill="#999999" stroke="#000" stroke-width="1.5"/>
<ellipse cx="1047.2" cy="1670.5" rx="9.5" ry="8.2" fill="#999999" stroke="#000" stroke-width="1.5"/>
<ellipse cx="1048.3" cy="1588.2" rx="9.5" ry="8.2" fill="#999999" stroke="#000" stroke-width="1.5"/>
<ellipse cx="920.9" cy="1565.8" rx="9.5" ry="8.2" fill="#999999" stroke="#000" stroke-width="1.5"/>
<ellipse cx="979.3" cy="1647.4" rx="9.5" ry="8.2" fill="#999999" stroke="#000" stroke-width="1.5"/>
<ellipse cx="972.0" cy="1584.1" rx="9.5" ry="8.2" fill="#999999" stroke="#000" stroke-width="1.5"/>
<ellipse cx="967.8" cy="1635.5" rx="9.5" ry="8.2" fill="#999999" stroke="#000" stroke-width="1.5"/>
<ellipse cx="1028.4" cy="1641.4" rx="9.5" ry="8.2" fill="#999999" stroke="#000" stroke-width="1.5"/>
<ellipse cx="926.1" cy="1664.8" rx="9.5" ry="8.2" fill="#999999" stroke="#000" stroke-width="1.5"/>
<ellipse cx="950.4" cy="1628.4" rx="9.5" ry="8.2" fill="#999999" stroke="#000" stroke-width="1.5"/>
<ellipse cx="937.1" cy="1585.9" rx="9.5" ry="8.2" fill="#999999" stroke="#000" stroke-width="1.5"/>
<ellipse cx="943.6" cy="1573.4" rx="9.5" ry="8.2" fill="#999999" stroke="#000" stroke-width="1.5"/>
<ellipse cx="1033.7" cy="1629.9" rx="9.5" ry="8.2" fill="#999999" stroke="#000" stroke-width="1.5"/>
<ellipse cx="955.0" cy="1605.7" rx="9.5" ry="8.2" fill="#999999" stroke="#000" stroke-width="1.5"/>
<ellipse cx="1048.9" cy="1620.5" rx="9.5" ry="8.2" fill="#999999" stroke="#000" stroke-width="1.5"/>
<ellipse cx="923.4" cy="1616.1" rx="9.5" ry="8.2" fill="#999999" stroke="#000" stroke-width="1.5"/>
<ellipse cx="1024.5" cy="1664.8" rx="9.5" ry="8.2" fill="#999999" stroke="#000" stroke-width="1.5"/>
<ellipse cx="950.4" cy="1568.9" rx="9.5" ry="8.2" fill="#999999" stroke="#000" stroke-width="1.5"/>
<ellipse cx="972.3" cy="1587.6" rx="9.5" ry="8.2" fill="#999999" stroke="#000" stroke-width="1.5"/>
<ellipse cx="923.9" cy="1632.3" rx="9.5" ry="8.2" fill="#999999" stroke="#000" stroke-width="1.5"/>
<ellipse cx="996.4" cy="1581.9" rx="9.5" ry="8.2" fill="#999999" stroke="#000" stroke-width="1.5"/>
<ellipse cx="961.0" cy="1571.8" rx="9.5" ry="8.2" fill="#999999" stroke="#000" stroke-width="1.5"/>
<ellipse cx="937.8" cy="1586.9" rx="9.5" ry="8.2" fill="#999999" stroke="#000" stroke-width="1.5"/>
<ellipse cx="993.5" cy="1639.7" rx="9.5" ry="8.2" fill="#999999" stroke="#000" stroke-width="1.5"/>
<ellipse cx="955.1" cy="1643.2" rx="9.5" ry="8.2" fill="#999999" stroke="#000" stroke-width="1.5"/>
<ellipse cx="935.1" cy="1594.5" rx="9.5" ry="8.2" fill="#999999" stroke="#000" stroke-width="1.5"/>
<ellipse cx="923.3" cy="1605.6" rx="9.5" ry="8.2" fill="#999999" stroke="#000" stroke-width="1.5"/>
<ellipse cx="986.6" cy="1638.0" rx="9.5" ry="8.2" fill="#999999" stroke="#000" stroke-width="1.5"/>
<ellipse cx="921.9" cy="1574.8" rx="9.5" ry="8.2" fill="#999999" stroke="#000" stroke-width="1.5"/>
<ellipse cx="1007.1" cy="1607.5" rx="9.5" ry="8.2" fill="#999999" stroke="#000" stroke-width="1.5"/>
<ellipse cx="948.9" cy="1593.9" rx="9.5" ry="8.2" fill="#999999" stroke="#000" stroke-width="1.5"/>
<ellipse cx="1043.4" cy="1594.5" rx="9.5" ry="8.2" fill="#999999" stroke="#000" stroke-width="1.5"/>
<ellipse cx="988.9" cy="1600.5" rx="9.5" ry="8.2" fill="#999999" stroke="#000" stroke-width="1.5"/>
<ellipse cx="1049.5" cy="1601.4" rx="9.5" ry="8.2" fill="#999999" stroke="#000" stroke-width="1.5"/>
<ellipse cx="1036.1" cy="1609.4" rx="9.5" ry="8.2" fill="#999999" stroke="#000" stroke-width="1.5"/>
<ellipse cx="1024.7" cy="1607.0" rx="9.5" ry="8.2" fill="#999999" stroke="#000" stroke-width="1.5"/>
<ellipse cx="1033.5" cy="1614.3" rx="9.5" ry="8.2" fill="#999999" stroke="#000" stroke-width="1.5"/>
<ellipse cx="986.8" cy="1638.2" rx="9.5" ry="8.2" fill="#999999" stroke="#000" stroke-width="1.5"/>
<ellipse cx="996.7" cy="1602.3" rx="9.5" ry="8.2" fill="#999999" stroke="#000" stroke-width="1.5"/>
<ellipse cx="948.9" cy="1622.3" rx="9.5" ry="8.2" fill="#999999" stroke="#000" stroke-width="1.5"/>
<ellipse cx="978.2" cy="1660.0" rx="9.5" ry="8.2" fill="#999999" stroke="#000" stroke-width="1.5"/>
<ellipse cx="1046.6" cy="1617.2" rx="9.5" ry="8.2" fill="#999999" stroke="#000" stroke-width="1.5"/>
<ellipse cx="931.6" cy="1657.5" rx="9.5" ry="8.2" fill="#999999" stroke="#000" stroke-width="1.5"/>
<ellipse cx="940.3" cy="1606.8" rx="9.5" ry="8.2" fill="#999999" stroke="#000" stroke-width="1.5"/>
<ellipse cx="1028.3" cy="1663.3" rx="9.5" ry="8.2" fill="#999999" stroke="#000" stroke-width="1.5"/>
<ellipse cx="934.8" cy="1582.0" rx="9.5" ry="8.2" fill="#999999" stroke="#000" stroke-width="1.5"/>
<ellipse cx="965.4" cy="1621.9" rx="9.5" ry="8.2" fill="#999999" stroke="#000" stroke-width="1.5"/>
<ellipse cx="963.1" cy="1569.4" rx="9.5" ry="8.2" fill="#999999" stroke="#000" stroke-width="1.5"/>
<ellipse cx="988.3" cy="1653.7" rx="9.5" ry="8.2" fill="#999999" stroke="#000" stroke-width="1.5"/>
<ellipse cx="914.4" cy="1664.5" rx="9.5" ry="8.2" fill="#999999" stroke="#000" stroke-width="1.5"/>
<ellipse cx="925.6" cy="1632.7" rx="9.5" ry="8.2" fill="#999999" stroke="#000" stroke-width="1.5"/>
<ellipse cx="986.6" cy="1636.4" rx="9.5" ry="8.2" fill="#999999" stroke="#000" stroke-width="1.5"/>
<ellipse cx="952.2" cy="1608.9" rx="9.5" ry="8.2" fill="#999999" stroke="#000" stroke-width="1.5"/>
<ellipse cx="991.2" cy="1609.6" rx="9.5" ry="8.2" fill="#999999" stroke="#000" stroke-width="1.5"/>
<ellipse cx="1001.9" cy="1612.4" rx="9.5" ry="8.2" fill="#999999" stroke="#000" stroke-width="1.5"/>
<ellipse cx="996.3" cy="1618.1" rx="9.5" ry="8.2" fill="#999999" stroke="#000" stroke-width="1.5"/>
<ellipse cx="1019.0" cy="1614.0" rx="9.5" ry="8.2" fill="#999999" stroke="#000" stroke-width="1.5"/>
<ellipse cx="934.3" cy="1615.9" rx="9.5" ry="8.2" fill="#999999" stroke="#000" stroke-width="1.5"/>
<ellipse cx="924.1" cy="1570.1" rx="9.5" ry="8.2" fill="#999999" stroke="#000" stroke-width="1.5"/>
<ellipse cx="969.7" cy="1565.2" rx="9.5" ry="8.2" fill="#999999" stroke="#000" stroke-width="1.5"/>
<ellipse cx="971.3" cy="1620.9" rx="9.5" ry="8.2" fill="#999999" stroke="#000" stroke-width="1.5"/>
<ellipse cx="914.7" cy="1637.6" rx="9.5" ry="8.2" fill="#999999" stroke="#000" stroke-width="1.5"/>
<ellipse cx="920.6" cy="1650.6" rx="9.5" ry="8.2" fill="#999999" stroke="#000" stroke-width="1.5"/>
<ellipse cx="1018.6" cy="1621.0" rx="9.5" ry="8.2" fill="#999999" stroke="#000" stroke-width="1.5"/>
<ellipse cx="916.7" cy="1620.0" rx="9.5" ry="8.2" fill="#999999" stroke="#000" stroke-width="1.5"/>
<ellipse cx="1023.9" cy="1578.8" rx="9.5" ry="8.2" fill="#999999" stroke="#000" stroke-width="1.5"/>
<ellipse cx="1047.4" cy="1618.4" rx="9.5" ry="8.2" fill="#999999" stroke="#000" stroke-width="1.5"/>
<ellipse cx="932.3" cy="1657.9" rx="9.5" ry="8.2" fill="#999999" stroke="#000" stroke-width="1.5"/>
<ellipse cx="929.2" cy="1619.8" rx="9.5" ry="8.2" fill="#999999" stroke="#000" stroke-width="1.5"/>
<ellipse cx="946.1" cy="1620.3" rx="9.5" ry="8.2" fill="#999999" stroke="#000" stroke-width="1.5"/>
<ellipse cx="934.7" cy="1574.4" rx="9.5" ry="8.2" fill="#999999" stroke="#000" stroke-width="1.5"/>
<ellipse cx="1041.0" cy="1643.4" rx="9.5" ry="8.2" fill="#999999" stroke="#000" stroke-width="1.5"/>
<ellipse cx="1019.7" cy="1568.3" rx="9.5" ry="8.2" fill="#999999" stroke="#000" stroke-width="1.5"/>
<ellipse cx="983.8" cy="1637.6" rx="9.5" ry="8.2" fill="#999999" stroke="#000" stroke-width="1.5"/>
<ellipse cx="987.3" cy="1630.1" rx="9.5" ry="8.2" fill="#999999" stroke="#000" stroke-width="1.5"/>
<ellipse cx="1049.0" cy="1636.8" rx="9.5" ry="8.2" fill="#999999" stroke="#000" stroke-width="1.5"/>
<ellipse cx="990.4" cy="1600.9" rx="9.5" ry="8.2" fill="#999999" stroke="#000" stroke-width="1.5"/>
<ellipse cx="1016.8" cy="1611.8" rx="9.5" ry="8.2" fill="#999999" stroke="#000" stroke-width="1.5"/>
<ellipse cx="933.9" cy="1651.9" rx="9.5" ry="8.2" fill="#999999" stroke="#000" stroke-width="1.5"/>
<ellipse cx="915.8" cy="1662.0" rx="9.5" ry="8.2" fill="#999999" stroke="#000" stroke-width="1.5"/>
<ellipse cx="944.8" cy="1638.0" rx="9.5" ry="8.2" fill="#999999" stroke="#000" stroke-width="1.5"/>
<ellipse cx="1047.8" cy="1630.9" rx="9.5" ry="8.2" fill="#999999" stroke="#000" stroke-width="1.5"/>
<ellipse cx="1002.6" cy="1594.6" rx="9.5" ry="8.2" fill="#999999" stroke="#000" stroke-width="1.5"/>
<ellipse cx="930.1" cy="1634.9" rx="9.5" ry="8.2" fill="#999999" stroke="#000" stroke-width="1.5"/>
<ellipse cx="969.9" cy="1621.2" rx="9.5" ry="8.2" fill="#999999" stroke="#000" stroke-width="1.5"/>
<ellipse cx="941.0" cy="1639.9" rx="9.5" ry="8.2" fill="#999999" stroke="#000" stroke-width="1.5"/>
<ellipse cx="959.0" cy="1567.1" rx="9.5" ry="8.2" fill="#999999" stroke="#000" stroke-width="1.5"/>
<ellipse cx="959.4" cy="1582.8" rx="9.5" ry="8.2" fill="#999999" stroke="#000" stroke-width="1.5"/>
<ellipse cx="991.3" cy="1631.3" rx="9.5" ry="8.2" fill="#999999" stroke="#000" stroke-width="1.5"/>
<ellipse cx="937.8" cy="1636.0" rx="9.5" ry="8.2" fill="#999999" stroke="#000" stroke-width="1.5"/>
<ellipse cx="976.0" cy="1570.9" rx="9.5" ry="8.2" fill="#999999" stroke="#000" stroke-width="1.5"/>
<ellipse cx="930.1" cy="1565.7" rx="9.5" ry="8.2" fill="#999999" stroke="#000" stroke-width="1.5"/>
<ellipse cx="1019.3" cy="1606.5" rx="9.5" ry="8.2" fill="#999999" stroke="#000" stroke-width="1.5"/>
<ellipse cx="999.9" cy="1627.8" rx="9.5" ry="8.2" fill="#999999" stroke="#000" stroke-width="1.5"/>
<ellipse cx="958.4" cy="1638.9" rx="9.5" ry="8.2" fill="#999999" stroke="#000" stroke-width="1.5"/>
<ellipse cx="1012.4" cy="1586.1" rx="9.5" ry="8.2" fill="#999999" stroke="#000" stroke-width="1.5"/>
<ellipse cx="983.9" cy="1607.0" rx="9.5" ry="8.2" fill="#999999" stroke="#000" stroke-width="1.5"/>
<ellipse cx="929.1" cy="1579.5" rx="9.5" ry="8.2" fill="#999999" stroke="#000" stroke-width="1.5"/>
<ellipse cx="994.7" cy="1620.4" rx="9.5" ry="8.2" fill="#999999" stroke="#000" stroke-width="1.5"/>
<ellipse cx="933.6" cy="1594.1" rx="9.5" ry="8.2" fill="#999999" stroke="#000" stroke-width="1.5"/>
<ellipse cx="1034.4" cy="1657.1" rx="9.5" ry="8.2" fill="#999999" stroke="#000" stroke-width="1.5"/>
<ellipse cx="1028.1" cy="1652.1" rx="9.5" ry="8.2" fill="#999999" stroke="#000" stroke-width="1.5"/>
<ellipse cx="974.6" cy="1651.7" rx="9.5" ry="8.2" fill="#999999" stroke="#000" stroke-width="1.5"/>
<ellipse cx="972.8" cy="1583.1" rx="9.5" ry="8.2" fill="#999999" stroke="#000" stroke-width="1.5"/>
<ellipse cx="923.8" cy="1583.9" rx="9.5" ry="8.2" fill="#999999" stroke="#000" stroke-width="1.5"/>
<ellipse cx="914.5" cy="1597.6" rx="9.5" ry="8.2" fill="#999999" stroke="#000" stroke-width="1.5"/>
<ellipse cx="1014.7" cy="1645.4" rx="9.5" ry="8.2" fill="#999999" stroke="#000" stroke-width="1.5"/>
<ellipse cx="1028.2" cy="1647.7" rx="9.5" ry="8.2" fill="#999999" stroke="#000" stroke-width="1.5"/>
<ellipse cx="946.5" cy="1626.7" rx="9.5" ry="8.2" fill="#999999" stroke="#000" stroke-width="1.5"/>
<ellipse cx="970.5" cy="1657.9" rx="9.5" ry="8.2" fill="#999999" stroke="#000" stroke-width="1.5"/>
<ellipse cx="982.8" cy="1588.3" rx="9.5" ry="8.2" fill="#999999" stroke="#000" stroke-width="1.5"/>
<ellipse cx="911.1" cy="1587.6" rx="9.5" ry="8.2" fill="#999999" stroke="#000" stroke-width="1.5"/>
<ellipse cx="1042.2" cy="1652.2" rx="9.5" ry="8.2" fill="#999999" stroke="#000" stroke-width="1.5"/>
<ellipse cx="955.3" cy="1584.8" rx="9.5" ry="8.2" fill="#999999" stroke="#000" stroke-width="1.5"/>
<ellipse cx="1037.0" cy="1636.9" rx="9.5" ry="8.2" fill="#999999" stroke="#000" stroke-width="1.5"/>
<ellipse cx="1047.0" cy="1615.4" rx="9.5" ry="8.2" fill="#999999" stroke="#000" stroke-width="1.5"/>
<ellipse cx="1027.4" cy="1645.8" rx="9.5" ry="8.2" fill="#999999" stroke="#000" stroke-width="1.5"/>
<ellipse cx="1029.9" cy="1611.1" rx="9.5" ry="8.2" fill="#999999" stroke="#000" stroke-width="1.5"/>
<ellipse cx="1011.2" cy="1628.9" rx="9.5" ry="8.2" fill="#999999" stroke="#000" stroke-width="1.5"/>
<ellipse cx="952.4" cy="1581.2" rx="9.5" ry="8.2" fill="#999999" stroke="#000" stroke-width="1.5"/>
<ellipse cx="912.8" cy="1567.2" rx="9.5" ry="8.2" fill="#999999" stroke="#000" stroke-width="1.5"/>
<ellipse cx="1040.0" cy="1598.9" rx="9.5" ry="8.2" fill="#999999" stroke="#000" stroke-width="1.5"/>
<ellipse cx="914.9" cy="1645.1" rx="9.5" ry="8.2" fill="#999999" stroke="#000" stroke-width="1.5"/>
<ellipse cx="992.3" cy="1601.3" rx="9.5" ry="8.2" fill="#999999" stroke="#000" stroke-width="1.5"/>
<ellipse cx="1024.3" cy="1662.0" rx="9.5" ry="8.2" fill="#999999" stroke="#000" stroke-width="1.5"/>
<ellipse cx="938.0" cy="1567.9" rx="9.5" ry="8.2" fill="#999999" stroke="#000" stroke-width="1.5"/>
<ellipse cx="1023.5" cy="1637.3" rx="9.5" ry="8.2" fill="#999999" stroke="#000" stroke-width="1.5"/>
<ellipse cx="1025.3" cy="1637.0" rx="9.5" ry="8.2" fill="#999999" stroke="#000" stroke-width="1.5"/>
<ellipse cx="949.5" cy="1566.3" rx="9.5" ry="8.2" fill="#999999" stroke="#000" stroke-width="1.5"/>
<ellipse cx="922.8" cy="1653.7" rx="9.5" ry="8.2" fill="#999999" stroke="#000" stroke-width="1.5"/>
<ellipse cx="937.9" cy="1595.4" rx="9.5" ry="8.2" fill="#999999" stroke="#000" stroke-width="1.5"/>
<ellipse cx="945.2" cy="1590.6" rx="9.5" ry="8.2" fill="#999999" stroke="#000" stroke-width="1.5"/>
<ellipse cx="1009.9" cy="1601.9" rx="9.5" ry="8.2" fill="#999999" stroke="#000" stroke-width="1.5"/>
<ellipse cx="980.0" cy="1666.2" rx="9.5" ry="8.2" fill="#999999" stroke="#000" stroke-width="1.5"/>
<ellipse cx="967.2" cy="1611.0" rx="9.5" ry="8.2" fill="#999999" stroke="#000" stroke-width="1.5"/>
<ellipse cx="1018.0" cy="1599.1" rx="9.5" ry="8.2" fill="#999999" stroke="#000" stroke-width="1.5"/>
<ellipse cx="1008.4" cy="1624.5" rx="9.5" ry="8.2" fill="#999999" stroke="#000" stroke-width="1.5"/>
<ellipse cx="921.8" cy="1662.0" rx="9.5" ry="8.2" fill="#999999" stroke="#000" stroke-width="1.5"/>
<ellipse cx="978.2" cy="1618.4" rx="9.5" ry="8.2" fill="#999999" stroke="#000" stroke-width="1.5"/>
<ellipse cx="1021.3" cy="1577.5" rx="9.5" ry="8.2" fill="#999999" stroke="#000" stroke-width="1.5"/>
<ellipse cx="978.7" cy="1599.2" rx="9.5" ry="8.2" fill="#999999" stroke="#000" stroke-width="1.5"/>
<ellipse cx="1026.3" cy="1587.7" rx="9.5" ry="8.2" fill="#999999" stroke="#000" stroke-width="1.5"/>
<ellipse cx="1042.1" cy="1590.7" rx="9.5" ry="8.2" fill="#999999" stroke="#000" stroke-width="1.5"/>
<ellipse cx="1020.1" cy="1645.7" rx="9.5" ry="8.2" fill="#999999" stroke="#000" stroke-width="1.5"/>
<ellipse cx="1020.0" cy="1636.5" rx="9.5" ry="8.2" fill="#999999" stroke="#000" stroke-width="1.5"/>
<ellipse cx="959.1" cy="1606.4" rx="9.5" ry="8.2" fill="#999999" stroke="#000" stroke-width="1.5"/>
<ellipse cx="912.5" cy="1580.4" rx="9.5" ry="8.2" fill="#999999" stroke="#000" stroke-width="1.5"/>
<ellipse cx="979.7" cy="1603.4" rx="9.5" ry="8.2" fill="#999999" stroke="#000" stroke-width="1.5"/>
<ellipse cx="974.0" cy="1623.7" rx="9.5" ry="8.2" fill="#999999" stroke="#000" stroke-width="1.5"/>
<ellipse cx="1015.4" cy="1653.1" rx="9.5" ry="8.2" fill="#999999" stroke="#000" stroke-width="1.5"/>
<ellipse cx="1000.1" cy="1599.3" rx="9.5" ry="8.2" fill="#999999" stroke="#000" stroke-width="1.5"/>
<ellipse cx="955.1" cy="1573.7" rx="9.5" ry="8.2" fill="#999999" stroke="#000" stroke-width="1.5"/>
<ellipse cx="1027.9" cy="1641.1" rx="9.5" ry="8.2" fill="#999999" stroke="#000" stroke-width="1.5"/>
<ellipse cx="1013.6" cy="1575.6" rx="9.5" ry="8.2" fill="#999999" stroke="#000" stroke-width="1.5"/>
<ellipse cx="970.9" cy="1655.9" rx="9.5" ry="8.2" fill="#999999" stroke="#000" stroke-width="1.5"/>
<ellipse cx="974.1" cy="1670.7" rx="9.5" ry="8.2" fill="#999999" stroke="#000" stroke-width="1.5"/>
<ellipse cx="942.5" cy="1578.5" rx="9.5" ry="8.2" fill="#999999" stroke="#000" stroke-width="1.5"/>
<ellipse cx="931.0" cy="1585.9" rx="9.5" ry="8.2" fill="#999999" stroke="#000" stroke-width="1.5"/>
<ellipse cx="955.0" cy="1622.4" rx="9.5" ry="8.2" fill="#999999" stroke="#000" stroke-width="1.5"/>
<ellipse cx="931.7" cy="1596.6" rx="9.5" ry="8.2" fill="#999999" stroke="#000" stroke-width="1.5"/>
<ellipse cx="1021.1" cy="1650.5" rx="9.5" ry="8.2" fill="#999999" stroke="#000" stroke-width="1.5"/>
<ellipse cx="970.3" cy="1579.1" rx="9.5" ry="8.2" fill="#999999" stroke="#000" stroke-width="1.5"/>
<ellipse cx="938.1" cy="1604.6" rx="9.5" ry="8.2" fill="#999999" stroke="#000" stroke-width="1.5"/>
<ellipse cx="913.8" cy="1606.1" rx="9.5" ry="8.2" fill="#999999" stroke="#000" stroke-width="1.5"/>
<ellipse cx="1020.5" cy="1645.2" rx="9.5" ry="8.2" fill="#999999" stroke="#000" stroke-width="1.5"/>
<ellipse cx="979.6" cy="1637.1" rx="9.5" ry="8.2" fill="#999999" stroke="#000" stroke-width="1.5"/>
<ellipse cx="974.3" cy="1571.9" rx="9.5" ry="8.2" fill="#999999" stroke="#000" stroke-width="1.5"/>
<ellipse cx="994.1" cy="1606.8" rx="9.5" ry="8.2" fill="#999999" stroke="#000" stroke-width="1.5"/>
<ellipse cx="969.6" cy="1629.3" rx="9.5" ry="8.2" fill="#999999" stroke="#000" stroke-width="1.5"/>
<ellipse cx="1014.6" cy="1609.0" rx="9.5" ry="8.2" fill="#999999" stroke="#000" stroke-width="1.5"/>
<ellipse cx="1033.1" cy="1655.9" rx="9.5" ry="8.2" fill="#999999" stroke="#000" stroke-width="1.5"/>
<ellipse cx="1004.8" cy="1638.3" rx="9.5" ry="8.2" fill="#999999" stroke="#000" stroke-width="1.5"/>
<ellipse cx="973.0" cy="1594.6" rx="9.5" ry="8.2" fill="#999999" stroke="#000" stroke-width="1.5"/>
<ellipse cx="968.2" cy="1657.1" rx="9.5" ry="8.2" fill="#999999" stroke="#000" stroke-width="1.5"/>
<ellipse cx="1009.6" cy="1636.7" rx="9.5" ry="8.2" fill="#999999" stroke="#000" stroke-width="1.5"/>
<ellipse cx="944.3" cy="1609.3" rx="9.5" ry="8.2" fill="#999999" stroke="#000" stroke-width="1.5"/>
<ellipse cx="973.2" cy="1635.7" rx="9.5" ry="8.2" fill="#999999" stroke="#000" stroke-width="1.5"/>
<ellipse cx="966.7" cy="1642.8" rx="9.5" ry="8.2" fill="#999999" stroke="#000" stroke-width="1.5"/>
<ellipse cx="963.8" cy="1618.1" rx="9.5" ry="8.2" fill="#999999" stroke="#000" stroke-width="1.5"/>
<ellipse cx="990.0" cy="1625.0" rx="9.5" ry="8.2" fill="#999999" stroke="#000" stroke-width="1.5"/>
<ellipse cx="1010.1" cy="1621.1" rx="9.5" ry="8.2" fill="#999999" stroke="#000" stroke-width="1.5"/>
<ellipse cx="982.6" cy="1607.6" rx="9.5" ry="8.2" fill="#999999" stroke="#000" stroke-width="1.5"/>
<ellipse cx="1005.5" cy="1605.2" rx="9.5" ry="8.2" fill="#999999" stroke="#000" stroke-width="1.5"/>
<ellipse cx="1016.5" cy="1569.3" rx="9.5" ry="8.2" fill="#999999" stroke="#000" stroke-width="1.5"/>
<ellipse cx="1047.8" cy="1600.3" rx="9.5" ry="8.2" fill="#999999" stroke="#000" stroke-width="1.5"/>
<ellipse cx="917.0" cy="1589.5" rx="9.5" ry="8.2" fill="#999999" stroke="#000" stroke-width="1.5"/>
<ellipse cx="968.0" cy="1608.9" rx="9.5" ry="8.2" fill="#999999" stroke="#000" stroke-width="1.5"/>
<ellipse cx="1007.5" cy="1599.8" rx="9.5" ry="8.2" fill="#999999" stroke="#000" stroke-width="1.5"/>
<ellipse cx="946.4" cy="1582.8" rx="9.5" ry="8.2" fill="#999999" stroke="#000" stroke-width="1.5"/>
<ellipse cx="983.3" cy="1582.1" rx="9.5" ry="8.2" fill="#999999" stroke="#000" stroke-width="1.5"/>
<ellipse cx="1022.0" cy="1605.1" rx="9.5" ry="8.2" fill="#999999" stroke="#000" stroke-width="1.5"/>
<ellipse cx="938.9" cy="1570.2" rx="9.5" ry="8.2" fill="#999999" stroke="#000" stroke-width="1.5"/>
<ellipse cx="1018.5" cy="1660.7" rx="9.5" ry="8.2" fill="#999999" stroke="#000" stroke-width="1.5"/>
<ellipse cx="998.4" cy="1615.4" rx="9.5" ry="8.2" fill="#999999" stroke="#000" stroke-width="1.5"/>
<ellipse cx="988.2" cy="1583.1" rx="9.5" ry="8.2" fill="#999999" stroke="#000" stroke-width="1.5"/>
<ellipse cx="1044.9" cy="1600.0" rx="9.5" ry="8.2" fill="#999999" stroke="#000" stroke-width="1.5"/>
<ellipse cx="1024.1" cy="1615.3" rx="9.5" ry="8.2" fill="#999999" stroke="#000" stroke-width="1.5"/>
<ellipse cx="950.5" cy="1625.9" rx="9.5" ry="8.2" fill="#999999" stroke="#000" stroke-width="1.5"/>
<ellipse cx="926.6" cy="1663.9" rx="9.5" ry="8.2" fill="#999999" stroke="#000" stroke-width="1.5"/>
<ellipse cx="946.7" cy="1603.0" rx="9.5" ry="8.2" fill="#999999" stroke="#000" stroke-width="1.5"/>
<ellipse cx="944.8" cy="1609.7" rx="9.5" ry="8.2" fill="#999999" stroke="#000" stroke-width="1.5"/>
<ellipse cx="1010.8" cy="1590.4" rx="9.5" ry="8.2" fill="#999999" stroke="#000" stroke-width="1.5"/>
<ellipse cx="943.5" cy="1593.1" rx="9.5" ry="8.2" fill="#999999" stroke="#000" stroke-width="1.5"/>
<ellipse cx="976.6" cy="1610.0" rx="9.5" ry="8.2" fill="#999999" stroke="#000" stroke-width="1.5"/>
<ellipse cx="1019.5" cy="1571.7" rx="9.5" ry="8.2" fill="#999999" stroke="#000" stroke-width="1.5"/>
<ellipse cx="1026.2" cy="1637.2" rx="9.5" ry="8.2" fill="#999999" stroke="#000" stroke-width="1.5"/>
<ellipse cx="1043.2" cy="1640.2" rx="9.5" ry="8.2" fill="#999999" stroke="#000" stroke-width="1.5"/>
<ellipse cx="944.3" cy="1566.5" rx="9.5" ry="8.2" fill="#999999" stroke="#000" stroke-width="1.5"/>
<ellipse cx="929.1" cy="1584.1" rx="9.5" ry="8.2" fill="#999999" stroke="#000" stroke-width="1.5"/>
<ellipse cx="1018.5" cy="1599.1" rx="9.5" ry="8.2" fill="#999999" stroke="#000" stroke-width="1.5"/>
<ellipse cx="1020.6" cy="1575.3" rx="9.5" ry="8.2" fill="#999999" stroke="#000" stroke-width="1.5"/>
<ellipse cx="1034.7" cy="1633.9" rx="9.5" ry="8.2" fill="#999999" stroke="#000" stroke-width="1.5"/>
<ellipse cx="1019.2" cy="1641.9" rx="9.5" ry="8.2" fill="#999999" stroke="#000" stroke-width="1.5"/>
<ellipse cx="1035.0" cy="1657.8" rx="9.5" ry="8.2" fill="#999999" stroke="#000" stroke-width="1.5"/>
<ellipse cx="1006.7" cy="1623.6" rx="9.5" ry="8.2" fill="#999999" stroke="#000" stroke-width="1.5"/>
<ellipse cx="1013.6" cy="1611.3" rx="9.5" ry="8.2" fill="#999999" stroke="#000" stroke-width="1.5"/>
<ellipse cx="1033.5" cy="1626.8" rx="9.5" ry="8.2" fill="#999999" stroke="#000" stroke-width="1.5"/>
<ellipse cx="946.3" cy="1584.1" rx="9.5" ry="8.2" fill="#999999" stroke="#000" stroke-width="1.5"/>
<ellipse cx="928.6" cy="1618.6" rx="9.5" ry="8.2" fill="#999999" stroke="#000" stroke-width="1.5"/>
<ellipse cx="917.2" cy="1615.1" rx="9.5" ry="8.2" fill="#999999" stroke="#000" stroke-width="1.5"/>
<ellipse cx="929.4" cy="1618.4" rx="9.5" ry="8.2" fill="#999999" stroke="#000" stroke-width="1.5"/>
<ellipse cx="979.2" cy="1624.8" rx="9.5" ry="8.2" fill="#999999" stroke="#000" stroke-width="1.5"/>
<ellipse cx="1027.5" cy="1615.2" rx="9.5" ry="8.2" fill="#999999" stroke="#000" stroke-width="1.5"/>
<ellipse cx="988.3" cy="1641.5" rx="9.5" ry="8.2" fill="#999999" stroke="#000" stroke-width="1.5"/>
<ellipse cx="1027.5" cy="1602.9" rx="9.5" ry="8.2" fill="#999999" stroke="#000" stroke-width="1.5"/>
<ellipse cx="919.6" cy="1637.7" rx="9.5" ry="8.2" fill="#999999" stroke="#000" stroke-width="1.5"/>
<ellipse cx="1040.3" cy="1597.0" rx="9.5" ry="8.2" fill="#999999" stroke="#000" stroke-width="1.5"/>
<ellipse cx="1047.4" cy="1620.9" rx="9.5" ry="8.2" fill="#999999" stroke="#000" stroke-width="1.5"/>
<ellipse cx="913.8" cy="1648.5" rx="9.5" ry="8.2" fill="#999999" stroke="#000" stroke-width="1.5"/>
<ellipse cx="997.2" cy="1598.0" rx="9.5" ry="8.2" fill="#999999" stroke="#000" stroke-width="1.5"/>
<ellipse cx="1030.5" cy="1601.7" rx="9.5" ry="8.2" fill="#999999" stroke="#000" stroke-width="1.5"/>
<ellipse cx="975.9" cy="1622.9" rx="9.5" ry="8.2" fill="#999999" stroke="#000" stroke-width="1.5"/>
<ellipse cx="1017.7" cy="1581.0" rx="9.5" ry="8.2" fill="#999999" stroke="#000" stroke-width="1.5"/>
<ellipse cx="970.4" cy="1609.2" rx="9.5" ry="8.2" fill="#999999" stroke="#000" stroke-width="1.5"/>
<ellipse cx="987.1" cy="1663.0" rx="9.5" ry="8.2" fill="#999999" stroke="#000" stroke-width="1.5"/>
<ellipse cx="965.9" cy="1620.0" rx="9.5" ry="8.2" fill="#999999" stroke="#000" stroke-width="1.5"/>
<ellipse cx="947.3" cy="1620.4" rx="9.5" ry="8.2" fill="#999999" stroke="#000" stroke-width="1.5"/>
<ellipse cx="1046.5" cy="1640.1" rx="9.5" ry="8.2" fill="#999999" stroke="#000" stroke-width="1.5"/>
<ellipse cx="1020.7" cy="1597.0" rx="9.5" ry="8.2" fill="#999999" stroke="#000" stroke-width="1.5"/>
<ellipse cx="953.7" cy="1592.8" rx="9.5" ry="8.2" fill="#999999" stroke="#000" stroke-width="1.5"/>
<ellipse cx="991.7" cy="1637.4" rx="9.5" ry="8.2" fill="#999999" stroke="#000" stroke-width="1.5"/>
<ellipse cx="1010.9" cy="1670.8" rx="9.5" ry="8.2" fill="#999999" stroke="#000" stroke-width="1.5"/>
<ellipse cx="995.3" cy="1635.0" rx="9.5" ry="8.2" fill="#999999" stroke="#000" stroke-width="1.5"/>
<ellipse cx="939.0" cy="1641.7" rx="9.5" ry="8.2" fill="#999999" stroke="#000" stroke-width="1.5"/>
<ellipse cx="973.6" cy="1654.4" rx="9.5" ry="8.2" fill="#999999" stroke="#000" stroke-width="1.5"/>
<ellipse cx="923.3" cy="1577.1" rx="9.5" ry="8.2" fill="#999999" stroke="#000" stroke-width="1.5"/>
<ellipse cx="914.2" cy="1656.0" rx="9.5" ry="8.2" fill="#999999" stroke="#000" stroke-width="1.5"/>
<ellipse cx="1037.9" cy="1640.2" rx="9.5" ry="8.2" fill="#999999" stroke="#000" stroke-width="1.5"/>
<ellipse cx="1019.9" cy="1627.8" rx="9.5" ry="8.2" fill="#999999" stroke="#000" stroke-width="1.5"/>
<ellipse cx="945.4" cy="1593.2" rx="9.5" ry="8.2" fill="#999999" stroke="#000" stroke-width="1.5"/>
<ellipse cx="968.5" cy="1595.4" rx="9.5" ry="8.2" fill="#999999" stroke="#000" stroke-width="1.5"/>
<ellipse cx="969.7" cy="1638.4" rx="9.5" ry="8.2" fill="#999999" stroke="#000" stroke-width="1.5"/>
<ellipse cx="925.8" cy="1660.8" rx="9.5" ry="8.2" fill="#999999" stroke="#000" stroke-width="1.5"/>
<ellipse cx="963.6" cy="1631.7" rx="9.5" ry="8.2" fill="#999999" stroke="#000" stroke-width="1.5"/>
<ellipse cx="976.0" cy="1607.9" rx="9.5" ry="8.2" fill="#999999" stroke="#000" stroke-width="1.5"/>
<ellipse cx="923.4" cy="1638.7" rx="9.5" ry="8.2" fill="#999999" stroke="#000" stroke-width="1.5"/>
<ellipse cx="938.9" cy="1573.2" rx="9.5" ry="8.2" fill="#999999" stroke="#000" stroke-width="1.5"/>
<ellipse cx="1005.4" cy="1569.2" rx="9.5" ry="8.2" fill="#999999" stroke="#000" stroke-width="1.5"/>
<ellipse cx="911.5" cy="1648.7" rx="9.5" ry="8.2" fill="#999999" stroke="#000" stroke-width="1.5"/>
<ellipse cx="1018.1" cy="1647.9" rx="9.5" ry="8.2" fill="#999999" stroke="#000" stroke-width="1.5"/>
<ellipse cx="1029.6" cy="1650.1" rx="9.5" ry="8.2" fill="#999999" stroke="#000" stroke-width="1.5"/>
<ellipse cx="920.9" cy="1636.6" rx="9.5" ry="8.2" fill="#999999" stroke="#000" stroke-width="1.5"/>
<ellipse cx="1009.0" cy="1614.3" rx="9.5" ry="8.2" fill="#999999" stroke="#000" stroke-width="1.5"/>
<ellipse cx="1045.0" cy="1648.4" rx="9.5" ry="8.2" fill="#999999" stroke="#000" stroke-width="1.5"/>
<ellipse cx="920.2" cy="1594.4" rx="9.5" ry="8.2" fill="#999999" stroke="#000" stroke-width="1.5"/>
<ellipse cx="1011.9" cy="1575.1" rx="9.5" ry="8.2" fill="#999999" stroke="#000" stroke-width="1.5"/>
<ellipse cx="1030.4" cy="1617.7" rx="9.5" ry="8.2" fill="#999999" stroke="#000" stroke-width="1.5"/>
<ellipse cx="917.4" cy="1601.9" rx="9.5" ry="8.2" fill="#999999" stroke="#000" stroke-width="1.5"/>
<ellipse cx="990.1" cy="1611.4" rx="9.5" ry="8.2" fill="#999999" stroke="#000" stroke-width="1.5"/>
<ellipse cx="1021.4" cy="1601.3" rx="9.5" ry="8.2" fill="#999999" stroke="#000" stroke-width="1.5"/>
<ellipse cx="999.9" cy="1636.8" rx="9.5" ry="8.2" fill="#999999" stroke="#000" stroke-width="1.5"/>
<ellipse cx="967.9" cy="1604.3" rx="9.5" ry="8.2" fill="#999999" stroke="#000" stroke-width="1.5"/>
<ellipse cx="910.8" cy="1568.0" rx="9.5" ry="8.2" fill="#999999" stroke="#000" stroke-width="1.3"/>
<ellipse cx="911.0" cy="1575.0" rx="9.5" ry="8.2" fill="#999999" stroke="#000" stroke-width="1.3"/>
<ellipse cx="910.8" cy="1582.0" rx="9.5" ry="8.2" fill="#999999" stroke="#000" stroke-width="1.3"/>
<ellipse cx="910.6" cy="1589.0" rx="9.5" ry="8.2" fill="#999999" stroke="#000" stroke-width="1.3"/>
<ellipse cx="910.3" cy="1596.0" rx="9.5" ry="8.2" fill="#999999" stroke="#000" stroke-width="1.3"/>
<ellipse cx="910.0" cy="1603.0" rx="9.5" ry="8.2" fill="#999999" stroke="#000" stroke-width="1.3"/>
<ellipse cx="911.1" cy="1610.0" rx="9.5" ry="8.2" fill="#999999" stroke="#000" stroke-width="1.3"/>
<ellipse cx="910.7" cy="1617.0" rx="9.5" ry="8.2" fill="#999999" stroke="#000" stroke-width="1.3"/>
<ellipse cx="910.9" cy="1624.0" rx="9.5" ry="8.2" fill="#999999" stroke="#000" stroke-width="1.3"/>
<ellipse cx="910.3" cy="1631.0" rx="9.5" ry="8.2" fill="#999999" stroke="#000" stroke-width="1.3"/>
<ellipse cx="910.6" cy="1638.0" rx="9.5" ry="8.2" fill="#999999" stroke="#000" stroke-width="1.3"/>
<ellipse cx="911.1" cy="1645.0" rx="9.5" ry="8.2" fill="#999999" stroke="#000" stroke-width="1.3"/>
<ellipse cx="910.9" cy="1652.0" rx="9.5" ry="8.2" fill="#999999" stroke="#000" stroke-width="1.3"/>
<ellipse cx="910.6" cy="1659.0" rx="9.5" ry="8.2" fill="#999999" stroke="#000" stroke-width="1.3"/>
<ellipse cx="793.2" cy="1690.0" rx="9.5" ry="8.2" fill="#999999" stroke="#1e1e1e" stroke-width="1.4"/>
<ellipse cx="793.4" cy="1697.0" rx="9.5" ry="8.2" fill="#999999" stroke="#1e1e1e" stroke-width="1.4"/>
<ellipse cx="794.1" cy="1704.0" rx="9.5" ry="8.2" fill="#999999" stroke="#1e1e1e" stroke-width="1.4"/>
<ellipse cx="793.3" cy="1711.0" rx="9.5" ry="8.2" fill="#999999" stroke="#1e1e1e" stroke-width="1.4"/>
<ellipse cx="793.8" cy="1718.0" rx="9.5" ry="8.2" fill="#999999" stroke="#1e1e1e" stroke-width="1.4"/>
<ellipse cx="793.7" cy="1725.0" rx="9.5" ry="8.2" fill="#999999" stroke="#1e1e1e" stroke-width="1.4"/>
<ellipse cx="794.1" cy="1732.0" rx="9.5" ry="8.2" fill="#999999" stroke="#1e1e1e" stroke-width="1.4"/>
<ellipse cx="794.0" cy="1739.0" rx="9.5" ry="8.2" fill="#999999" stroke="#1e1e1e" stroke-width="1.4"/>
<line x1="266.50" y1="1558.50" x2="1057.50" y2="1558.50" stroke="#808080" stroke-width="2"/>
<line x1="1057.50" y1="1558.50" x2="1057.50" y2="1919.70" stroke="#000" stroke-width="2.6"/>
<line x1="265.20" y1="1919.70" x2="1058.80" y2="1919.70" stroke="#000" stroke-width="2.8"/>
<line x1="266.50" y1="1557.50" x2="266.50" y2="1921.10" stroke="#000" stroke-width="3.6"/>
<line x1="241.00" y1="1609.00" x2="266.50" y2="1609.00" stroke="#000" stroke-width="3.6"/>
<text x="207.00" y="1622.30" font-size="43" text-anchor="end" stroke="#000" stroke-width="0.6">-1</text>
<line x1="241.00" y1="1658.83" x2="266.50" y2="1658.83" stroke="#000" stroke-width="3.6"/>
<text x="207.00" y="1672.13" font-size="43" text-anchor="end" stroke="#000" stroke-width="0.6">-2</text>
<line x1="241.00" y1="1708.66" x2="266.50" y2="1708.66" stroke="#000" stroke-width="3.6"/>
<text x="207.00" y="1721.96" font-size="43" text-anchor="end" stroke="#000" stroke-width="0.6">-3</text>
<line x1="241.00" y1="1758.49" x2="266.50" y2="1758.49" stroke="#000" stroke-width="3.6"/>
<text x="207.00" y="1771.79" font-size="43" text-anchor="end" stroke="#000" stroke-width="0.6">-4</text>
<line x1="241.00" y1="1808.32" x2="266.50" y2="1808.32" stroke="#000" stroke-width="3.6"/>
<text x="207.00" y="1821.62" font-size="43" text-anchor="end" stroke="#000" stroke-width="0.6">-5</text>
<line x1="241.00" y1="1858.15" x2="266.50" y2="1858.15" stroke="#000" stroke-width="3.6"/>
<text x="207.00" y="1871.45" font-size="43" text-anchor="end" stroke="#000" stroke-width="0.6">-6</text>
<line x1="241.00" y1="1907.98" x2="266.50" y2="1907.98" stroke="#000" stroke-width="3.6"/>
<text x="207.00" y="1921.28" font-size="43" text-anchor="end" stroke="#000" stroke-width="0.6">-7</text>
<line x1="266.30" y1="1919.70" x2="266.30" y2="1939.30" stroke="#000" stroke-width="2.8"/>
<text transform="translate(269.50,1991.5) scale(0.755,1)" font-size="33.4" text-anchor="end">2004</text>
<line x1="327.06" y1="1919.70" x2="327.06" y2="1939.30" stroke="#000" stroke-width="2.8"/>
<text transform="translate(330.26,1991.5) scale(0.755,1)" font-size="33.4" text-anchor="end">2005</text>
<line x1="387.82" y1="1919.70" x2="387.82" y2="1939.30" stroke="#000" stroke-width="2.8"/>
<text transform="translate(391.02,1991.5) scale(0.755,1)" font-size="33.4" text-anchor="end">2006</text>
<line x1="448.58" y1="1919.70" x2="448.58" y2="1939.30" stroke="#000" stroke-width="2.8"/>
<text transform="translate(451.78,1991.5) scale(0.755,1)" font-size="33.4" text-anchor="end">2007</text>
<line x1="509.34" y1="1919.70" x2="509.34" y2="1939.30" stroke="#000" stroke-width="2.8"/>
<text transform="translate(512.54,1991.5) scale(0.755,1)" font-size="33.4" text-anchor="end">2008</text>
<line x1="570.10" y1="1919.70" x2="570.10" y2="1939.30" stroke="#000" stroke-width="2.8"/>
<text transform="translate(573.30,1991.5) scale(0.755,1)" font-size="33.4" text-anchor="end">2009</text>
<line x1="630.86" y1="1919.70" x2="630.86" y2="1939.30" stroke="#000" stroke-width="2.8"/>
<text transform="translate(634.06,1991.5) scale(0.755,1)" font-size="33.4" text-anchor="end">2010</text>
<line x1="691.62" y1="1919.70" x2="691.62" y2="1939.30" stroke="#000" stroke-width="2.8"/>
<text transform="translate(694.82,1991.5) scale(0.755,1)" font-size="33.4" text-anchor="end">2011</text>
<line x1="752.38" y1="1919.70" x2="752.38" y2="1939.30" stroke="#000" stroke-width="2.8"/>
<text transform="translate(755.58,1991.5) scale(0.755,1)" font-size="33.4" text-anchor="end">2012</text>
<line x1="813.14" y1="1919.70" x2="813.14" y2="1939.30" stroke="#000" stroke-width="2.8"/>
<text transform="translate(816.34,1991.5) scale(0.755,1)" font-size="33.4" text-anchor="end">2013</text>
<line x1="873.90" y1="1919.70" x2="873.90" y2="1939.30" stroke="#000" stroke-width="2.8"/>
<text transform="translate(877.10,1991.5) scale(0.755,1)" font-size="33.4" text-anchor="end">2014</text>
<line x1="934.66" y1="1919.70" x2="934.66" y2="1939.30" stroke="#000" stroke-width="2.8"/>
<text transform="translate(937.86,1991.5) scale(0.755,1)" font-size="33.4" text-anchor="end">2015</text>
<line x1="995.42" y1="1919.70" x2="995.42" y2="1939.30" stroke="#000" stroke-width="2.8"/>
<text transform="translate(998.62,1991.5) scale(0.755,1)" font-size="33.4" text-anchor="end">2016</text>
<text transform="translate(1059.38,1991.5) scale(0.755,1)" font-size="33.4" text-anchor="end">2017</text></svg></body></html>
